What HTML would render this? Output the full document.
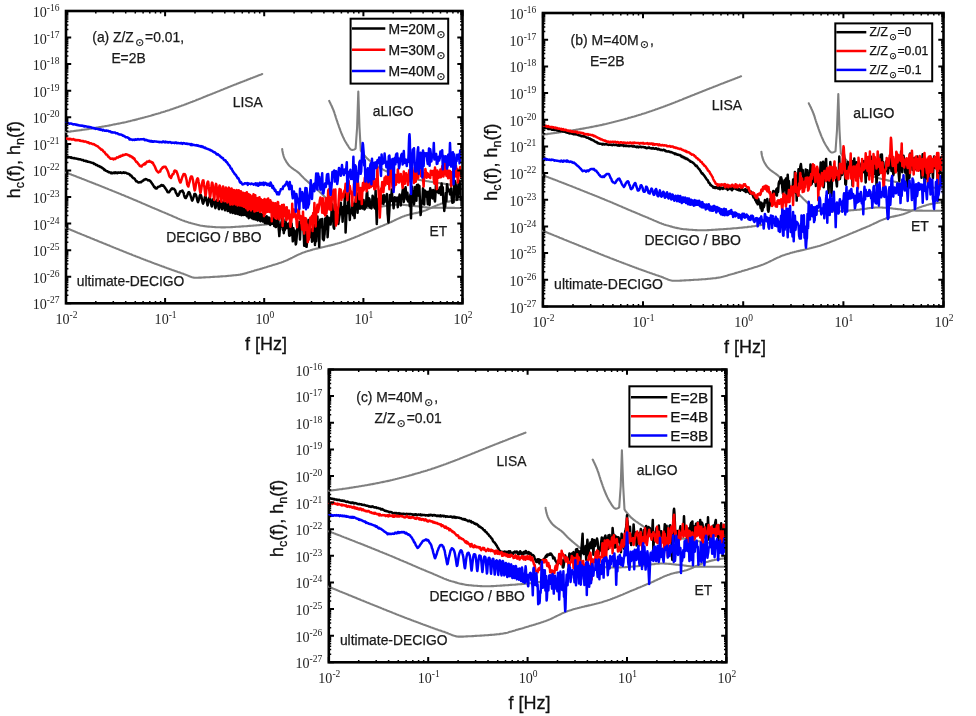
<!DOCTYPE html>
<html lang="en"><head><meta charset="utf-8"><title>Gravitational wave strain spectra</title><style>
html,body{margin:0;padding:0;background:#fff}
svg{display:block;filter:blur(0.35px)}
text{font-family:"Liberation Sans",Arial,sans-serif;fill:#1a1a1a;stroke:#1a1a1a;stroke-width:.25px}
.tk{font-family:"Liberation Serif","Times New Roman",serif;font-size:14.1px;fill:#222;stroke:none}
.sup{font-size:9.5px}
.ax{font-size:18px;fill:#111;stroke:#111;stroke-width:.3px}
.sub{font-size:12.5px}
.lb{font-size:13.85px}
.lbb{font-size:14px}
.lg{font-size:13.9px;fill:#111;stroke:#111}
.lg2{font-size:12.2px;fill:#111;stroke:#111}
.lg3{font-size:15.3px;fill:#111;stroke:#111}
.sun{font-family:"DejaVu Sans",sans-serif;font-size:10.6px}
.sun2{font-family:"DejaVu Sans",sans-serif;font-size:9.2px}
</style></head><body>
<svg width="976" height="716" viewBox="0 0 976 716"><rect width="976" height="716" fill="#fff"/>
<g id="panel-a"><clipPath id="cpa"><rect x="64.6" y="12.4" width="396.5" height="289.5"/></clipPath><rect x="66" y="11" width="396.5" height="292.3" fill="none" stroke="#000" stroke-width="2.6"/><g clip-path="url(#cpa)"><g fill="none" stroke="#808080" stroke-width="2.1" stroke-linejoin="round" stroke-linecap="round"><polyline points="66,132 67,131.9 68,131.8 69,131.7 70,131.6 71,131.4 72,131.3 73,131.2 74,131 75,130.9 75.9,130.8 76.9,130.6 77.9,130.5 78.9,130.4 79.9,130.2 80.9,130.1 81.9,129.9 82.9,129.8 83.9,129.7 84.9,129.5 85.9,129.4 86.9,129.2 87.9,129.1 88.8,128.9 89.8,128.8 90.8,128.6 91.8,128.4 92.8,128.3 93.8,128.1 94.8,128 95.8,127.8 96.8,127.6 97.8,127.5 98.7,127.3 99.7,127.1 100.7,127 101.7,126.8 102.7,126.6 103.7,126.5 104.7,126.3 105.7,126.1 106.6,125.9 107.6,125.7 108.6,125.6 109.6,125.4 110.6,125.2 111.6,125 112.6,124.8 113.5,124.6 114.5,124.4 115.5,124.2 116.5,124 117.5,123.8 118.5,123.6 119.4,123.4 120.4,123.2 121.4,123 122.4,122.8 123.4,122.6 124.3,122.4 125.3,122.2 126.3,122 127.3,121.7 128.2,121.5 129.2,121.3 130.2,121.1 131.2,120.8 132.1,120.6 133.1,120.3 134.1,120.1 135.1,119.9 136,119.6 137,119.4 138,119.1 138.9,118.8 139.9,118.6 140.9,118.3 141.9,118.1 142.8,117.8 143.8,117.6 144.8,117.3 145.7,117 146.7,116.8 147.7,116.5 148.6,116.2 149.6,116 150.6,115.7 151.5,115.4 152.5,115.1 153.5,114.9 154.4,114.6 155.4,114.3 156.3,114 157.3,113.7 158.3,113.5 159.2,113.2 160.2,112.9 161.1,112.6 162.1,112.3 163.1,112 164,111.7 165,111.4 165.9,111.1 166.9,110.8 167.8,110.5 168.8,110.2 169.7,109.9 170.7,109.5 171.6,109.2 172.6,108.9 173.5,108.6 174.5,108.2 175.4,107.9 176.4,107.6 177.3,107.2 178.3,106.9 179.2,106.6 180.1,106.2 181.1,105.9 182,105.5 183,105.2 183.9,104.9 184.9,104.5 185.8,104.2 186.7,103.8 187.7,103.5 188.6,103.1 189.6,102.8 190.5,102.4 191.4,102 192.4,101.7 193.3,101.3 194.2,101 195.2,100.6 196.1,100.2 197,99.8 198,99.5 198.9,99.1 199.8,98.7 200.7,98.4 201.7,98 202.6,97.6 203.5,97.2 204.5,96.8 205.4,96.5 206.3,96.1 207.2,95.7 208.2,95.3 209.1,95 210,94.6 211,94.2 211.9,93.9 212.8,93.5 213.8,93.1 214.7,92.7 215.6,92.4 216.5,92 217.5,91.6 218.4,91.2 219.3,90.9 220.3,90.5 221.2,90.1 222.1,89.7 223.1,89.4 224,89 224.9,88.6 225.8,88.2 226.8,87.9 227.7,87.5 228.6,87.1 229.6,86.8 230.5,86.4 231.4,86 232.4,85.6 233.3,85.3 234.2,84.9 235.2,84.5 236.1,84.2 237,83.8 238,83.4 238.9,83.1 239.8,82.7 240.8,82.3 241.7,82 242.6,81.6 243.6,81.2 244.5,80.9 245.4,80.5 246.4,80.2 247.3,79.8 248.2,79.4 249.2,79.1 250.1,78.7 251,78.3 252,78 252.9,77.6 253.8,77.2 254.8,76.9 255.7,76.5 256.6,76.2 257.6,75.8 258.5,75.4 259.4,75.1 260.4,74.7 261.3,74.4 262.2,74"/><polyline points="66,172.6 66.9,172.9 67.9,173.3 68.8,173.6 69.7,174 70.7,174.3 71.6,174.7 72.6,175.1 73.5,175.4 74.4,175.8 75.4,176.1 76.3,176.5 77.2,176.9 78.2,177.2 79.1,177.6 80,177.9 81,178.3 81.9,178.7 82.8,179 83.8,179.4 84.7,179.8 85.6,180.1 86.6,180.5 87.5,180.9 88.4,181.2 89.4,181.6 90.3,182 91.2,182.3 92.2,182.7 93.1,183.1 94,183.4 95,183.8 95.9,184.2 96.8,184.5 97.8,184.9 98.7,185.3 99.6,185.6 100.6,186 101.5,186.4 102.4,186.8 103.3,187.1 104.3,187.5 105.2,187.9 106.1,188.3 107.1,188.6 108,189 108.9,189.4 109.9,189.8 110.8,190.1 111.7,190.5 112.6,190.9 113.6,191.3 114.5,191.6 115.4,192 116.4,192.4 117.3,192.8 118.2,193.1 119.1,193.5 120.1,193.9 121,194.3 121.9,194.7 122.9,195 123.8,195.4 124.7,195.8 125.6,196.2 126.6,196.6 127.5,196.9 128.4,197.3 129.3,197.7 130.3,198.1 131.2,198.5 132.1,198.9 133,199.3 134,199.7 134.9,200.1 135.8,200.4 136.7,200.8 137.6,201.2 138.6,201.6 139.5,202 140.4,202.4 141.3,202.8 142.2,203.2 143.2,203.6 144.1,204 145,204.4 145.9,204.8 146.9,205.2 147.8,205.6 148.7,206 149.6,206.4 150.5,206.8 151.5,207.2 152.4,207.6 153.3,208 154.2,208.3 155.1,208.7 156.1,209.1 157,209.5 157.9,209.9 158.8,210.3 159.8,210.7 160.7,211.1 161.6,211.5 162.5,211.9 163.5,212.3 164.4,212.6 165.3,213 166.2,213.4 167.2,213.8 168.1,214.2 169,214.6 169.9,215 170.9,215.4 171.8,215.8 172.7,216.2 173.6,216.6 174.5,217 175.5,217.4 176.4,217.8 177.3,218.2 178.2,218.6 179.2,219 180.1,219.4 181,219.7 181.9,220.1 182.9,220.5 183.8,220.8 184.8,221.2 185.7,221.5 186.6,221.8 187.6,222.1 188.5,222.4 189.5,222.7 190.5,222.9 191.4,223.2 192.4,223.5 193.4,223.8 194.3,224 195.3,224.3 196.3,224.5 197.3,224.8 198.2,225 199.2,225.2 200.2,225.5 201.2,225.7 202.2,225.8 203.2,226 204.2,226.1 205.1,226.3 206.1,226.4 207.1,226.5 208.1,226.6 209.1,226.6 210.1,226.7 211.1,226.8 212.1,226.9 213.1,227 214.1,227 215.1,227.1 216.1,227.2 217.1,227.2 218.1,227.3 219.1,227.3 220.1,227.3 221.1,227.4 222.2,227.4 223.2,227.4 224.2,227.4 225.2,227.4 226.2,227.3 227.2,227.3 228.2,227.3 229.2,227.2 230.2,227.2 231.2,227.1 232.2,227.1 233.2,227 234.2,227 235.2,226.9 236.2,226.8 237.2,226.8 238.2,226.7 239.2,226.6 240.2,226.6 241.2,226.5 242.2,226.4 243.2,226.4 244.2,226.3 245.2,226.2 246.2,226.2 247.2,226.1 248.2,226 249.2,225.9 250.2,225.9 251.2,225.8 252.2,225.7 253.2,225.6 254.2,225.5 255.2,225.5 256.2,225.4 257.2,225.3 258.2,225.2 259.2,225.1 260.2,225 261.2,224.9 262.2,224.8 263.2,224.7 264.2,224.6 265.2,224.5 266.2,224.4 267.2,224.3 268.1,224.2 269.1,224.1 270.1,224 271.1,223.8 272.1,223.7 273.1,223.6 274.1,223.4 275.1,223.3 276.1,223.1 277.1,223 278.1,222.8 279.1,222.6 280,222.5 281,222.3 282,222.1 283,221.9 284,221.8 285,221.6 285.1,221.6"/><polyline points="66,227.9 66.9,228.3 67.9,228.6 68.8,229 69.7,229.4 70.6,229.8 71.6,230.2 72.5,230.6 73.4,230.9 74.3,231.3 75.3,231.7 76.2,232.1 77.1,232.5 78,232.9 79,233.2 79.9,233.6 80.8,234 81.7,234.4 82.7,234.8 83.6,235.1 84.5,235.5 85.5,235.9 86.4,236.3 87.3,236.7 88.2,237 89.2,237.4 90.1,237.8 91,238.2 92,238.6 92.9,238.9 93.8,239.3 94.7,239.7 95.7,240.1 96.6,240.4 97.5,240.8 98.4,241.2 99.4,241.6 100.3,242 101.2,242.3 102.2,242.7 103.1,243.1 104,243.5 104.9,243.8 105.9,244.2 106.8,244.6 107.7,245 108.7,245.3 109.6,245.7 110.5,246.1 111.5,246.5 112.4,246.9 113.3,247.2 114.2,247.6 115.2,248 116.1,248.4 117,248.7 118,249.1 118.9,249.5 119.8,249.9 120.7,250.2 121.7,250.6 122.6,251 123.5,251.4 124.5,251.7 125.4,252.1 126.3,252.5 127.2,252.9 128.2,253.2 129.1,253.6 130,254 131,254.3 131.9,254.7 132.8,255.1 133.8,255.5 134.7,255.8 135.6,256.2 136.6,256.6 137.5,256.9 138.4,257.3 139.4,257.6 140.3,258 141.2,258.4 142.2,258.7 143.1,259.1 144,259.5 145,259.8 145.9,260.2 146.8,260.5 147.8,260.9 148.7,261.2 149.7,261.6 150.6,261.9 151.5,262.3 152.5,262.7 153.4,263 154.3,263.4 155.3,263.7 156.2,264.1 157.2,264.4 158.1,264.8 159,265.1 160,265.5 160.9,265.8 161.9,266.2 162.8,266.5 163.7,266.8 164.7,267.2 165.6,267.5 166.6,267.9 167.5,268.2 168.5,268.6 169.4,268.9 170.3,269.2 171.3,269.6 172.2,269.9 173.2,270.2 174.1,270.6 175.1,270.9 176,271.2 177,271.6 177.9,271.9 178.9,272.2 179.8,272.5 180.8,272.9 181.7,273.2 182.7,273.5 183.6,273.9 184.5,274.2 185.5,274.6 186.4,275 187.4,275.4 188.3,275.8 189.3,276.2 190.2,276.6 191.2,276.9 192.2,277.2 193.1,277.4 194.1,277.6 195.1,277.7 196,277.7 197,277.7 198,277.7 199,277.6 200,277.6 201,277.6 202,277.5 203,277.5 204,277.4 205,277.4 206,277.3 207,277.3 208,277.2 209.1,277.2 210.1,277.1 211.1,277 212.1,277 213.1,276.9 214.1,276.9 215.1,276.8 216.1,276.8 217.1,276.7 218.1,276.6 219.1,276.6 220.1,276.5 221.1,276.4 222.1,276.4 223.1,276.3 224.1,276.2 225.1,276.2 226.1,276.1 227.1,276 228.1,275.9 229.1,275.8 230.1,275.7 231.1,275.6 232.1,275.5 233.1,275.4 234.1,275.3 235.1,275.2 236.1,275.1 237.1,275 238,274.9 239,274.7 240,274.6 241,274.4 242,274.2 242.9,273.9 243.9,273.7 244.9,273.4 245.9,273.2 246.8,272.9 247.8,272.6 248.8,272.3 249.7,272 250.7,271.7 251.6,271.4 252.6,271.2 253.6,270.9 254.5,270.6 255.5,270.3 256.5,270.1 257.4,269.8 258.4,269.5 259.4,269.2 260.3,268.9 261.3,268.7 262.2,268.4 263.2,268.1 264.2,267.8 265.1,267.5 266.1,267.2 267,266.9 268,266.6 269,266.3 269.9,266 270.9,265.7 271.8,265.4 272.8,265.1 273.7,264.8 274.7,264.6 275.7,264.3 276.6,264 277.6,263.7 278.5,263.3 279.5,263 280.4,262.7 281.4,262.4 282.3,262.1 283.3,261.7 284.2,261.3 285.1,261 286,260.6 287,260.2 287.9,259.8 288.8,259.3 289.7,258.9 290.6,258.5 291.5,258 292.4,257.6 293.3,257.1 294.2,256.7 295.1,256.2 296,255.8 296.9,255.3 297.8,254.9 298.7,254.5 299.6,254.1 300.6,253.7 301.5,253.3 302.4,252.9 303.3,252.5 304.3,252.2 305.2,251.9 306.1,251.6 307.1,251.3 308,251 309,250.7 310,250.4 310.9,250.1 311.9,249.9 312.8,249.6 313.8,249.3 314.8,249.1 315.8,248.8 316.7,248.6 317.7,248.4 318.7,248.1 319.7,247.9 320.6,247.7 321.6,247.4 322.6,247.2 323.6,247 324.6,246.7 325.6,246.5 326.5,246.3 327.5,246.1 328.5,245.8 329.5,245.6 330.5,245.4 331.4,245.1 332.4,244.9 333.4,244.6 334.3,244.4 335.3,244.1 336.3,243.8 337.2,243.6 338.2,243.3 339.2,243 340.1,242.7 341.1,242.4 342,242.1 343,241.8 343.9,241.5 344.9,241.2 345.8,240.8 346.7,240.5 347.7,240.1 348.6,239.8 349.6,239.4 350.5,239.1 351.4,238.7 352.4,238.3 353.3,238 354.2,237.6 355.1,237.2 356.1,236.8 357,236.5 357.9,236.1 358.9,235.7 359.8,235.3 360.7,234.9 361.6,234.5 362.6,234.1 363.5,233.7 364.4,233.3 365.3,232.9 366.3,232.6 367.2,232.2 368.1,231.8 369,231.4 370,231 370.9,230.6 371.8,230.2 372.7,229.8 373.7,229.4 374.6,229.1 375.5,228.7 376.4,228.3 377.4,227.9 378.3,227.5 379.2,227.1 380.1,226.7 381.1,226.3 382,226 382.9,225.6 383.8,225.2 384.7,224.8 385.7,224.4 386.6,224 387.5,223.6 388.4,223.2 389.3,222.8 390.3,222.4 391.2,222 392.1,221.5 393,221.1 393.9,220.7 394.8,220.2 395.7,219.8 396.6,219.4 397.5,218.9 398.5,218.5 399.4,218.1 400.3,217.7 401.2,217.3 402.1,216.9 403,216.5 404,216.2 404.9,215.8 405.9,215.5 406.8,215.2 407.8,214.9 408.7,214.7 409.7,214.4 410.7,214.2 411.6,214 412.6,213.7 413.6,213.5 414.6,213.3 415.6,213.1 416.6,212.9 417.6,212.7 418.5,212.4 419.5,212.2 420.5,212 421.4,211.7 422.4,211.4 423.4,211.1 424.3,210.8 425.2,210.5 426.2,210.1 427.1,209.7 428,209.3 428.9,208.9 429.8,208.5 430.7,208.1 431.7,207.6 432.6,207.2 433.5,206.8 434.4,206.4 435.3,206 436.2,205.6 437.2,205.2 438.1,204.8 439.1,204.5 440,204.2 440.9,203.8 441.9,203.5 442.9,203.2 443.8,202.9 444.8,202.6 445.7,202.3 446.7,202 447.7,201.8 448.6,201.6 449.6,201.4 450.6,201.1 451.6,201 452.5,200.8 453.5,200.6 454.5,200.4 455.5,200.2 456.5,200.1 457.5,199.9 458.5,199.8 459.5,199.7 460.5,199.6 461.5,199.5 462.5,199.4 462.5,199.4"/><polyline points="282.2,149.1 282.3,150.2 282.5,151.2 282.7,152.2 282.9,153.2 283.1,154.1 283.4,155.1 283.6,156 283.9,156.9 284.3,157.9 284.7,158.8 285.2,159.7 285.7,160.6 286.2,161.5 286.7,162.4 287.3,163.2 287.9,164 288.5,164.8 289.1,165.5 289.8,166.2 290.5,166.8 291.3,167.5 292.1,168.1 292.9,168.7 293.8,169.3 294.6,169.8 295.4,170.4 296.3,171 297.1,171.6 297.9,172.2 298.7,172.9 299.4,173.5 300.1,174.2 300.8,175 301.5,175.7 302.2,176.4 302.9,177.1 303.6,177.9 304.3,178.6 305,179.3 305.8,179.9 306.5,180.6 307.3,181.3 308,181.9 308.8,182.6 309.5,183.2 310.3,183.9 311.1,184.5 311.8,185.2 312.6,185.8 313.4,186.5 314.1,187.1 314.9,187.7 315.7,188.4 316.4,189 317.2,189.7 318,190.4 318.7,191 319.5,191.7 320.2,192.4 320.9,193.1 321.6,193.8 322.3,194.5 323,195.2 323.8,195.9 324.5,196.6 325.2,197.3 325.9,198 326.6,198.8 327.3,199.5 328,200.1 328.7,200.8 329.5,201.5 330.2,202.1 331,202.8 331.8,203.6 332.5,204.3 333.3,205.1 334.1,205.8 334.9,206.5 335.7,207.1 336.6,207.6 337.4,207.9 338.3,208.1 339.2,208.2 340.1,208.2 341.1,208.3 342.1,208.4 343.1,208.4 344.1,208.5 345.1,208.5 346.1,208.6 347.2,208.6 348.2,208.6 349.3,208.6 350.3,208.7 351.3,208.7 352.3,208.7 353.3,208.7 354.3,208.6 355.3,208.6 356.3,208.6 357.3,208.6 358.3,208.5 359.3,208.5 360.3,208.4 361.3,208.3 362.3,208.3 363.3,208.2 364.3,208.1 365.3,208 366.3,207.9 367.3,207.9 368.3,207.8 369.3,207.7 370.3,207.6 371.3,207.5 372.3,207.4 373.3,207.3 374.3,207.2 375.3,207.1 376.3,207.1 377.3,207 378.3,206.9 379.3,206.8 380.3,206.6 381.3,206.5 382.3,206.4 383.3,206.2 384.3,206.1 385.3,205.9 386.3,205.8 387.3,205.6 388.3,205.5 389.3,205.4 390.3,205.2 391.3,205.1 392.3,205 393.3,204.9 394.3,204.8 395.3,204.8 396.3,204.7 397.2,204.7 398.2,204.7 399.2,204.7 400.2,204.7 401.2,204.7 402.2,204.8 403.2,204.9 404.2,204.9 405.2,205 406.2,205.1 407.2,205.2 408.2,205.3 409.2,205.4 410.2,205.5 411.2,205.6 412.2,205.7 413.2,205.9 414.2,206 415.2,206.1 416.2,206.2 417.2,206.3 418.2,206.4 419.2,206.5 420.2,206.6 421.2,206.8 422.2,206.9 423.2,207 424.2,207.2 425.2,207.3 426.2,207.4 427.2,207.5 428.2,207.6 429.2,207.6 430.2,207.7 431.2,207.7 432.2,207.7 433.2,207.7 434.2,207.7 435.2,207.8 436.2,207.8 437.2,207.8 438.2,207.8 439.2,207.8 440.2,207.8 441.2,207.8 442.2,207.8 443.2,207.9 444.2,207.9 445.2,207.9 446.2,207.9 447.2,207.9 448.2,207.9 449.2,207.9 450.2,207.9 451.2,207.9 452.2,207.9 453.2,207.9 454.2,207.9 455.2,208 456.2,208 457.2,208 458.2,208 459.2,208 460.3,208 461.3,208 462.3,208 462.5,208"/><polyline points="329.2,100.9 329.6,101.8 330.1,102.7 330.5,103.6 330.9,104.5 331.4,105.4 331.8,106.3 332.2,107.3 332.6,108.2 333,109.1 333.4,110 333.7,111 334.1,111.9 334.4,112.8 334.7,113.8 335,114.7 335.3,115.7 335.6,116.6 335.9,117.6 336.2,118.5 336.5,119.5 336.8,120.5 337.2,121.4 337.5,122.4 337.8,123.3 338.1,124.2 338.5,125.2 338.8,126.1 339.1,127.1 339.5,128 339.8,129 340.2,129.9 340.5,130.8 340.9,131.8 341.2,132.7 341.6,133.6 342,134.5 342.4,135.5 342.8,136.4 343.2,137.3 343.7,138.2 344.1,139.1 344.5,140 345,140.9 345.5,141.8 346,142.6 346.5,143.5 347.1,144.4 347.7,145.3 348.3,146.3 348.9,147.3 349.6,148.2 350.3,149 351,149.6 351.7,149.9 352.5,149.9 353.4,149.7 354.4,149.4 355.4,148.8 355.6,148.6 357.1,127.6 358.3,91.6 359.5,127.6 360.8,150.6 361.4,151.5 362,152.3 362.6,153.2 363.2,154 363.8,154.7 364.5,155.5 365.1,156.3 365.8,157 366.5,157.7 367.2,158.4 367.9,159.1 368.6,159.8 369.4,160.4 370.2,161 371,161.6 371.8,162.2 372.6,162.8 373.4,163.4 374.3,163.9 375.1,164.5 376,165.1 376.8,165.6 377.6,166.2 378.5,166.8 379.3,167.3 380.1,167.9 381,168.4 381.9,168.9 382.7,169.4 383.6,169.9 384.5,170.4 385.4,170.8 386.3,171.2 387.2,171.6 388.1,172 389,172.4 390,172.7 390.9,173.1 391.9,173.4 392.8,173.8 393.8,174.1 394.7,174.4 395.7,174.7 396.6,175 397.6,175.3 398.6,175.6 399.5,175.8 400.5,176.1 401.5,176.3 402.4,176.6 403.4,176.8 404.4,177 405.4,177.3 406.3,177.5 407.3,177.7 408.3,177.9 409.3,178.1 410.3,178.3 411.3,178.4 412.2,178.6 413.2,178.8 414.2,179 415.2,179.2 416.2,179.3 417.2,179.5 418.2,179.7 419.2,179.9 420.2,180 421.2,180.2 422.1,180.4 423.1,180.5 424.1,180.7 425.1,180.8 426.1,181 427.1,181.2 428.1,181.3 429.1,181.5 430,181.7 431,181.8 432,182 433,182.1 434,182.3 435,182.4 436,182.6 437,182.7 438,182.9 439,183 440,183.2 440.9,183.3 441.9,183.5 442.9,183.6 443.9,183.8 444.9,183.9 445.9,184 446.9,184.2 447.9,184.3 448.9,184.4 449.9,184.6 450.9,184.7 451.9,184.8 452.9,185 453.9,185.1 454.9,185.2 455.9,185.3 456.9,185.4 457.9,185.5 458.8,185.7 459.8,185.8 460.8,185.9 461.8,186 462.5,186.1"/></g><g fill="none" stroke-width="2.5" stroke-linejoin="round" stroke-linecap="butt"><polyline stroke="#000" points="66,156.6 66.3,156.9 66.6,157.1 66.9,157.2 67.2,157.2 67.5,157 67.8,156.8 68.1,157 68.4,157.2 68.7,157.1 69,157.1 69.3,157.2 69.6,157.3 69.9,157.2 70.2,157.2 70.5,157.5 70.8,157.7 71.1,157.6 71.4,157.4 71.7,157.7 72,158 72.3,158 72.6,158.1 72.9,158.1 73.2,158 73.5,158.2 73.8,158.3 74.1,158.2 74.4,158 74.7,158.2 75,158.4 75.3,158.4 75.6,158.5 75.9,158.5 76.2,158.6 76.5,158.6 76.8,158.7 77.1,158.8 77.4,159 77.7,159 78,159 78.3,159 78.6,158.9 78.9,159.2 79.2,159.4 79.5,159.3 79.8,159.3 80.1,159.3 80.4,159.4 80.7,159.5 81,159.6 81.3,159.7 81.6,159.9 81.9,159.9 82.2,160 82.5,159.9 82.8,159.9 83.1,160.1 83.4,160.3 83.7,160.6 84,160.9 84.3,160.8 84.6,160.8 84.9,160.8 85.2,160.7 85.5,161 85.8,161.2 86.1,161.1 86.4,161.1 86.7,161.1 87,161.2 87.3,161.5 87.6,161.8 87.9,161.7 88.2,161.7 88.5,161.8 88.8,161.9 89.1,161.9 89.4,161.9 89.7,162 90,162.1 90.3,162.3 90.6,162.4 90.9,162.5 91.2,162.6 91.5,162.6 91.8,162.7 92.1,162.9 92.4,163 92.7,163 93,162.9 93.3,163 93.6,163.1 93.9,163.5 94.2,164 94.5,164 94.8,164 95.1,164.1 95.4,164.2 95.7,164.6 96,165 96.3,165.1 96.6,165.1 96.9,165.1 97.2,165.1 97.5,165.4 97.8,165.8 98.1,166 98.4,166.1 98.7,166 99,165.9 99.3,166.2 99.6,166.5 99.9,166.8 100.2,167 100.5,166.9 100.8,166.8 101.1,167.1 101.4,167.4 101.7,167.6 102,167.7 102.3,168 102.6,168.3 102.9,168.4 103.2,168.5 103.5,168.8 103.8,169 104.1,169.6 104.4,170.1 104.7,170 105,169.8 105.3,170.2 105.6,170.6 105.9,170.8 106.2,170.9 106.5,171 106.8,171 107.1,171.2 107.4,171.3 107.7,171.6 108,171.8 108.3,172 108.6,172.2 108.9,172.1 109.2,172.1 109.5,172.2 109.8,172.4 110.1,172.5 110.4,172.7 110.7,172.9 111,173.1 111.3,172.8 111.6,172.6 111.9,173 112.2,173.3 112.5,173.2 112.8,173.1 113.1,172.9 113.4,172.7 113.7,172.6 114,172.5 114.3,172.8 114.6,173.1 114.9,172.7 115.2,172.3 115.5,172.6 115.8,172.8 116.1,173 116.4,173.1 116.7,172.8 117,172.5 117.3,173 117.6,173.2 117.9,172.9 118.2,172.4 118.5,172.5 118.8,172.6 119.1,172.7 119.4,172.8 119.7,172.7 120,172.6 120.3,172.4 120.6,172.2 120.9,172.6 121.2,172.9 121.5,172.9 121.8,172.9 122.1,172.9 122.4,172.7 122.7,172.7 123,172.7 123.3,172.5 123.6,172.3 123.9,172.6 124.2,172.9 124.5,172.7 124.8,172.5 125.1,172.6 125.4,172.8 125.7,172.8 126,172.8 126.3,173 126.6,173.2 126.9,173.4 127.2,173.5 127.5,173.6 127.8,173.6 128.1,173.7 128.4,173.8 128.7,173.9 129,174.1 129.3,174.2 129.6,174.3 129.9,174.8 130.2,175.4 130.5,175.4 130.8,175.5 131.1,175.5 131.4,175.6 131.7,176.3 132,177 132.3,177.2 132.6,177.4 132.9,177.7 133.2,178 133.5,178.1 133.8,178.3 134.1,178.4 134.4,178.6 134.7,179 135,179.3 135.3,179.8 135.6,180.3 135.9,180.8 136.2,181.3 136.5,181.3 136.8,181.2 137.1,181.5 137.4,181.8 137.7,182 138,182.2 138.3,182.4 138.6,182.6 138.9,182.5 139.2,182.3 139.5,182.3 139.8,182.3 140.1,182.2 140.4,182 140.7,182.1 141,182.2 141.3,181.8 141.6,181.4 141.9,181.4 142.2,181.3 142.5,181 142.8,180.7 143.1,180.6 143.4,180.6 143.7,180.1 144,179.7 144.3,179.6 144.6,179.6 144.9,179.6 145.2,179.6 145.5,179.3 145.8,179 146.1,179.2 146.4,179.3 146.7,179.4 147,179.4 147.3,179.7 147.6,180 147.9,180.2 148.2,180.4 148.5,180.3 148.8,180.2 149.1,180.2 149.4,180.2 149.7,180.6 150,181 150.3,181.1 150.6,181.3 150.9,181.8 151.2,182.4 151.5,182.7 151.8,183.1 152.1,183.6 152.4,184.1 152.7,184.5 153,184.8 153.3,185.4 153.6,185.9 153.9,186.5 154.2,187 154.5,186.9 154.8,187 155.1,187.6 155.4,188.3 155.7,188.4 156,188.4 156.3,188.5 156.6,188.6 156.9,188.3 157.2,187.9 157.5,187.5 157.8,187 158.1,186.9 158.4,186.7 158.7,186.7 159,186.6 159.3,186.5 159.6,186.4 159.9,186.3 160.2,186.2 160.5,186 160.8,185.7 161.1,185.3 161.4,184.9 161.7,185 162,185.2 162.3,185.5 162.6,185.8 162.9,185.6 163.2,185.4 163.5,185.7 163.8,186.1 164.1,186.4 164.4,186.8 164.7,187.4 165,188 165.3,188.2 165.6,188.5 165.9,189.1 166.2,189.6 166.5,190 166.8,190.3 167.1,191.1 167.4,191.9 167.7,192.1 168,192.2 168.3,192.3 168.6,192.3 168.9,192.3 169.2,192.2 169.5,191.7 169.8,191.2 170.1,190.7 170.4,190.3 170.7,189.9 171,189.4 171.3,189.1 171.6,188.8 171.9,188.5 172.2,188.3 172.5,188.6 172.8,189 173.1,189 173.4,188.9 173.7,188.8 174,188.8 174.3,189.2 174.6,189.6 174.9,189.9 175.2,190.3 175.5,191.4 175.8,192.6 176.1,193 176.4,193.4 176.7,194 177,194.5 177.3,195.3 177.6,195.8 177.9,195.8 178.2,195.4 178.5,195.1 178.8,194.7 179.1,194 179.4,193.2 179.7,192.4 180,191.7 180.3,191.4 180.6,191.2 180.9,191.2 181.2,191.2 181.5,191.1 181.8,191 182.1,190.7 182.4,190.5 182.7,191.3 183,192.2 183.3,192.4 183.6,192.7 183.9,194.3 184.2,195.7 184.5,196.6 184.8,197.3 185.1,197.7 185.4,197.9 185.7,198.1 186,197.9 186.3,197.3 186.6,196.5 186.9,196 187.2,195.5 187.5,194.7 187.8,194.1 188.1,193.2 188.4,192.5 188.7,192.2 189,192.1 189.3,192.4 189.6,193 189.9,193.7 190.2,194.6 190.5,195.5 190.8,196.5 191.1,197.4 191.4,198.2 191.7,199.5 192,200.5 192.3,200.6 192.6,199.9 192.9,199.2 193.2,198.2 193.5,197.3 193.8,196.4 194.1,195.2 194.4,194.1 194.7,193.9 195,193.9 195.3,194 195.6,194.4 195.9,195 196.2,195.8 196.5,196.8 196.8,198 197.1,199.3 197.4,200.5 197.7,201.6 198,202.1 198.3,201.5 198.6,200.4 198.9,199.5 199.2,198.6 199.5,196.8 199.8,195.6 200.1,195 200.4,195.1 200.7,195 201,195.3 201.3,196.3 201.6,197.6 201.9,199 202.2,200.4 202.5,201.9 202.8,203.1 203.1,203.6 203.4,202.9 203.7,201.9 204,200.8 204.3,199.5 204.6,198.4 204.9,197.1 205.2,196.4 205.5,196.6 205.8,197.2 206.1,198.3 206.4,199.9 206.7,201.1 207,202.4 207.3,204.3 207.6,205.4 207.9,204.4 208.2,202.7 208.5,201.1 208.8,199.5 209.1,198.3 209.4,197.6 209.7,197.6 210,198.2 210.3,199.2 210.6,200.7 210.9,202.3 211.2,204 211.5,205.9 211.8,206.4 212.1,204.9 212.4,202.9 212.7,201.1 213,199.7 213.3,199 213.6,199 213.9,199.7 214.2,201.1 214.5,203.1 214.8,205.2 215.1,207.2 215.4,208.1 215.7,207.3 216,205.6 216.3,203.5 216.6,201.6 216.9,200.2 217.2,199.7 217.5,200.2 217.8,201.7 218.1,203.9 218.4,206.4 218.7,208.7 219,209.2 219.3,206.9 219.6,204.3 219.9,202.3 220.2,201 220.5,201 220.8,202 221.1,203.8 221.4,206.1 221.7,208.1 222,209.3 222.3,208.4 222.6,206.1 222.9,204.1 223.2,202.7 223.5,201.6 223.8,201.8 224.1,203.7 224.4,206.4 224.7,208.8 225,210.3 225.3,208.8 225.6,206.1 225.9,204.2 226.2,203.2 226.5,202.6 226.8,203.4 227.1,205.4 227.4,208.1 227.7,211.1 228,211.1 228.3,208.2 228.6,205.3 228.9,203 229.2,202.3 229.5,203.8 229.8,206.7 230.1,210.2 230.4,212.6 230.7,210.6 231,207.3 231.3,205 231.6,204.1 231.9,204.7 232.2,207 232.5,210.3 232.8,213 233.1,211.7 233.4,208.4 233.7,205.9 234,204.9 234.3,205.4 234.6,207.8 234.9,211.3 235.2,213.7 235.5,211.3 235.8,207.8 236.1,205.2 236.4,204.8 236.7,206.7 237,210.3 237.3,213.9 237.6,213.4 237.9,209.8 238.2,206.7 238.5,205.7 238.8,207.1 239.1,210.8 239.4,214.7 239.7,213.7 240,209.8 240.3,206.7 240.6,206 240.9,208.3 241.2,212.4 241.5,215.3 241.8,212.6 242.1,208.3 242.4,206 242.7,207.2 243,211.3 243.3,215 243.6,214.2 243.9,210.1 244.2,207.1 244.5,207.4 244.8,210.7 245.1,214.9 245.4,214.9 245.7,211.2 246,208.7 246.3,208.3 246.6,211.3 246.9,216.3 247.2,216 247.5,212.1 247.8,209.8 248.1,211 248.4,215.2 248.7,218.2 249,214 249.3,210.2 249.6,209.5 249.9,212.6 250.2,217.3 250.5,216.2 250.8,211.1 251.1,208.7 251.4,210.5 251.7,216.2 252,218.3 252.3,213.2 252.6,209.9 252.9,212.4 253.2,218.1 253.5,219 253.8,213.5 254.1,210.5 254.4,212.2 254.7,218 255,219.1 255.3,213.6 255.6,211.2 255.9,214.4 256.2,219.6 256.5,217.4 256.8,213.1 257.1,212.7 257.4,216.9 257.7,220.5 258,216.2 258.3,212.5 258.6,214.4 258.9,219.4 259.2,216.3 259.5,212.7 259.8,214.5 260.1,220.7 260.4,221.3 260.7,216.2 261,215.6 261.3,218.6 261.6,219.2 261.9,214.1 262.2,214.1 262.5,219.2 262.8,221.6 263.1,216.1 263.4,215 263.7,219.7 264,221 264.3,216.8 264.6,217.7 264.9,223.1 265.2,222.7 265.5,216.9 265.8,217.3 266.1,223.3 266.4,220.1 266.7,216.3 267,219.5 267.3,223.2 267.6,217.9 267.9,217.6 268.2,223.4 268.5,221.7 268.8,217.5 269.1,220.5 269.4,223.8 269.7,219 270,219.8 270.3,225 270.6,221 270.9,218.4 271.2,223.3 271.5,223.1 271.8,218.7 272.1,221.6 272.4,223.8 272.7,218.3 273,219.7 273.3,223.5 273.6,217.7 273.9,219.8 274.2,226 274.5,220.2 274.8,220 275.1,226.4 275.4,222.7 275.7,222.8 276,227.1 276.3,221.1 276.6,221.3 276.9,225.7 277.2,221.2 277.5,220.6 277.8,219.7 278.1,217.6 278.4,223.6 278.7,228.8 279,231.8 279.3,236.1 279.6,232.1 279.9,228.7 280.2,229.5 280.5,224.6 280.8,227.2 281.1,226.5 281.4,223 281.7,224.5 282,217.3 282.3,222.1 282.6,227.2 282.9,225.1 283.2,230.5 283.5,229.3 283.8,233.2 284.1,230.4 284.4,224.1 284.7,230.3 285,228.6 285.3,226 285.6,219.2 285.9,222.5 286.2,228.1 286.5,225 286.8,228.2 287.1,224.5 287.4,227.2 287.7,225.5 288,227.1 288.3,225.5 288.6,223.5 288.9,231.2 289.2,235.6 289.5,235.8 289.8,230.7 290.1,235.3 290.4,234 290.7,232.4 291,225.1 291.3,226.8 291.6,223.6 291.9,227.9 292.2,227.7 292.5,236.6 292.8,241.3 293.1,237 293.4,228.3 293.7,234.5 294,236.4 294.3,233.9 294.6,230.4 294.9,235.9 295.2,238.5 295.5,241.8 295.8,244.5 296.1,243.5 296.4,240.3 296.7,236.7 297,233.4 297.3,228.7 297.6,227.5 297.9,225.1 298.2,225.8 298.5,226.4 298.8,228.4 299.1,225.9 299.4,221.8 299.7,232.1 300,239.5 300.3,232 300.6,224 300.9,224.2 301.2,226.6 301.5,223.6 301.8,222.2 302.1,224.8 302.4,225.7 302.7,226.9 303,227 303.3,228.3 303.6,231.3 303.9,238.3 304.2,245.7 304.5,236.9 304.8,226.1 305.1,227.1 305.4,229.2 305.7,234.3 306,239.7 306.3,246.7 306.6,246.8 306.9,243.4 307.2,230.3 307.5,229.6 307.8,227.8 308.1,223.6 308.4,220.1 308.7,223.6 309,227.2 309.3,229.3 309.6,231.6 309.9,234.1 310.2,236.9 310.5,234.8 310.8,232.8 311.1,231.3 311.4,229.6 311.7,235.5 312,241.8 312.3,235.8 312.6,229.1 312.9,234.6 313.2,240.5 313.5,238.3 313.8,235.9 314.1,230.5 314.4,225.2 314.7,234.9 315,244.9 315.3,235.1 315.6,225.1 315.9,233.2 316.2,241.2 316.5,233.7 316.8,226.3 317.1,221.3 317.4,216.5 317.7,225.2 318,233.8 318.3,229.5 318.6,225 318.9,236.9 319.2,246.7 319.5,236.2 319.8,223.7 320.1,221.5 320.4,219.4 320.7,223.3 321,227.2 321.3,227.1 321.6,227 321.9,223 322.2,218.9 322.5,230.1 322.8,239 323.1,239 323.4,239.6 323.7,240.3 324,238.5 324.3,235.7 324.6,234.3 324.9,227.5 325.2,218.5 325.5,223 325.8,229.1 326.1,224.7 326.4,220 326.7,218 327,215.9 327.3,226.5 327.6,237.2 327.9,232.5 328.2,227.9 328.5,223.2 328.8,217.8 329.1,219.8 329.4,222.1 329.7,220.5 330,219.2 330.3,222.3 330.6,224.5 330.9,221.6 331.2,219.2 331.5,212.2 331.8,204.2 332.1,207.7 332.4,212 332.7,212.9 333,212.4 333.3,219.2 333.6,227 333.9,228.1 334.2,228.6 334.5,218.2 334.8,207.5 335.1,205.2 335.4,204.3 335.7,208.7 336,212.7 336.3,213.8 336.6,213.2 336.9,213.9 337.2,214.8 337.5,215.6 337.8,218 338.1,220.1 338.4,224 338.7,221 339,219.1 339.3,216.9 339.6,215.2 339.9,211.1 340.2,207.5 340.5,204.7 340.8,202.8 341.1,207.6 341.4,214.1 341.7,210.9 342,209.4 342.3,215.3 342.6,221.7 342.9,215 343.2,206.9 343.5,208.2 343.8,208.7 344.1,206.4 344.4,205.5 344.7,199.3 345,192.9 345.3,212.7 345.6,232.4 345.9,225.5 346.2,219.3 346.5,213 346.8,206.2 347.1,209.4 347.4,213.1 347.7,209.5 348,206 348.3,199.5 348.6,192.6 348.9,201.1 349.2,209.9 349.5,214.9 349.8,220 350.1,215.2 350.4,210.3 350.7,210.5 351,210.6 351.3,211.6 351.6,212.6 351.9,207.2 352.2,201.8 352.5,208 352.8,214.2 353.1,214.8 353.4,215.5 353.7,209.9 354,204.1 354.3,211.1 354.6,218.1 354.9,211.9 355.2,205.8 355.5,202.3 355.8,199 356.1,198.9 356.4,198.3 356.7,195.6 357,193.5 357.3,203.7 357.6,212.7 357.9,203.5 358.2,195.3 358.5,201.3 358.8,206.8 359.1,201.7 359.4,195.6 359.7,201.4 360,208.6 360.3,201 360.6,194.9 360.9,200.4 361.2,206.4 361.5,206.9 361.8,207.2 362.1,207.9 362.4,208.5 362.7,207.7 363,207.7 363.3,203 363.6,200 363.9,203.9 364.2,208.3 364.5,209.4 364.8,208.9 365.1,207.4 365.4,206.8 365.7,207.2 366,207 366.3,200.6 366.6,194.7 366.9,193.4 367.2,191.4 367.5,197.2 367.8,203.1 368.1,204.5 368.4,206 368.7,202.1 369,198.2 369.3,198.9 369.6,199.5 369.9,203.6 370.2,207.7 370.5,205.4 370.8,203.1 371.1,205.7 371.4,208.4 371.7,206.2 372,204.3 372.3,200.3 372.6,195.7 372.9,196.9 373.2,198.9 373.5,200.8 373.8,201.6 374.1,204.4 374.4,207.7 374.7,207.3 375,208.4 375.3,199.5 375.6,190.5 375.9,199.5 376.2,207.4 376.5,216.2 376.8,223.9 377.1,213.7 377.4,203.6 377.7,200.8 378,199.5 378.3,198.9 378.6,198.4 378.9,203.6 379.2,208.4 379.5,205.3 379.8,202.6 380.1,202.5 380.4,202.5 380.7,200 381,197 381.3,200.2 381.6,203.5 381.9,199.6 382.2,195.8 382.5,196.4 382.8,197.1 383.1,200.8 383.4,204.1 383.7,199.6 384,195.3 384.3,198.4 384.6,202 384.9,199.9 385.2,197.7 385.5,198.2 385.8,198 386.1,198 386.4,199.3 386.7,194.6 387,194 387.3,204.3 387.6,213.5 387.9,216.1 388.2,220.5 388.5,222.5 388.8,219.2 389.1,214.7 389.4,209.7 389.7,202 390,194.9 390.3,196.4 390.6,198.1 390.9,199.5 391.2,200.9 391.5,195.2 391.8,189.4 392.1,194.9 392.4,200.2 392.7,200.6 393,201.2 393.3,204.6 393.6,208.3 393.9,205.4 394.2,202.8 394.5,200.6 394.8,197.2 395.1,198.1 395.4,199.6 395.7,199.7 396,201 396.3,199.6 396.6,198.6 396.9,198.9 397.2,197.6 397.5,202.1 397.8,207.2 398.1,202.6 398.4,197.4 398.7,198.1 399,198.9 399.3,196.7 399.6,194.6 399.9,195.6 400.2,196.8 400.5,201.3 400.8,205.5 401.1,200.7 401.4,196.1 401.7,197.1 402,197.2 402.3,193.5 402.6,191 402.9,189 403.2,188.8 403.5,194.9 403.8,201.9 404.1,198.4 404.4,193.5 404.7,191.7 405,190.4 405.3,189 405.6,187.3 405.9,191 406.2,194.6 406.5,197.1 406.8,199.4 407.1,196 407.4,192.8 407.7,197.2 408,201.5 408.3,198.8 408.6,197.5 408.9,196.7 409.2,196.8 409.5,200.7 409.8,206.1 410.1,200.1 410.4,194.6 410.7,206.5 411,218.3 411.3,205.9 411.6,193.3 411.9,189.9 412.2,186.7 412.5,189.4 412.8,191.5 413.1,192.1 413.4,193.3 413.7,199.7 414,204.4 414.3,201.8 414.6,197.7 414.9,193.2 415.2,186.9 415.5,193.2 415.8,200 416.1,200.5 416.4,200.6 416.7,192.7 417,185 417.3,190.2 417.6,195.6 417.9,190.4 418.2,184.7 418.5,190 418.8,195.7 419.1,188.8 419.4,186 419.7,195.4 420,203.9 420.3,208.9 420.6,215.1 420.9,212.2 421.2,203.1 421.5,201 421.8,204 422.1,200.7 422.4,201 422.7,194.3 423,188.3 423.3,193.3 423.6,196.9 423.9,201.1 424.2,204.6 424.5,197.2 424.8,190.6 425.1,193.7 425.4,196.5 425.7,195.6 426,194.5 426.3,192.9 426.6,191.8 426.9,194.4 427.2,195.2 427.5,200.5 427.8,204.2 428.1,198.3 428.4,191.8 428.7,193.5 429,195.5 429.3,200.2 429.6,205 429.9,196.6 430.2,188.2 430.5,192.4 430.8,197.7 431.1,194.2 431.4,191.1 431.7,190.5 432,191 432.3,194.9 432.6,198.5 432.9,194.4 433.2,190.1 433.5,190.8 433.8,192.3 434.1,196 434.4,198.5 434.7,200.2 435,201.5 435.3,196.5 435.6,191.9 435.9,185.9 436.2,180 436.5,184.5 436.8,189.4 437.1,190 437.4,191.9 437.7,190.2 438,189.8 438.3,191.4 438.6,193.1 438.9,192.8 439.2,192.8 439.5,190.6 439.8,187.4 440.1,188.7 440.4,191 440.7,192.9 441,194.7 441.3,189.1 441.6,183.4 441.9,188.1 442.2,192.8 442.5,190.1 442.8,187.2 443.1,195.5 443.4,203.3 443.7,203.7 444,206.1 444.3,211 444.6,206 444.9,204.6 445.2,206.7 445.5,201.2 445.8,193 446.1,196.9 446.4,201 446.7,192.7 447,184.2 447.3,185.6 447.6,187.5 447.9,189.9 448.2,191.3 448.5,190.7 448.8,190.7 449.1,190.4 449.4,189.7 449.7,191.6 450,194.4 450.3,191.3 450.6,189.8 450.9,189.4 451.2,188.4 451.5,193.7 451.8,198.6 452.1,199.9 452.4,202.8 452.7,199.4 453,196.6 453.3,199.5 453.6,202.3 453.9,192.2 454.2,182.6 454.5,181.1 454.8,180.9 455.1,182 455.4,182.6 455.7,185.2 456,187.4 456.3,194.2 456.6,199.6 456.9,199.7 457.2,199.6 457.5,198 457.8,196.2 458.1,191.5 458.4,185.8 458.7,184.6 459,182.9 459.3,182.1 459.6,180.8 459.9,185.4 460.2,190.6 460.5,195.3 460.8,199.4 461.1,195.6 461.4,191.2 461.7,192.3 462,194 462.3,191.9"/><polyline stroke="#f00" points="66,138.6 66.3,138.6 66.6,138.6 66.9,138.6 67.2,138.7 67.5,138.8 67.8,138.9 68.1,138.8 68.4,138.8 68.7,139.2 69,139.2 69.3,139.2 69.6,138.8 69.9,138.8 70.2,138.9 70.5,138.9 70.8,139 71.1,139.3 71.4,139.6 71.7,139.5 72,139.5 72.3,139.4 72.6,139.4 72.9,139.2 73.2,139 73.5,139.3 73.8,139.6 74.1,139.6 74.4,139.5 74.7,139.9 75,140.2 75.3,140.1 75.6,139.8 75.9,140.1 76.2,140.3 76.5,140.2 76.8,140 77.1,140.1 77.4,140.1 77.7,140.2 78,140.3 78.3,140.2 78.6,140.1 78.9,140.2 79.2,140.3 79.5,140.5 79.8,140.7 80.1,140.6 80.4,140.5 80.7,140.7 81,140.9 81.3,140.9 81.6,141 81.9,140.9 82.2,140.9 82.5,141.1 82.8,141.3 83.1,141.2 83.4,141 83.7,141.4 84,141.7 84.3,141.5 84.6,141.4 84.9,141.4 85.2,141.4 85.5,141.5 85.8,141.6 86.1,141.8 86.4,141.9 86.7,142.1 87,142.3 87.3,142.4 87.6,142.6 87.9,142.4 88.2,142.3 88.5,142.4 88.8,142.6 89.1,143.1 89.4,143.4 89.7,143.4 90,143.3 90.3,143.3 90.6,143.2 90.9,143.3 91.2,143.5 91.5,143.6 91.8,143.8 92.1,143.9 92.4,144 92.7,144.1 93,144.2 93.3,144.1 93.6,144.1 93.9,144.2 94.2,144.3 94.5,144.6 94.8,144.9 95.1,145 95.4,145.2 95.7,145.3 96,145.5 96.3,145.7 96.6,145.9 96.9,146 97.2,146.1 97.5,146.3 97.8,146.4 98.1,146.6 98.4,146.9 98.7,147.3 99,147.6 99.3,147.8 99.6,148 99.9,148.3 100.2,148.6 100.5,148.9 100.8,149.1 101.1,149.5 101.4,149.8 101.7,149.7 102,149.6 102.3,149.9 102.6,150.2 102.9,150.7 103.2,151.3 103.5,151.5 103.8,151.7 104.1,151.7 104.4,151.9 104.7,152.3 105,153 105.3,153.3 105.6,153.7 105.9,154.1 106.2,154.6 106.5,154.5 106.8,154.5 107.1,154.9 107.4,155.2 107.7,155.8 108,156.5 108.3,156.6 108.6,156.7 108.9,157 109.2,157.3 109.5,157.7 109.8,158.1 110.1,158.4 110.4,158.7 110.7,158.6 111,158.5 111.3,158.6 111.6,158.8 111.9,158.8 112.2,158.8 112.5,158.6 112.8,158.5 113.1,158.9 113.4,159.4 113.7,159.1 114,158.8 114.3,158.7 114.6,158.6 114.9,158.7 115.2,158.9 115.5,158.5 115.8,158.2 116.1,158.3 116.4,158.3 116.7,157.7 117,157.2 117.3,157.4 117.6,157.6 117.9,157.5 118.2,157.5 118.5,157.2 118.8,156.9 119.1,156.6 119.4,156.4 119.7,156.6 120,156.8 120.3,156.2 120.6,155.7 120.9,155.9 121.2,156.1 121.5,155.8 121.8,155.6 122.1,155.7 122.4,155.8 122.7,155.2 123,154.7 123.3,155 123.6,155.3 123.9,155.1 124.2,154.9 124.5,154.8 124.8,154.8 125.1,154.7 125.4,154.6 125.7,154.3 126,154.2 126.3,154.2 126.6,154.4 126.9,154.5 127.2,154.6 127.5,154.8 127.8,155.1 128.1,155 128.4,154.9 128.7,155.2 129,155.5 129.3,155.5 129.6,155.5 129.9,156.3 130.2,156.5 130.5,156.6 130.8,156.1 131.1,156.2 131.4,156.2 131.7,156.6 132,156.9 132.3,157.4 132.6,158 132.9,157.8 133.2,157.6 133.5,158.2 133.8,158.8 134.1,158.7 134.4,158.6 134.7,159.3 135,160.2 135.3,160.5 135.6,160.7 135.9,161.3 136.2,161.9 136.5,161.9 136.8,161.8 137.1,162.2 137.4,162.6 137.7,163.1 138,163.6 138.3,164 138.6,164.3 138.9,164.5 139.2,164.7 139.5,165.5 139.8,165.9 140.1,166.2 140.4,166.2 140.7,166.2 141,166.1 141.3,166.4 141.6,166.5 141.9,166.1 142.2,165.6 142.5,165.2 142.8,164.9 143.1,164.8 143.4,164.6 143.7,164.4 144,164.2 144.3,163.9 144.6,163.5 144.9,164.4 145.2,164.1 145.5,163.9 145.8,162.6 146.1,162.5 146.4,162.3 146.7,161.9 147,161.5 147.3,161.7 147.6,162 147.9,161.9 148.2,161.7 148.5,161.4 148.8,161.2 149.1,161 149.4,160.8 149.7,161.3 150,161.7 150.3,161.7 150.6,161.7 150.9,161.7 151.2,161.7 151.5,162.1 151.8,162.6 152.1,162.3 152.4,162.3 152.7,162.6 153,163 153.3,163.8 153.6,164.7 153.9,165 154.2,165.3 154.5,165.9 154.8,166.4 155.1,167.3 155.4,168.1 155.7,168.8 156,169.5 156.3,170 156.6,170.5 156.9,170.9 157.2,171.3 157.5,171.6 157.8,171.9 158.1,172.3 158.4,172.5 158.7,172.2 159,171.8 159.3,171.6 159.6,171.3 159.9,171.4 160.2,171.5 160.5,170.6 160.8,169.6 161.1,169.3 161.4,169 161.7,168.7 162,168.4 162.3,167.8 162.6,167.3 162.9,167.3 163.2,167.4 163.5,167 163.8,166.7 164.1,166.7 164.4,166.8 164.7,166.9 165,167 165.3,166.9 165.6,166.8 165.9,167.3 166.2,168 166.5,168.6 166.8,169.2 167.1,169.7 167.4,170.3 167.7,171 168,171.7 168.3,172.7 168.6,173.7 168.9,174.7 169.2,175.8 169.5,176.4 169.8,177 170.1,177 170.4,176.9 170.7,177.7 171,178 171.3,177.3 171.6,176.4 171.9,175.7 172.2,175.1 172.5,174.5 172.8,174 173.1,174.2 173.4,174.1 173.7,173.1 174,171.9 174.3,171.1 174.6,170.6 174.9,170.5 175.2,170.8 175.5,171.1 175.8,171.5 176.1,171.3 176.4,171.1 176.7,171.9 177,172.8 177.3,173.5 177.6,174.4 177.9,175.4 178.2,176.4 178.5,177.5 178.8,178.6 179.1,179.6 179.4,180.5 179.7,181.4 180,182 180.3,182.5 180.6,182.5 180.9,181.7 181.2,180.7 181.5,179.7 181.8,178.6 182.1,177.7 182.4,176.8 182.7,176.1 183,175.6 183.3,174.8 183.6,174.1 183.9,174.3 184.2,174.7 184.5,174.3 184.8,174.1 185.1,174.6 185.4,175.3 185.7,176.4 186,177.7 186.3,178.8 186.6,180 186.9,182.1 187.2,184.2 187.5,184.9 187.8,185.3 188.1,186.3 188.4,186.5 188.7,185.2 189,183.6 189.3,182.8 189.6,181.9 189.9,180.3 190.2,178.9 190.5,177.8 190.8,176.9 191.1,176.5 191.4,176.4 191.7,176.4 192,176.7 192.3,177.5 192.6,178.7 192.9,180.1 193.2,181.7 193.5,183.7 193.8,185.7 194.1,187.6 194.4,189.3 194.7,190.4 195,190.1 195.3,188.5 195.6,186.5 195.9,184.6 196.2,182.7 196.5,181.2 196.8,180 197.1,179.1 197.4,178.6 197.7,178.4 198,178.7 198.3,180.1 198.6,181.9 198.9,183.3 199.2,185 199.5,187.4 199.8,189.9 200.1,191.7 200.4,192.9 200.7,192.3 201,190.5 201.3,188.7 201.6,186.6 201.9,184.7 202.2,183 202.5,181.5 202.8,180.7 203.1,180.2 203.4,180.4 203.7,182.3 204,184.7 204.3,186.5 204.6,188.4 204.9,191.3 205.2,193.9 205.5,195.6 205.8,194.9 206.1,192.5 206.4,189.6 206.7,187.1 207,184.9 207.3,183.1 207.6,182.1 207.9,181.6 208.2,181.8 208.5,184 208.8,186.9 209.1,189.1 209.4,191.6 209.7,194.9 210,197.3 210.3,196.6 210.6,194.2 210.9,191.7 211.2,188.9 211.5,185.8 211.8,183.3 212.1,182.6 212.4,182.9 212.7,184.8 213,187.7 213.3,191 213.6,194.6 213.9,198.1 214.2,199.9 214.5,197.4 214.8,193.5 215.1,190 215.4,186.9 215.7,184.8 216,183.9 216.3,184.4 216.6,186.4 216.9,189.6 217.2,193.6 217.5,197.7 217.8,200.8 218.1,200.1 218.4,196.5 218.7,192.7 219,189.2 219.3,186.6 219.6,185.4 219.9,186.1 220.2,188.4 220.5,191.6 220.8,195.5 221.1,199.7 221.4,201.8 221.7,198.7 222,194.3 222.3,190.9 222.6,188.5 222.9,186.6 223.2,186.6 223.5,189.3 223.8,193.5 224.1,197.7 224.4,201.3 224.7,201.3 225,197.4 225.3,193 225.6,189.4 225.9,187.6 226.2,188 226.5,190.3 226.8,194.6 227.1,199 227.4,202.6 227.7,201.8 228,197.3 228.3,192.5 228.6,188.8 228.9,187.6 229.2,188.9 229.5,192.5 229.8,197.5 230.1,203.4 230.4,204.6 230.7,200.3 231,195.1 231.3,191 231.6,188.4 231.9,189.8 232.2,193.9 232.5,199.6 232.8,204.5 233.1,203.5 233.4,198.2 233.7,193.1 234,190.1 234.3,190.2 234.6,193.6 234.9,198.7 235.2,203.9 235.5,204.4 235.8,199.1 236.1,193.6 236.4,190.3 236.7,190.1 237,193.4 237.3,199.7 237.6,205.4 237.9,204.4 238.2,198.9 238.5,193.1 238.8,190.3 239.1,192.5 239.4,198.2 239.7,204.2 240,205.6 240.3,200.3 240.6,194.8 240.9,191.3 241.2,192.1 241.5,197.2 241.8,203.8 242.1,205.9 242.4,200.2 242.7,194.6 243,192.7 243.3,194.4 243.6,200.2 243.9,206.7 244.2,204.9 244.5,198.3 244.8,193.5 245.1,193.1 245.4,197.8 245.7,205.3 246,208.2 246.3,200.6 246.6,193.5 246.9,192.2 247.2,196.6 247.5,205.2 247.8,210.2 248.1,202.7 248.4,195 248.7,194.2 249,199.4 249.3,206.8 249.6,208.9 249.9,201.3 250.2,195 250.5,196.2 250.8,202.8 251.1,210.5 251.4,207.3 251.7,199.7 252,196.4 252.3,198.6 252.6,205.6 252.9,208.7 253.2,200.6 253.5,194.2 253.8,195.2 254.1,203.7 254.4,211.4 254.7,203.2 255,195.2 255.3,195.2 255.6,202.4 255.9,210.9 256.2,206.3 256.5,198.6 256.8,198.2 257.1,205.6 257.4,210.6 257.7,203.2 258,198 258.3,200.5 258.6,209.1 258.9,209.8 259.2,200.7 259.5,197.3 259.8,202.8 260.1,211.9 260.4,206.6 260.7,198.9 261,200 261.3,208.2 261.6,208.1 261.9,200.7 262.2,200.4 262.5,207.6 262.8,212.7 263.1,204 263.4,199.9 263.7,207.2 264,216.1 264.3,206.2 264.6,199.1 264.9,205 265.2,213.8 265.5,206.8 265.8,202.4 266.1,206.2 266.4,211.9 266.7,203.6 267,199.6 267.3,206.6 267.6,211.7 267.9,201.5 268.2,198.6 268.5,208.2 268.8,209.5 269.1,201.7 269.4,204.4 269.7,212 270,204 270.3,200.2 270.6,208.1 270.9,211 271.2,201.8 271.5,207.6 271.8,221.3 272.1,212 272.4,205 272.7,210.2 273,208 273.3,202.9 273.6,209.7 273.9,215.4 274.2,206.8 274.5,208.4 274.8,217.4 275.1,207.2 275.4,203.2 275.7,210.8 276,204 276.3,205.6 276.6,218.8 276.9,215.8 277.2,213.3 277.5,213.7 277.8,202 278.1,202.1 278.4,214.1 278.7,209.2 279,206 279.3,219.4 279.6,218.5 279.9,210.7 280.2,211.7 280.5,206.5 280.8,210.7 281.1,217 281.4,211 281.7,210.4 282,205.1 282.3,209.4 282.6,226 282.9,216.2 283.2,211.4 283.5,214.4 283.8,204.7 284.1,209.5 284.4,207.7 284.7,207.2 285,216.3 285.3,207.9 285.6,210.8 285.9,216.3 286.2,220.2 286.5,220.2 286.8,207.2 287.1,215.7 287.4,215.9 287.7,215.6 288,218.4 288.3,211.7 288.6,216.1 288.9,210.6 289.2,215.8 289.5,215.3 289.8,218.5 290.1,224.6 290.4,226.8 290.7,225.2 291,214.5 291.3,221.8 291.6,218.1 291.9,215.6 292.2,203.7 292.5,212.8 292.8,215.4 293.1,217.2 293.4,214.9 293.7,213.3 294,209.5 294.3,210.3 294.6,210 294.9,213.4 295.2,216.2 295.5,217.2 295.8,217.4 296.1,219 296.4,218.9 296.7,224.6 297,227.2 297.3,223 297.6,214 297.9,215.1 298.2,210 298.5,212.5 298.8,208.6 299.1,214.1 299.4,215.2 299.7,217.5 300,219.1 300.3,215.9 300.6,215.9 300.9,217.3 301.2,223.8 301.5,223.7 301.8,226.4 302.1,229 302.4,229.6 302.7,223 303,211.7 303.3,219.8 303.6,227.3 303.9,228.7 304.2,233.6 304.5,225 304.8,218.1 305.1,225.7 305.4,229.8 305.7,224.4 306,218.6 306.3,223 306.6,230.3 306.9,228.1 307.2,224.6 307.5,236.2 307.8,242.1 308.1,238.4 308.4,237.8 308.7,239.9 309,238.1 309.3,233.9 309.6,230.5 309.9,224.3 310.2,218 310.5,217.6 310.8,218.7 311.1,219 311.4,220.9 311.7,219.5 312,215.7 312.3,222.6 312.6,230.9 312.9,223 313.2,213.1 313.5,216.7 313.8,221.5 314.1,212.8 314.4,203 314.7,209.8 315,217.4 315.3,221.8 315.6,226.4 315.9,220.3 316.2,213.8 316.5,212.4 316.8,211.6 317.1,208.2 317.4,204.8 317.7,208.5 318,212 318.3,210.4 318.6,209.1 318.9,207.1 319.2,205.4 319.5,203 319.8,200.4 320.1,199 320.4,197.5 320.7,199.9 321,202.3 321.3,202.1 321.6,202 321.9,207.3 322.2,212.7 322.5,205.4 322.8,198.2 323.1,204.4 323.4,210.6 323.7,212.1 324,213.6 324.3,208.4 324.6,203.2 324.9,209.3 325.2,215.4 325.5,206.8 325.8,198.2 326.1,205.9 326.4,213.5 326.7,210.8 327,208.2 327.3,206.4 327.6,204.6 327.9,197.5 328.2,190.5 328.5,189.8 328.8,189.3 329.1,199.4 329.4,209.4 329.7,204.7 330,199.6 330.3,198.6 330.6,197.7 330.9,203.7 331.2,209.9 331.5,204.6 331.8,198.8 332.1,195 332.4,191.4 332.7,191.5 333,191.9 333.3,191.1 333.6,189.7 333.9,193.4 334.2,197.9 334.5,204.3 334.8,209.7 335.1,199.1 335.4,189.4 335.7,209.1 336,225.5 336.3,217.5 336.6,216.3 336.9,223.2 337.2,222.2 337.5,216.9 337.8,209.5 338.1,207.2 338.4,206.9 338.7,200.7 339,196.1 339.3,192.3 339.6,188.9 339.9,189.9 340.2,189.5 340.5,190.5 340.8,189.7 341.1,195.6 341.4,200.1 341.7,197.4 342,193.9 342.3,194.5 342.6,194.4 342.9,196.3 343.2,197.2 343.5,195.5 343.8,192.2 344.1,192.2 344.4,190.4 344.7,191.5 345,191.9 345.3,187.2 345.6,183.8 345.9,186.3 346.2,189.9 346.5,192.1 346.8,192.9 347.1,196.4 347.4,200.2 347.7,193.9 348,188.3 348.3,185.2 348.6,181 348.9,185.6 349.2,190.9 349.5,188.8 349.8,185.9 350.1,188 350.4,190.3 350.7,191.6 351,193 351.3,194.2 351.6,194.8 351.9,200.2 352.2,205.7 352.5,198.8 352.8,192.2 353.1,192.5 353.4,193 353.7,188.4 354,183.9 354.3,183.9 354.6,183.8 354.9,184.9 355.2,185.9 355.5,193.9 355.8,201.8 356.1,192.7 356.4,183.6 356.7,184.9 357,186.3 357.3,182.9 357.6,179.6 357.9,182.1 358.2,184.1 358.5,188 358.8,192.3 359.1,195.9 359.4,199.3 359.7,196.6 360,194.4 360.3,191.5 360.6,188.1 360.9,189.6 361.2,192.3 361.5,198.8 361.8,204.1 362.1,197.5 362.4,190 362.7,185.9 363,183 363.3,185.7 363.6,190.4 363.9,188.7 364.2,188.8 364.5,182.4 364.8,177.8 365.1,180.9 365.4,185.9 365.7,182.2 366,179.5 366.3,186 366.6,191.3 366.9,188.6 367.2,185.2 367.5,183.6 367.8,183.1 368.1,182.8 368.4,181.3 368.7,184.4 369,188.1 369.3,185.3 369.6,181.9 369.9,181.8 370.2,181.9 370.5,184.5 370.8,187.2 371.1,183.5 371.4,179.8 371.7,182.9 372,185.9 372.3,182 372.6,178 372.9,177.3 373.2,176.6 373.5,180.8 373.8,185.1 374.1,187.1 374.4,189.2 374.7,187.5 375,185.1 375.3,186.4 375.6,188.4 375.9,184.4 376.2,179.1 376.5,182 376.8,185.9 377.1,176.3 377.4,167.7 377.7,177 378,185.2 378.3,186.5 378.6,192.2 378.9,198.6 379.2,204.1 379.5,211.6 379.8,217.6 380.1,212 380.4,206.3 380.7,198.6 381,190.4 381.3,188.2 381.6,191.4 381.9,186.3 382.2,182 382.5,182.9 382.8,183.2 383.1,187.7 383.4,192.2 383.7,188.9 384,185.6 384.3,181.7 384.6,177.8 384.9,181.5 385.2,185.3 385.5,180.8 385.8,176.5 386.1,178.1 386.4,179.1 386.7,179.9 387,181.1 387.3,182.6 387.6,183.7 387.9,178.2 388.2,173.9 388.5,172.9 388.8,171.3 389.1,181.2 389.4,189.2 389.7,180.6 390,170 390.3,174.6 390.6,178 390.9,171.6 391.2,166.2 391.5,171.1 391.8,176.4 392.1,181.4 392.4,186.4 392.7,187.5 393,188.4 393.3,189 393.6,189.7 393.9,188 394.2,186.4 394.5,181.8 394.8,177.2 395.1,176 395.4,175 395.7,180.2 396,184.7 396.3,180.6 396.6,177.3 396.9,179.8 397.2,181.7 397.5,176.4 397.8,169.4 398.1,172.5 398.4,174.4 398.7,179.3 399,182.6 399.3,181 399.6,178.7 399.9,179.2 400.2,180.6 400.5,177.6 400.8,173.9 401.1,177.7 401.4,181.5 401.7,182 402,182.6 402.3,185.2 402.6,187.9 402.9,185.3 403.2,182.3 403.5,176.7 403.8,171.4 404.1,173.8 404.4,175.5 404.7,178.8 405,183.7 405.3,181.1 405.6,180.5 405.9,176 406.2,173.2 406.5,176 406.8,178.2 407.1,176.6 407.4,175.2 407.7,180.2 408,184.9 408.3,182.9 408.6,181 408.9,175.5 409.2,170.2 409.5,175.9 409.8,181 410.1,175.4 410.4,170.8 410.7,174.9 411,177.6 411.3,178 411.6,176.7 411.9,173.1 412.2,167.7 412.5,169.8 412.8,171.8 413.1,171.6 413.4,171.8 413.7,177.4 414,183 414.3,177.9 414.6,172.7 414.9,171.5 415.2,170.4 415.5,176.1 415.8,181.8 416.1,175.6 416.4,170.3 416.7,172.9 417,174.7 417.3,172.4 417.6,170.2 417.9,173.7 418.2,178.4 418.5,171.8 418.8,164.6 419.1,165.3 419.4,166.1 419.7,168.9 420,171.8 420.3,171.6 420.6,171.2 420.9,173.6 421.2,176.3 421.5,172.2 421.8,170.1 422.1,170 422.4,171.4 422.7,175.5 423,178.6 423.3,182.4 423.6,186.6 423.9,180.9 424.2,175.1 424.5,173.6 424.8,172.5 425.1,171.5 425.4,169.1 425.7,171 426,173 426.3,175.5 426.6,177.8 426.9,175.9 427.2,173 427.5,173.2 427.8,173.7 428.1,174.9 428.4,176.2 428.7,176.7 429,177 429.3,175.6 429.6,175.2 429.9,176.7 430.2,178.1 430.5,173.8 430.8,170.7 431.1,172.1 431.4,173.2 431.7,173.9 432,174.8 432.3,173.9 432.6,172.7 432.9,171.1 433.2,170.7 433.5,175.2 433.8,179.8 434.1,181.2 434.4,183.7 434.7,175.9 435,167.6 435.3,170 435.6,172.5 435.9,174.9 436.2,176.9 436.5,183.4 436.8,189.1 437.1,180.2 437.4,170.5 437.7,174.1 438,177.5 438.3,177.6 438.6,177.7 438.9,175 439.2,172.1 439.5,174.6 439.8,177.3 440.1,173.2 440.4,169.5 440.7,173.8 441,177.2 441.3,176.7 441.6,176.5 441.9,171.8 442.2,166.2 442.5,169 442.8,172.3 443.1,174.3 443.4,176.4 443.7,174.9 444,173.3 444.3,170 444.6,166.4 444.9,162.6 445.2,159.9 445.5,164.5 445.8,170.5 446.1,173 446.4,176 446.7,172.8 447,169.5 447.3,172.5 447.6,176 447.9,176.3 448.2,178.2 448.5,174 448.8,170.7 449.1,174.4 449.4,177.8 449.7,174 450,170.9 450.3,172.4 450.6,173.6 450.9,179.5 451.2,186.1 451.5,184 451.8,181.4 452.1,176.2 452.4,171.9 452.7,175.2 453,178.8 453.3,172.8 453.6,167.3 453.9,172 454.2,176.9 454.5,176.2 454.8,173.8 455.1,172 455.4,168.6 455.7,167 456,165.7 456.3,171.4 456.6,176.6 456.9,172.3 457.2,168.8 457.5,176 457.8,182.6 458.1,179.8 458.4,176.4 458.7,173.2 459,170.8 459.3,173.4 459.6,175.3 459.9,171 460.2,167 460.5,168.3 460.8,170.5 461.1,173.8 461.4,178 461.7,177.9 462,177.6 462.3,175.7"/><polyline stroke="#00f" points="66,123.1 66.3,122.8 66.6,122.6 66.9,122.8 67.2,123.2 67.5,123.2 67.8,123.2 68.1,123.2 68.4,123.3 68.7,123.4 69,123.5 69.3,123.6 69.6,123.7 69.9,123.6 70.2,123.5 70.5,123.5 70.8,123.4 71.1,123.6 71.4,123.8 71.7,123.8 72,123.8 72.3,124 72.6,124.2 72.9,124.2 73.2,124.2 73.5,124.3 73.8,124.5 74.1,124.3 74.4,124.2 74.7,124.2 75,124.2 75.3,124.4 75.6,124.7 75.9,124.6 76.2,124.5 76.5,124.7 76.8,124.9 77.1,124.9 77.4,124.8 77.7,125.1 78,125.3 78.3,125.2 78.6,125.1 78.9,125.3 79.2,125.5 79.5,125.5 79.8,125.5 80.1,125.5 80.4,125.6 80.7,125.6 81,125.7 81.3,125.6 81.6,125.6 81.9,125.7 82.2,125.7 82.5,125.7 82.8,125.6 83.1,125.9 83.4,126.2 83.7,126.3 84,126.4 84.3,126.2 84.6,126 84.9,126.2 85.2,126.4 85.5,126.3 85.8,126.2 86.1,126.4 86.4,126.5 86.7,126.6 87,126.6 87.3,126.8 87.6,127 87.9,126.9 88.2,126.9 88.5,126.7 88.8,126.7 89.1,126.9 89.4,127.2 89.7,127.1 90,127 90.3,127.2 90.6,127.3 90.9,127.3 91.2,127.3 91.5,127.6 91.8,127.9 92.1,127.9 92.4,128 92.7,127.9 93,127.8 93.3,128.1 93.6,128.3 93.9,128.2 94.2,128 94.5,128.2 94.8,128.5 95.1,128.7 95.4,128.9 95.7,128.8 96,128.6 96.3,128.7 96.6,128.8 96.9,128.8 97.2,128.9 97.5,129 97.8,129 98.1,129 98.4,129 98.7,129.2 99,129.4 99.3,129.4 99.6,129.3 99.9,129.6 100.2,129.9 100.5,129.6 100.8,129.3 101.1,129.5 101.4,129.7 101.7,129.7 102,129.7 102.3,130 102.6,130.4 102.9,130.2 103.2,129.9 103.5,130.1 103.8,130.2 104.1,130.4 104.4,130.7 104.7,130.7 105,130.7 105.3,130.8 105.6,130.8 105.9,130.6 106.2,130.4 106.5,130.6 106.8,130.9 107.1,130.8 107.4,130.8 107.7,130.7 108,130.7 108.3,131 108.6,131.2 108.9,131.4 109.2,131.5 109.5,131.4 109.8,131.3 110.1,131.4 110.4,131.5 110.7,131.8 111,132 111.3,132.3 111.6,132.4 111.9,132.4 112.2,132.2 112.5,132.2 112.8,132.2 113.1,132.4 113.4,132.6 113.7,132.6 114,132.6 114.3,132.6 114.6,132.6 114.9,132.6 115.2,132.5 115.5,132.9 115.8,133.3 116.1,133.3 116.4,133.3 116.7,133.3 117,133.3 117.3,133.3 117.6,133.3 117.9,133.6 118.2,134 118.5,134 118.8,134 119.1,134.2 119.4,134.5 119.7,134.5 120,134.5 120.3,134.4 120.6,134.4 120.9,134.6 121.2,134.8 121.5,134.9 121.8,134.9 122.1,135.1 122.4,135.3 122.7,135.5 123,135.8 123.3,135.7 123.6,135.6 123.9,135.9 124.2,136.2 124.5,136.3 124.8,136.3 125.1,136.7 125.4,137.1 125.7,137.2 126,137.3 126.3,137.3 126.6,137.3 126.9,137.3 127.2,137.3 127.5,137.5 127.8,137.7 128.1,137.8 128.4,137.9 128.7,138.2 129,138.5 129.3,139 129.6,139.5 129.9,139.3 130.2,139 130.5,139.3 130.8,139.6 131.1,139.5 131.4,139.4 131.7,139.6 132,139.8 132.3,139.9 132.6,139.9 132.9,139.9 133.2,139.8 133.5,139.7 133.8,139.6 134.1,139.8 134.4,140 134.7,139.8 135,139.6 135.3,139.4 135.6,139.2 135.9,139.5 136.2,139.8 136.5,139.6 136.8,139.5 137.1,139.5 137.4,139.5 137.7,139.3 138,139.1 138.3,139.3 138.6,139.4 138.9,139.5 139.2,139.6 139.5,139.5 139.8,139.3 140.1,139.3 140.4,139.2 140.7,139.3 141,139.4 141.3,139.3 141.6,139.3 141.9,139.3 142.2,139.3 142.5,139.3 142.8,139.3 143.1,139.3 143.4,139.3 143.7,139.1 144,139.1 144.3,139.6 144.6,140.1 144.9,140.2 145.2,140 145.5,139.9 145.8,139.8 146.1,140 146.4,140.2 146.7,140.1 147,140.1 147.3,140.4 147.6,140.7 147.9,140.6 148.2,140.5 148.5,140.7 148.8,141 149.1,140.8 149.4,140.7 149.7,141 150,141.2 150.3,141.5 150.6,141.6 150.9,141.3 151.2,140.9 151.5,141.2 151.8,141.5 152.1,141.7 152.4,141.8 152.7,141.7 153,141.3 153.3,141.5 153.6,141.7 153.9,141.5 154.2,141.3 154.5,141.4 154.8,141.4 155.1,141.4 155.4,141.4 155.7,141.5 156,141.6 156.3,141.6 156.6,141.6 156.9,141.7 157.2,141.8 157.5,141.8 157.8,141.8 158.1,141.9 158.4,142 158.7,141.9 159,141.7 159.3,141.9 159.6,142.2 159.9,142 160.2,141.9 160.5,141.9 160.8,142 161.1,142.1 161.4,142.2 161.7,142.3 162,142.3 162.3,142 162.6,141.6 162.9,141.5 163.2,141.5 163.5,141.5 163.8,141.5 164.1,141.9 164.4,142.3 164.7,142.3 165,142.4 165.3,141.9 165.6,141.6 165.9,141.9 166.2,142.3 166.5,142.1 166.8,142 167.1,142 167.4,142 167.7,142.2 168,142.5 168.3,142.5 168.6,142.5 168.9,142.3 169.2,142 169.5,142.2 169.8,142.3 170.1,142.2 170.4,142.1 170.7,142.4 171,142.6 171.3,142.7 171.6,142.9 171.9,142.7 172.2,142.6 172.5,142.7 172.8,142.8 173.1,142.8 173.4,142.8 173.7,142.7 174,142.6 174.3,142.9 174.6,143.2 174.9,142.9 175.2,142.7 175.5,142.5 175.8,142.4 176.1,142.4 176.4,142.4 176.7,142.8 177,143.2 177.3,143 177.6,142.9 177.9,142.9 178.2,143 178.5,143 178.8,143.1 179.1,143.2 179.4,143.2 179.7,143.3 180,143.3 180.3,143.3 180.6,143.4 180.9,143.1 181.2,142.9 181.5,143.1 181.8,143.4 182.1,143.6 182.4,143.9 182.7,143.5 183,143.2 183.3,143.1 183.6,143.1 183.9,143.2 184.2,143.2 184.5,143.3 184.8,143.4 185.1,143.6 185.4,143.8 185.7,143.8 186,143.8 186.3,143.6 186.6,143.5 186.9,143.7 187.2,143.9 187.5,143.9 187.8,143.8 188.1,143.9 188.4,144 188.7,144 189,143.9 189.3,144.1 189.6,144.3 189.9,144.2 190.2,144.1 190.5,144.5 190.8,144.9 191.1,144.5 191.4,144.1 191.7,144.6 192,145.1 192.3,144.8 192.6,144.6 192.9,144.7 193.2,144.8 193.5,144.9 193.8,145 194.1,145.1 194.4,145.1 194.7,145.1 195,145.2 195.3,145.2 195.6,145.2 195.9,145.4 196.2,145.5 196.5,145.3 196.8,145.1 197.1,145.4 197.4,145.7 197.7,145.6 198,145.4 198.3,145.7 198.6,146 198.9,146 199.2,146.1 199.5,146.1 199.8,146.1 200.1,146.4 200.4,146.7 200.7,146.3 201,146 201.3,146.2 201.6,146.3 201.9,146.7 202.2,147.1 202.5,146.8 202.8,146.6 203.1,146.8 203.4,146.9 203.7,147.3 204,147.6 204.3,147.8 204.6,148 204.9,147.7 205.2,147.5 205.5,147.9 205.8,148.3 206.1,148.4 206.4,148.6 206.7,148.6 207,148.7 207.3,148.8 207.6,148.8 207.9,149 208.2,149.2 208.5,149.3 208.8,149.4 209.1,149.5 209.4,149.7 209.7,149.7 210,149.7 210.3,150 210.6,150.4 210.9,150.5 211.2,150.5 211.5,150.5 211.8,150.6 212.1,150.9 212.4,151.2 212.7,151.4 213,151.7 213.3,151.8 213.6,151.9 213.9,152.1 214.2,152.4 214.5,152.3 214.8,152.3 215.1,152.5 215.4,152.7 215.7,153.1 216,153.4 216.3,154 216.6,154.3 216.9,154.5 217.2,154.5 217.5,154.3 217.8,154.1 218.1,154.5 218.4,154.9 218.7,155.1 219,155.2 219.3,155.4 219.6,155.6 219.9,156 220.2,156.4 220.5,156.6 220.8,156.7 221.1,157.2 221.4,157.6 221.7,157.7 222,157.9 222.3,157.8 222.6,157.8 222.9,158.1 223.2,158.5 223.5,159.2 223.8,159.8 224.1,160 224.4,160.2 224.7,160.2 225,160.2 225.3,160.3 225.6,160.5 225.9,161.4 226.2,162.1 226.5,162.1 226.8,162 227.1,162.5 227.4,163.1 227.7,163.5 228,163.9 228.3,164.3 228.6,164.8 228.9,165.1 229.2,165.3 229.5,165.7 229.8,166.1 230.1,166.8 230.4,167.6 230.7,168.1 231,168.6 231.3,168.6 231.6,168.6 231.9,169.3 232.2,170 232.5,170.6 232.8,171.2 233.1,171.7 233.4,172.1 233.7,172.3 234,172.5 234.3,173.3 234.6,174 234.9,174.2 235.2,174.4 235.5,174.7 235.8,175 236.1,175.5 236.4,176 236.7,176.4 237,176.8 237.3,177.5 237.6,178.2 237.9,178.1 238.2,178.1 238.5,178.5 238.8,179.1 239.1,179.7 239.4,180.4 239.7,181.7 240,182.3 240.3,182.6 240.6,181.9 240.9,182.2 241.2,182.5 241.5,183 241.8,183.4 242.1,183.9 242.4,184.4 242.7,184.4 243,184.3 243.3,184.2 243.6,184.2 243.9,184 244.2,183.8 244.5,183.5 244.8,183.2 245.1,183.2 245.4,183.2 245.7,183.4 246,183.5 246.3,183.5 246.6,183.6 246.9,183.3 247.2,183.1 247.5,184 247.8,184.9 248.1,184.1 248.4,183.3 248.7,183.5 249,183.8 249.3,183.7 249.6,183.7 249.9,183.8 250.2,183.8 250.5,184 250.8,184.2 251.1,183.9 251.4,183.5 251.7,183.6 252,183.7 252.3,183.9 252.6,184 252.9,184.1 253.2,184.1 253.5,184.4 253.8,184.6 254.1,184.3 254.4,184 254.7,183.9 255,183.7 255.3,183.5 255.6,183.3 255.9,184.2 256.2,185.1 256.5,184.3 256.8,183.4 257.1,183.4 257.4,183.5 257.7,184.8 258,185.7 258.3,185.7 258.6,185.5 258.9,184.9 259.2,184.2 259.5,183.6 259.8,182.8 260.1,183.7 260.4,184.6 260.7,183.8 261,183 261.3,183.7 261.6,184.4 261.9,184 262.2,183.7 262.5,184 262.8,184.4 263.1,183.4 263.4,182.6 263.7,183.8 264,185.1 264.3,184.7 264.6,184.2 264.9,183.5 265.2,182.8 265.5,183 265.8,183.3 266.1,183.4 266.4,183.5 266.7,184.2 267,184.9 267.3,184.9 267.6,184.9 267.9,184.4 268.2,183.8 268.5,184.5 268.8,185.2 269.1,184.5 269.4,183.7 269.7,185 270,185.8 270.3,184.4 270.6,182.6 270.9,183.3 271.2,184.1 271.5,184.9 271.8,185.7 272.1,186.8 272.4,187.8 272.7,187 273,186 273.3,187.4 273.6,188.8 273.9,188.6 274.2,188.4 274.5,189.5 274.8,190.7 275.1,190.3 275.4,189.9 275.7,190.9 276,191.8 276.3,192.2 276.6,192.6 276.9,193.5 277.2,194.3 277.5,193.3 277.8,192.2 278.1,192.6 278.4,192.9 278.7,194.2 279,194.4 279.3,193.8 279.6,192.1 279.9,191.6 280.2,191 280.5,190.2 280.8,189.3 281.1,189.2 281.4,189 281.7,189.1 282,189.1 282.3,189.1 282.6,189.1 282.9,187.9 283.2,186.6 283.5,186.4 283.8,186.2 284.1,186.1 284.4,186 284.7,185.5 285,185.1 285.3,184.7 285.6,184.3 285.9,184 286.2,183.9 286.5,182.7 286.8,181.7 287.1,182.2 287.4,183.2 287.7,184.4 288,185.8 288.3,185.6 288.6,185.4 288.9,187.2 289.2,189.3 289.5,185.8 289.8,182 290.1,185.2 290.4,188.7 290.7,188.1 291,187.3 291.3,186.6 291.6,185.7 291.9,189.6 292.2,193.9 292.5,196 292.8,198.3 293.1,197.1 293.4,195.9 293.7,193.8 294,191.6 294.3,192.8 294.6,194 294.9,194.8 295.2,195.5 295.5,203.4 295.8,211.7 296.1,203 296.4,194 296.7,195.9 297,197.8 297.3,198.4 297.6,199 297.9,199.4 298.2,199.8 298.5,202 298.8,204.2 299.1,206.5 299.4,208.9 299.7,199 300,188.8 300.3,195.1 300.6,201.3 300.9,198.6 301.2,195.8 301.5,195.3 301.8,194.9 302.1,193.5 302.4,192.1 302.7,194 303,196 303.3,201.9 303.6,207.8 303.9,206.3 304.2,204.9 304.5,201.9 304.8,198.8 305.1,193.5 305.4,188.1 305.7,198.7 306,209.2 306.3,198.8 306.6,188.3 306.9,193.1 307.2,197.9 307.5,202.8 307.8,207.6 308.1,206.5 308.4,205.4 308.7,204.5 309,203.6 309.3,199.2 309.6,194.5 309.9,192.5 310.2,190.3 310.5,185.2 310.8,180.2 311.1,187.2 311.4,194.2 311.7,196.6 312,199 312.3,193.1 312.6,187.2 312.9,187.1 313.2,187 313.5,185.5 313.8,184.1 314.1,187.7 314.4,191.2 314.7,187.2 315,183.1 315.3,183 315.6,182.9 315.9,178.1 316.2,173.4 316.5,180.2 316.8,187.1 317.1,188.3 317.4,189.5 317.7,181.4 318,173.4 318.3,175.3 318.6,177.1 318.9,176.9 319.2,176.7 319.5,179.5 319.8,182.4 320.1,186.1 320.4,189.7 320.7,184.5 321,179.3 321.3,180.9 321.6,182.5 321.9,177.9 322.2,173.3 322.5,183.2 322.8,193.1 323.1,193.3 323.4,193.5 323.7,191.2 324,189 324.3,186.9 324.6,184.8 324.9,184.1 325.2,183.4 325.5,185.2 325.8,186.9 326.1,184.1 326.4,181.4 326.7,177.9 327,174.5 327.3,179 327.6,183.6 327.9,178.8 328.2,174 328.5,177.8 328.8,181.6 329.1,182.1 329.4,182.6 329.7,185.6 330,188.6 330.3,191.8 330.6,194.9 330.9,192.2 331.2,189.5 331.5,186.2 331.8,182.9 332.1,177.4 332.4,172 332.7,172.1 333,172.3 333.3,172.2 333.6,172.2 333.9,171.3 334.2,170.5 334.5,176.1 334.8,181.6 335.1,176.7 335.4,171.7 335.7,171.4 336,171.1 336.3,174.6 336.6,178.1 336.9,181.1 337.2,184.1 337.5,182.1 337.8,180.2 338.1,176.5 338.4,172.9 338.7,170.5 339,168 339.3,170.2 339.6,172.4 339.9,171.1 340.2,169.8 340.5,172.8 340.8,175.8 341.1,172.9 341.4,170 341.7,167.6 342,165.1 342.3,168.5 342.6,171.9 342.9,172.4 343.2,173 343.5,174 343.8,175 344.1,172.3 344.4,169.6 344.7,170.5 345,171.4 345.3,172.1 345.6,172.9 345.9,171 346.2,169.2 346.5,165.7 346.8,162.2 347.1,176.7 347.4,191.3 347.7,186.7 348,182.1 348.3,177 348.6,171.9 348.9,174.1 349.2,176.3 349.5,174.2 349.8,172.2 350.1,171 350.4,169.8 350.7,174.4 351,179 351.3,178.8 351.6,178.5 351.9,176.5 352.2,174.6 352.5,176.8 352.8,179.1 353.1,167.9 353.4,156.8 353.7,168.3 354,179.8 354.3,187.3 354.6,194.9 354.9,180 355.2,165.2 355.5,165.9 355.8,166.6 356.1,172.9 356.4,179.2 356.7,176.7 357,174.1 357.3,178 357.6,181.8 357.9,179 358.2,176.2 358.5,173.3 358.8,170.5 359.1,166.4 359.4,162.3 359.7,161.6 360,160.9 360.3,167.3 360.6,173.8 360.9,172.7 361.2,171.5 361.5,164.2 361.8,157.7 362.1,151.7 362.4,146.7 362.7,142.9 363,144.4 363.3,148.4 363.6,151.8 363.9,157.9 364.2,165.4 364.5,164.5 364.8,160.2 365.1,170.9 365.4,181.5 365.7,179.5 366,177.4 366.3,175.7 366.6,174.1 366.9,172.3 367.2,170.6 367.5,169.4 367.8,168.3 368.1,175.3 368.4,182.2 368.7,181.7 369,181.1 369.3,176.7 369.6,172.2 369.9,168.9 370.2,165.5 370.5,164.4 370.8,163.2 371.1,173.7 371.4,184.2 371.7,171.5 372,158.7 372.3,168.1 372.6,177.4 372.9,175.5 373.2,173.6 373.5,176.4 373.8,179.2 374.1,171 374.4,162.7 374.7,162.7 375,162.7 375.3,162.5 375.6,162.4 375.9,165.2 376.2,168 376.5,167.1 376.8,166.3 377.1,163.2 377.4,160.2 377.7,160.1 378,160 378.3,161.5 378.6,162.9 378.9,160.3 379.2,157.6 379.5,160.1 379.8,162.5 380.1,165.5 380.4,168.4 380.7,172.2 381,176 381.3,165.3 381.6,154.6 381.9,159.3 382.2,164 382.5,163.8 382.8,163.6 383.1,163 383.4,162.3 383.7,162.4 384,162.6 384.3,158 384.6,153.5 384.9,157.1 385.2,160.6 385.5,161.4 385.8,162.2 386.1,164.8 386.4,167.3 386.7,165.7 387,164.1 387.3,162.8 387.6,161.5 387.9,168.1 388.2,174.7 388.5,165.6 388.8,156.5 389.1,156 389.4,155.6 389.7,159.1 390,162.6 390.3,165.6 390.6,168.5 390.9,168.2 391.2,167.9 391.5,164.6 391.8,161.4 392.1,160.2 392.4,159 392.7,160.1 393,161.2 393.3,176.6 393.6,192 393.9,176.3 394.2,160.6 394.5,159.2 394.8,157.8 395.1,161.1 395.4,164.3 395.7,159.6 396,154.8 396.3,154.2 396.6,153.7 396.9,153.6 397.2,153.5 397.5,157.8 397.8,162.2 398.1,160.2 398.4,158.3 398.7,163.2 399,168.2 399.3,166.8 399.6,165.4 399.9,162.1 400.2,158.9 400.5,158.6 400.8,158.3 401.1,156.4 401.4,154.6 401.7,154.2 402,153.7 402.3,159.1 402.6,164.5 402.9,163.3 403.2,162.1 403.5,156.5 403.8,151 404.1,157 404.4,162.9 404.7,161.1 405,159.2 405.3,159.4 405.6,159.6 405.9,160.8 406.2,161.9 406.5,164 406.8,166.1 407.1,162.9 407.4,159.7 407.7,160.9 408,162 408.3,159.8 408.6,154 408.9,144 409.2,136.4 409.5,134.3 409.8,138.8 410.1,154.8 410.4,168.5 410.7,182.8 411,194 411.3,185.3 411.6,179.8 411.9,169.9 412.2,158.1 412.5,153.8 412.8,149.5 413.1,152.7 413.4,155.9 413.7,152.1 414,148.3 414.3,155.6 414.6,162.9 414.9,167.2 415.2,171.5 415.5,171.6 415.8,171.6 416.1,171 416.4,170.5 416.7,167.7 417,164.9 417.3,158.2 417.6,151.4 417.9,149.3 418.2,147.2 418.5,160.4 418.8,173.7 419.1,164.1 419.4,154.6 419.7,161.5 420,168.3 420.3,160.5 420.6,152.8 420.9,156.2 421.2,159.6 421.5,156.7 421.8,153.9 422.1,165.6 422.4,177.4 422.7,163.9 423,150.5 423.3,158.3 423.6,166.1 423.9,160.1 424.2,154.1 424.5,153.6 424.8,153 425.1,154.5 425.4,156 425.7,155.2 426,154.5 426.3,153.8 426.6,153.2 426.9,156.7 427.2,160.2 427.5,162.2 427.8,164.1 428.1,161.3 428.4,158.5 428.7,153.5 429,148.5 429.3,157.1 429.6,165.7 429.9,157.5 430.2,149.2 430.5,151.3 430.8,153.4 431.1,157.4 431.4,161.4 431.7,158.2 432,155.1 432.3,155.4 432.6,155.7 432.9,156.5 433.2,157.3 433.5,150.2 433.8,143.1 434.1,151.3 434.4,159.5 434.7,157.8 435,156.1 435.3,155.4 435.6,154.7 435.9,154.3 436.2,153.9 436.5,158.9 436.8,163.9 437.1,163.8 437.4,163.8 437.7,161.5 438,159.2 438.3,158 438.6,156.9 438.9,158.7 439.2,160.5 439.5,159.3 439.8,158.1 440.1,154.8 440.4,151.6 440.7,151.6 441,151.7 441.3,152 441.6,152.2 441.9,151.3 442.2,150.3 442.5,159.8 442.8,169.3 443.1,162.5 443.4,155.7 443.7,157.9 444,160.1 444.3,160.2 444.6,160.3 444.9,161 445.2,161.7 445.5,159 445.8,156.2 446.1,156.6 446.4,156.9 446.7,162.7 447,168.6 447.3,167.3 447.6,166 447.9,160.4 448.2,154.7 448.5,159.8 448.8,164.9 449.1,163.3 449.4,161.6 449.7,152.4 450,143.1 450.3,150.3 450.6,157.4 450.9,162 451.2,166.6 451.5,163.9 451.8,161.2 452.1,156.8 452.4,152.5 452.7,152.4 453,152.3 453.3,168.3 453.6,184.2 453.9,169.2 454.2,154.2 454.5,159.3 454.8,164.4 455.1,166.5 455.4,168.7 455.7,164 456,159.3 456.3,160.2 456.6,161.1 456.9,157.9 457.2,154.7 457.5,154.9 457.8,155.1 458.1,156.9 458.4,158.8 458.7,156.5 459,154.3 459.3,158.8 459.6,163.3 459.9,156.9 460.2,150.4 460.5,152.5 460.8,154.5 461.1,157.8 461.4,161.1 461.7,157 462,153 462.3,154.5"/></g></g><text x="232.8" y="107.2" class="lb">LISA</text><text x="372.8" y="115.8" class="lb">aLIGO</text><text x="166.2" y="242.2" class="lb">DECIGO / BBO</text><text x="429.6" y="236.4" class="lb">ET</text><text x="76.7" y="286.1" class="lb">ultimate-DECIGO</text><text x="92.3" y="42" class="lb">(a) Z/Z<tspan class="sun" dx="1.3" dy="3.8">⊙</tspan><tspan dx="1.1" dy="-3.8">=0.01,</tspan></text><text x="111.4" y="62.9" class="lb">E=2B</text><path d="M95.8 303.3v-2.4M95.8 11v2.4M113.3 303.3v-2.4M113.3 11v2.4M125.7 303.3v-2.4M125.7 11v2.4M135.3 303.3v-2.4M135.3 11v2.4M143.1 303.3v-2.4M143.1 11v2.4M149.8 303.3v-2.4M149.8 11v2.4M155.5 303.3v-2.4M155.5 11v2.4M160.6 303.3v-2.4M160.6 11v2.4M195 303.3v-2.4M195 11v2.4M212.4 303.3v-2.4M212.4 11v2.4M224.8 303.3v-2.4M224.8 11v2.4M234.4 303.3v-2.4M234.4 11v2.4M242.3 303.3v-2.4M242.3 11v2.4M248.9 303.3v-2.4M248.9 11v2.4M254.6 303.3v-2.4M254.6 11v2.4M259.7 303.3v-2.4M259.7 11v2.4M294.1 303.3v-2.4M294.1 11v2.4M311.5 303.3v-2.4M311.5 11v2.4M323.9 303.3v-2.4M323.9 11v2.4M333.5 303.3v-2.4M333.5 11v2.4M341.4 303.3v-2.4M341.4 11v2.4M348 303.3v-2.4M348 11v2.4M353.8 303.3v-2.4M353.8 11v2.4M358.8 303.3v-2.4M358.8 11v2.4M393.2 303.3v-2.4M393.2 11v2.4M410.7 303.3v-2.4M410.7 11v2.4M423.1 303.3v-2.4M423.1 11v2.4M432.7 303.3v-2.4M432.7 11v2.4M440.5 303.3v-2.4M440.5 11v2.4M447.1 303.3v-2.4M447.1 11v2.4M452.9 303.3v-2.4M452.9 11v2.4M458 303.3v-2.4M458 11v2.4M66 29.6h2.4M462.5 29.6h-2.4M66 24.9h2.4M462.5 24.9h-2.4M66 21.6h2.4M462.5 21.6h-2.4M66 19h2.4M462.5 19h-2.4M66 16.9h2.4M462.5 16.9h-2.4M66 15.1h2.4M462.5 15.1h-2.4M66 13.6h2.4M462.5 13.6h-2.4M66 12.2h2.4M462.5 12.2h-2.4M66 56.1h2.4M462.5 56.1h-2.4M66 51.5h2.4M462.5 51.5h-2.4M66 48.1h2.4M462.5 48.1h-2.4M66 45.6h2.4M462.5 45.6h-2.4M66 43.5h2.4M462.5 43.5h-2.4M66 41.7h2.4M462.5 41.7h-2.4M66 40.1h2.4M462.5 40.1h-2.4M66 38.8h2.4M462.5 38.8h-2.4M66 82.7h2.4M462.5 82.7h-2.4M66 78h2.4M462.5 78h-2.4M66 74.7h2.4M462.5 74.7h-2.4M66 72.1h2.4M462.5 72.1h-2.4M66 70h2.4M462.5 70h-2.4M66 68.3h2.4M462.5 68.3h-2.4M66 66.7h2.4M462.5 66.7h-2.4M66 65.4h2.4M462.5 65.4h-2.4M66 109.3h2.4M462.5 109.3h-2.4M66 104.6h2.4M462.5 104.6h-2.4M66 101.3h2.4M462.5 101.3h-2.4M66 98.7h2.4M462.5 98.7h-2.4M66 96.6h2.4M462.5 96.6h-2.4M66 94.8h2.4M462.5 94.8h-2.4M66 93.3h2.4M462.5 93.3h-2.4M66 91.9h2.4M462.5 91.9h-2.4M66 135.9h2.4M462.5 135.9h-2.4M66 131.2h2.4M462.5 131.2h-2.4M66 127.9h2.4M462.5 127.9h-2.4M66 125.3h2.4M462.5 125.3h-2.4M66 123.2h2.4M462.5 123.2h-2.4M66 121.4h2.4M462.5 121.4h-2.4M66 119.9h2.4M462.5 119.9h-2.4M66 118.5h2.4M462.5 118.5h-2.4M66 162.4h2.4M462.5 162.4h-2.4M66 157.8h2.4M462.5 157.8h-2.4M66 154.4h2.4M462.5 154.4h-2.4M66 151.9h2.4M462.5 151.9h-2.4M66 149.8h2.4M462.5 149.8h-2.4M66 148h2.4M462.5 148h-2.4M66 146.4h2.4M462.5 146.4h-2.4M66 145.1h2.4M462.5 145.1h-2.4M66 189h2.4M462.5 189h-2.4M66 184.3h2.4M462.5 184.3h-2.4M66 181h2.4M462.5 181h-2.4M66 178.4h2.4M462.5 178.4h-2.4M66 176.3h2.4M462.5 176.3h-2.4M66 174.6h2.4M462.5 174.6h-2.4M66 173h2.4M462.5 173h-2.4M66 171.7h2.4M462.5 171.7h-2.4M66 215.6h2.4M462.5 215.6h-2.4M66 210.9h2.4M462.5 210.9h-2.4M66 207.6h2.4M462.5 207.6h-2.4M66 205h2.4M462.5 205h-2.4M66 202.9h2.4M462.5 202.9h-2.4M66 201.1h2.4M462.5 201.1h-2.4M66 199.6h2.4M462.5 199.6h-2.4M66 198.2h2.4M462.5 198.2h-2.4M66 242.2h2.4M462.5 242.2h-2.4M66 237.5h2.4M462.5 237.5h-2.4M66 234.2h2.4M462.5 234.2h-2.4M66 231.6h2.4M462.5 231.6h-2.4M66 229.5h2.4M462.5 229.5h-2.4M66 227.7h2.4M462.5 227.7h-2.4M66 226.2h2.4M462.5 226.2h-2.4M66 224.8h2.4M462.5 224.8h-2.4M66 268.7h2.4M462.5 268.7h-2.4M66 264h2.4M462.5 264h-2.4M66 260.7h2.4M462.5 260.7h-2.4M66 258.2h2.4M462.5 258.2h-2.4M66 256h2.4M462.5 256h-2.4M66 254.3h2.4M462.5 254.3h-2.4M66 252.7h2.4M462.5 252.7h-2.4M66 251.4h2.4M462.5 251.4h-2.4M66 295.3h2.4M462.5 295.3h-2.4M66 290.6h2.4M462.5 290.6h-2.4M66 287.3h2.4M462.5 287.3h-2.4M66 284.7h2.4M462.5 284.7h-2.4M66 282.6h2.4M462.5 282.6h-2.4M66 280.8h2.4M462.5 280.8h-2.4M66 279.3h2.4M462.5 279.3h-2.4M66 277.9h2.4M462.5 277.9h-2.4" stroke="#000" stroke-width="1.5" fill="none"/><path d="M66 303.3v-5.2M66 11v5.2M165.1 303.3v-5.2M165.1 11v5.2M264.2 303.3v-5.2M264.2 11v5.2M363.4 303.3v-5.2M363.4 11v5.2M462.5 303.3v-5.2M462.5 11v5.2M66 11h5.2M462.5 11h-5.2M66 37.6h5.2M462.5 37.6h-5.2M66 64.1h5.2M462.5 64.1h-5.2M66 90.7h5.2M462.5 90.7h-5.2M66 117.3h5.2M462.5 117.3h-5.2M66 143.9h5.2M462.5 143.9h-5.2M66 170.4h5.2M462.5 170.4h-5.2M66 197h5.2M462.5 197h-5.2M66 223.6h5.2M462.5 223.6h-5.2M66 250.2h5.2M462.5 250.2h-5.2M66 276.7h5.2M462.5 276.7h-5.2M66 303.3h5.2M462.5 303.3h-5.2" stroke="#000" stroke-width="2" fill="none"/><text x="59.4" y="17" text-anchor="end" class="tk">10<tspan class="sup" dy="-6">-16</tspan></text><text x="59.4" y="43.6" text-anchor="end" class="tk">10<tspan class="sup" dy="-6">-17</tspan></text><text x="59.4" y="70.1" text-anchor="end" class="tk">10<tspan class="sup" dy="-6">-18</tspan></text><text x="59.4" y="96.7" text-anchor="end" class="tk">10<tspan class="sup" dy="-6">-19</tspan></text><text x="59.4" y="123.3" text-anchor="end" class="tk">10<tspan class="sup" dy="-6">-20</tspan></text><text x="59.4" y="149.9" text-anchor="end" class="tk">10<tspan class="sup" dy="-6">-21</tspan></text><text x="59.4" y="176.4" text-anchor="end" class="tk">10<tspan class="sup" dy="-6">-22</tspan></text><text x="59.4" y="203" text-anchor="end" class="tk">10<tspan class="sup" dy="-6">-23</tspan></text><text x="59.4" y="229.6" text-anchor="end" class="tk">10<tspan class="sup" dy="-6">-24</tspan></text><text x="59.4" y="256.2" text-anchor="end" class="tk">10<tspan class="sup" dy="-6">-25</tspan></text><text x="59.4" y="282.7" text-anchor="end" class="tk">10<tspan class="sup" dy="-6">-26</tspan></text><text x="59.4" y="309.3" text-anchor="end" class="tk">10<tspan class="sup" dy="-6">-27</tspan></text><text x="66.5" y="323.7" text-anchor="middle" class="tk">10<tspan class="sup" dy="-5.8">-2</tspan></text><text x="165.6" y="323.7" text-anchor="middle" class="tk">10<tspan class="sup" dy="-5.8">-1</tspan></text><text x="264.8" y="323.7" text-anchor="middle" class="tk">10<tspan class="sup" dy="-5.8">0</tspan></text><text x="363.9" y="323.7" text-anchor="middle" class="tk">10<tspan class="sup" dy="-5.8">1</tspan></text><text x="463" y="323.7" text-anchor="middle" class="tk">10<tspan class="sup" dy="-5.8">2</tspan></text><text x="266.1" y="349.6" text-anchor="middle" class="ax">f [Hz]</text><text transform="translate(20.2 159.7) rotate(-90)" text-anchor="middle" class="ax">h<tspan class="sub" dy="3.5">c</tspan><tspan dy="-3.5">(f), h</tspan><tspan class="sub" dy="3.5">n</tspan><tspan dy="-3.5">(f)</tspan></text><rect x="350.6" y="18.7" width="97.6" height="64.9" fill="#fff" stroke="#000" stroke-width="2"/><path d="M352 28.6H385.3" stroke="#000" stroke-width="2.5" fill="none"/><text x="388.6" y="33.7" class="lg">M=20M<tspan class="sun" dx="1.3" dy="3.8">⊙</tspan></text><path d="M352 49.7H385.3" stroke="#f00" stroke-width="2.5" fill="none"/><text x="388.6" y="54.7" class="lg">M=30M<tspan class="sun" dx="1.3" dy="3.8">⊙</tspan></text><path d="M352 70.9H385.3" stroke="#00f" stroke-width="2.5" fill="none"/><text x="388.6" y="75.9" class="lg">M=40M<tspan class="sun" dx="1.3" dy="3.8">⊙</tspan></text></g>
<g id="panel-b"><clipPath id="cpb"><rect x="541.5" y="14.4" width="400.6" height="290.7"/></clipPath><rect x="542.9" y="13" width="400.6" height="293.5" fill="none" stroke="#000" stroke-width="2.6"/><g clip-path="url(#cpb)"><g fill="none" stroke="#808080" stroke-width="2.1" stroke-linejoin="round" stroke-linecap="round"><polyline points="542.9,134.5 543.9,134.4 544.9,134.3 545.9,134.2 546.9,134.1 547.9,133.9 548.9,133.8 549.9,133.7 550.9,133.5 551.9,133.4 553,133.3 554,133.1 555,133 556,132.9 557,132.7 558,132.6 559,132.4 560,132.3 561,132.1 562,132 563,131.9 564,131.7 565,131.5 566,131.4 567,131.2 568,131.1 569,130.9 570,130.8 571,130.6 572,130.5 573,130.3 574,130.1 575,130 576,129.8 577,129.6 578,129.5 579,129.3 580,129.1 581,128.9 582,128.8 583,128.6 584,128.4 585,128.2 586,128 587,127.8 587.9,127.7 588.9,127.5 589.9,127.3 590.9,127.1 591.9,126.9 592.9,126.7 593.9,126.5 594.9,126.3 595.9,126.1 596.9,125.9 597.9,125.7 598.9,125.5 599.9,125.3 600.9,125.1 601.8,124.9 602.8,124.6 603.8,124.4 604.8,124.2 605.8,124 606.8,123.7 607.8,123.5 608.7,123.3 609.7,123 610.7,122.8 611.7,122.5 612.7,122.3 613.7,122 614.6,121.8 615.6,121.5 616.6,121.3 617.6,121 618.6,120.8 619.5,120.5 620.5,120.3 621.5,120 622.5,119.7 623.5,119.5 624.4,119.2 625.4,118.9 626.4,118.7 627.4,118.4 628.3,118.1 629.3,117.8 630.3,117.6 631.3,117.3 632.2,117 633.2,116.7 634.2,116.5 635.1,116.2 636.1,115.9 637.1,115.6 638.1,115.3 639,115 640,114.7 641,114.4 641.9,114.1 642.9,113.8 643.9,113.5 644.8,113.2 645.8,112.9 646.7,112.6 647.7,112.3 648.7,111.9 649.6,111.6 650.6,111.3 651.5,111 652.5,110.6 653.5,110.3 654.4,110 655.4,109.6 656.3,109.3 657.3,109 658.2,108.6 659.2,108.3 660.1,107.9 661.1,107.6 662,107.2 663,106.9 663.9,106.5 664.9,106.2 665.8,105.8 666.8,105.5 667.7,105.1 668.7,104.8 669.6,104.4 670.6,104.1 671.5,103.7 672.5,103.3 673.4,103 674.3,102.6 675.3,102.2 676.2,101.8 677.2,101.5 678.1,101.1 679,100.7 680,100.3 680.9,100 681.9,99.6 682.8,99.2 683.7,98.8 684.7,98.4 685.6,98.1 686.5,97.7 687.5,97.3 688.4,96.9 689.4,96.6 690.3,96.2 691.2,95.8 692.2,95.4 693.1,95.1 694.1,94.7 695,94.3 695.9,93.9 696.9,93.6 697.8,93.2 698.8,92.8 699.7,92.4 700.6,92.1 701.6,91.7 702.5,91.3 703.5,90.9 704.4,90.6 705.3,90.2 706.3,89.8 707.2,89.4 708.2,89.1 709.1,88.7 710,88.3 711,88 711.9,87.6 712.9,87.2 713.8,86.8 714.8,86.5 715.7,86.1 716.6,85.7 717.6,85.4 718.5,85 719.5,84.6 720.4,84.3 721.3,83.9 722.3,83.5 723.2,83.2 724.2,82.8 725.1,82.4 726.1,82.1 727,81.7 728,81.3 728.9,81 729.8,80.6 730.8,80.2 731.7,79.9 732.7,79.5 733.6,79.2 734.6,78.8 735.5,78.4 736.4,78.1 737.4,77.7 738.3,77.3 739.3,77 740.2,76.6 741.1,76.3"/><polyline points="542.9,175.2 543.8,175.6 544.8,175.9 545.7,176.3 546.7,176.7 547.6,177 548.6,177.4 549.5,177.7 550.5,178.1 551.4,178.5 552.4,178.8 553.3,179.2 554.2,179.5 555.2,179.9 556.1,180.3 557.1,180.6 558,181 559,181.4 559.9,181.7 560.9,182.1 561.8,182.5 562.7,182.8 563.7,183.2 564.6,183.6 565.6,183.9 566.5,184.3 567.5,184.7 568.4,185 569.3,185.4 570.3,185.8 571.2,186.1 572.2,186.5 573.1,186.9 574.1,187.3 575,187.6 575.9,188 576.9,188.4 577.8,188.7 578.8,189.1 579.7,189.5 580.6,189.9 581.6,190.2 582.5,190.6 583.5,191 584.4,191.4 585.3,191.7 586.3,192.1 587.2,192.5 588.1,192.9 589.1,193.2 590,193.6 591,194 591.9,194.4 592.8,194.8 593.8,195.1 594.7,195.5 595.7,195.9 596.6,196.3 597.5,196.6 598.5,197 599.4,197.4 600.3,197.8 601.3,198.2 602.2,198.6 603.2,198.9 604.1,199.3 605,199.7 606,200.1 606.9,200.5 607.8,200.9 608.8,201.3 609.7,201.6 610.6,202 611.6,202.4 612.5,202.8 613.4,203.2 614.4,203.6 615.3,204 616.2,204.4 617.1,204.8 618.1,205.2 619,205.6 619.9,206 620.9,206.4 621.8,206.8 622.7,207.2 623.7,207.6 624.6,208 625.5,208.4 626.4,208.8 627.4,209.2 628.3,209.6 629.2,210 630.2,210.4 631.1,210.8 632,211.2 633,211.6 633.9,211.9 634.8,212.3 635.8,212.7 636.7,213.1 637.6,213.5 638.6,213.9 639.5,214.3 640.4,214.7 641.4,215.1 642.3,215.5 643.2,215.9 644.2,216.2 645.1,216.6 646,217 647,217.4 647.9,217.8 648.8,218.2 649.8,218.6 650.7,219 651.6,219.4 652.6,219.8 653.5,220.2 654.4,220.6 655.4,221 656.3,221.4 657.2,221.8 658.2,222.2 659.1,222.6 660,223 661,223.3 661.9,223.7 662.9,224 663.8,224.4 664.8,224.7 665.7,225 666.7,225.3 667.7,225.5 668.6,225.8 669.6,226.1 670.6,226.4 671.6,226.6 672.6,226.9 673.5,227.2 674.5,227.4 675.5,227.7 676.5,227.9 677.5,228.1 678.5,228.3 679.5,228.5 680.5,228.7 681.5,228.9 682.5,229 683.5,229.2 684.5,229.3 685.5,229.3 686.5,229.4 687.5,229.5 688.5,229.6 689.5,229.7 690.5,229.8 691.5,229.8 692.5,229.9 693.6,230 694.6,230 695.6,230.1 696.6,230.1 697.6,230.2 698.6,230.2 699.7,230.2 700.7,230.3 701.7,230.3 702.7,230.3 703.7,230.2 704.7,230.2 705.7,230.2 706.7,230.2 707.7,230.1 708.8,230.1 709.8,230 710.8,230 711.8,229.9 712.8,229.9 713.8,229.8 714.8,229.7 715.8,229.6 716.9,229.6 717.9,229.5 718.9,229.4 719.9,229.4 720.9,229.3 721.9,229.2 722.9,229.2 723.9,229.1 724.9,229 726,229 727,228.9 728,228.8 729,228.7 730,228.7 731,228.6 732,228.5 733,228.4 734,228.3 735,228.3 736.1,228.2 737.1,228.1 738.1,228 739.1,227.9 740.1,227.8 741.1,227.7 742.1,227.6 743.1,227.5 744.1,227.4 745.1,227.3 746.1,227.2 747.1,227.1 748.1,226.9 749.1,226.8 750.2,226.7 751.2,226.6 752.2,226.4 753.2,226.3 754.2,226.2 755.2,226 756.2,225.8 757.2,225.7 758.2,225.5 759.2,225.3 760.2,225.2 761.2,225 762.2,224.8 763.2,224.6 764.2,224.4 764.2,224.4"/><polyline points="542.9,230.8 543.8,231.2 544.8,231.5 545.7,231.9 546.6,232.3 547.6,232.7 548.5,233.1 549.4,233.5 550.4,233.8 551.3,234.2 552.3,234.6 553.2,235 554.1,235.4 555.1,235.8 556,236.1 556.9,236.5 557.9,236.9 558.8,237.3 559.7,237.7 560.7,238.1 561.6,238.4 562.6,238.8 563.5,239.2 564.4,239.6 565.4,240 566.3,240.3 567.2,240.7 568.2,241.1 569.1,241.5 570.1,241.9 571,242.2 571.9,242.6 572.9,243 573.8,243.4 574.7,243.8 575.7,244.1 576.6,244.5 577.6,244.9 578.5,245.3 579.4,245.7 580.4,246 581.3,246.4 582.3,246.8 583.2,247.2 584.1,247.5 585.1,247.9 586,248.3 586.9,248.7 587.9,249.1 588.8,249.4 589.8,249.8 590.7,250.2 591.6,250.6 592.6,251 593.5,251.3 594.5,251.7 595.4,252.1 596.3,252.5 597.3,252.8 598.2,253.2 599.1,253.6 600.1,254 601,254.4 602,254.7 602.9,255.1 603.8,255.5 604.8,255.9 605.7,256.2 606.7,256.6 607.6,257 608.5,257.3 609.5,257.7 610.4,258.1 611.4,258.5 612.3,258.8 613.3,259.2 614.2,259.6 615.1,259.9 616.1,260.3 617,260.7 618,261 618.9,261.4 619.9,261.8 620.8,262.1 621.7,262.5 622.7,262.8 623.6,263.2 624.6,263.5 625.5,263.9 626.5,264.3 627.4,264.6 628.4,265 629.3,265.3 630.3,265.7 631.2,266 632.2,266.4 633.1,266.7 634.1,267.1 635,267.5 636,267.8 636.9,268.2 637.9,268.5 638.8,268.9 639.8,269.2 640.7,269.6 641.7,269.9 642.6,270.2 643.6,270.6 644.5,270.9 645.5,271.3 646.4,271.6 647.4,272 648.3,272.3 649.3,272.6 650.2,273 651.2,273.3 652.1,273.6 653.1,274 654.1,274.3 655,274.6 656,275 656.9,275.3 657.9,275.6 658.8,275.9 659.8,276.3 660.8,276.6 661.7,276.9 662.7,277.3 663.6,277.7 664.6,278.1 665.5,278.5 666.5,278.9 667.5,279.3 668.4,279.7 669.4,280 670.4,280.3 671.3,280.5 672.3,280.7 673.3,280.8 674.3,280.8 675.3,280.8 676.3,280.8 677.3,280.7 678.3,280.7 679.3,280.7 680.3,280.6 681.3,280.6 682.3,280.5 683.4,280.5 684.4,280.4 685.4,280.4 686.4,280.3 687.4,280.2 688.4,280.2 689.5,280.1 690.5,280.1 691.5,280 692.5,280 693.5,279.9 694.5,279.8 695.5,279.8 696.6,279.7 697.6,279.7 698.6,279.6 699.6,279.5 700.6,279.5 701.6,279.4 702.6,279.3 703.7,279.2 704.7,279.2 705.7,279.1 706.7,279 707.7,278.9 708.7,278.8 709.7,278.7 710.7,278.6 711.7,278.5 712.7,278.4 713.7,278.3 714.7,278.2 715.7,278.1 716.7,277.9 717.7,277.8 718.7,277.6 719.7,277.5 720.7,277.3 721.7,277 722.7,276.8 723.6,276.5 724.6,276.3 725.6,276 726.6,275.7 727.5,275.4 728.5,275.1 729.5,274.8 730.5,274.5 731.4,274.2 732.4,274 733.4,273.7 734.4,273.4 735.3,273.1 736.3,272.9 737.3,272.6 738.3,272.3 739.2,272 740.2,271.7 741.2,271.4 742.1,271.1 743.1,270.8 744.1,270.6 745,270.3 746,270 747,269.7 747.9,269.4 748.9,269.1 749.9,268.8 750.9,268.5 751.8,268.2 752.8,267.9 753.8,267.6 754.7,267.3 755.7,267 756.7,266.7 757.6,266.4 758.6,266.1 759.6,265.7 760.5,265.4 761.5,265.1 762.4,264.7 763.3,264.4 764.3,264 765.2,263.6 766.1,263.2 767.1,262.8 768,262.4 768.9,261.9 769.8,261.5 770.7,261 771.6,260.6 772.6,260.1 773.5,259.7 774.4,259.2 775.3,258.8 776.2,258.3 777.1,257.9 778,257.5 779,257.1 779.9,256.7 780.8,256.3 781.7,255.9 782.7,255.5 783.6,255.2 784.6,254.9 785.5,254.6 786.5,254.3 787.4,254 788.4,253.7 789.4,253.4 790.3,253.1 791.3,252.8 792.3,252.6 793.3,252.3 794.3,252.1 795.2,251.8 796.2,251.6 797.2,251.3 798.2,251.1 799.2,250.9 800.2,250.6 801.2,250.4 802.2,250.2 803.2,249.9 804.1,249.7 805.1,249.5 806.1,249.3 807.1,249 808.1,248.8 809.1,248.6 810.1,248.3 811.1,248.1 812.1,247.8 813,247.6 814,247.3 815,247.1 816,246.8 817,246.5 817.9,246.2 818.9,246 819.9,245.7 820.8,245.4 821.8,245.1 822.7,244.7 823.7,244.4 824.6,244.1 825.6,243.8 826.5,243.4 827.5,243.1 828.4,242.7 829.4,242.4 830.3,242 831.3,241.6 832.2,241.3 833.2,240.9 834.1,240.5 835,240.2 836,239.8 836.9,239.4 837.9,239 838.8,238.6 839.7,238.2 840.7,237.8 841.6,237.4 842.5,237 843.5,236.6 844.4,236.3 845.3,235.9 846.3,235.5 847.2,235.1 848.1,234.7 849.1,234.3 850,233.9 850.9,233.5 851.9,233.1 852.8,232.7 853.7,232.3 854.7,232 855.6,231.6 856.5,231.2 857.5,230.8 858.4,230.4 859.4,230 860.3,229.6 861.2,229.2 862.1,228.8 863.1,228.4 864,228.1 864.9,227.7 865.9,227.3 866.8,226.9 867.7,226.5 868.7,226.1 869.6,225.7 870.5,225.3 871.4,224.8 872.4,224.4 873.3,224 874.2,223.5 875.1,223.1 876,222.7 877,222.2 877.9,221.8 878.8,221.3 879.7,220.9 880.6,220.5 881.6,220.1 882.5,219.7 883.4,219.4 884.4,219 885.3,218.7 886.3,218.3 887.2,218 888.2,217.8 889.2,217.5 890.1,217.3 891.1,217 892.1,216.8 893.1,216.6 894.1,216.4 895.1,216.1 896.1,215.9 897.1,215.7 898.1,215.5 899.1,215.3 900.1,215 901,214.8 902,214.5 903,214.2 903.9,213.9 904.9,213.6 905.8,213.3 906.8,212.9 907.7,212.5 908.6,212.1 909.6,211.7 910.5,211.3 911.4,210.9 912.3,210.4 913.3,210 914.2,209.6 915.1,209.2 916,208.8 917,208.4 917.9,208 918.9,207.6 919.8,207.3 920.8,207 921.7,206.6 922.7,206.3 923.6,206 924.6,205.7 925.6,205.4 926.6,205.1 927.5,204.8 928.5,204.6 929.5,204.3 930.5,204.1 931.5,203.9 932.5,203.7 933.4,203.5 934.4,203.4 935.4,203.2 936.4,203 937.4,202.9 938.4,202.7 939.4,202.6 940.5,202.4 941.5,202.3 942.5,202.2 943.5,202.1 943.5,202.1"/><polyline points="761.4,151.7 761.5,152.7 761.6,153.8 761.8,154.8 762,155.7 762.3,156.7 762.5,157.7 762.8,158.6 763.1,159.5 763.5,160.5 763.9,161.4 764.3,162.3 764.8,163.2 765.4,164.1 765.9,165 766.5,165.8 767.1,166.6 767.7,167.4 768.4,168.1 769,168.8 769.8,169.5 770.5,170.1 771.3,170.7 772.2,171.3 773,171.9 773.9,172.5 774.7,173.1 775.6,173.7 776.4,174.3 777.2,174.9 778,175.5 778.7,176.2 779.5,176.9 780.2,177.6 780.9,178.4 781.6,179.1 782.3,179.8 783,180.6 783.7,181.3 784.4,182 785.1,182.6 785.9,183.3 786.7,184 787.4,184.6 788.2,185.3 789,185.9 789.7,186.6 790.5,187.2 791.3,187.9 792.1,188.5 792.8,189.2 793.6,189.8 794.4,190.5 795.2,191.1 795.9,191.8 796.7,192.4 797.5,193.1 798.2,193.8 799,194.4 799.7,195.1 800.4,195.8 801.2,196.5 801.9,197.2 802.6,197.9 803.3,198.7 804,199.4 804.7,200.1 805.5,200.8 806.2,201.5 806.9,202.2 807.6,202.9 808.4,203.6 809.1,204.3 809.9,204.9 810.6,205.6 811.4,206.4 812.2,207.1 813,207.9 813.8,208.6 814.6,209.3 815.4,209.9 816.2,210.4 817.1,210.7 818,210.9 818.9,211 819.9,211 820.8,211.1 821.8,211.2 822.8,211.2 823.9,211.3 824.9,211.3 825.9,211.4 827,211.4 828,211.4 829.1,211.5 830.1,211.5 831.2,211.5 832.2,211.5 833.2,211.5 834.2,211.5 835.2,211.4 836.2,211.4 837.2,211.4 838.2,211.3 839.3,211.3 840.3,211.2 841.3,211.1 842.3,211.1 843.3,211 844.3,210.9 845.3,210.8 846.3,210.8 847.3,210.7 848.4,210.6 849.4,210.5 850.4,210.4 851.4,210.3 852.4,210.2 853.4,210.1 854.4,210 855.4,210 856.4,209.9 857.4,209.8 858.4,209.7 859.5,209.6 860.5,209.4 861.5,209.3 862.5,209.2 863.5,209 864.5,208.9 865.5,208.7 866.5,208.6 867.5,208.4 868.5,208.3 869.5,208.1 870.5,208 871.5,207.9 872.5,207.8 873.5,207.7 874.6,207.6 875.6,207.5 876.6,207.5 877.6,207.5 878.6,207.5 879.6,207.5 880.6,207.5 881.6,207.5 882.6,207.6 883.6,207.7 884.6,207.7 885.6,207.8 886.7,207.9 887.7,208 888.7,208.1 889.7,208.2 890.7,208.3 891.7,208.4 892.7,208.5 893.7,208.7 894.7,208.8 895.7,208.9 896.8,209 897.8,209.1 898.8,209.2 899.8,209.3 900.8,209.4 901.8,209.6 902.8,209.7 903.8,209.9 904.8,210 905.8,210.1 906.8,210.2 907.8,210.3 908.8,210.4 909.8,210.4 910.9,210.5 911.9,210.5 912.9,210.5 913.9,210.5 914.9,210.5 915.9,210.6 916.9,210.6 917.9,210.6 918.9,210.6 919.9,210.6 921,210.6 922,210.6 923,210.7 924,210.7 925,210.7 926,210.7 927,210.7 928,210.7 929.1,210.7 930.1,210.7 931.1,210.7 932.1,210.7 933.1,210.7 934.1,210.8 935.1,210.8 936.2,210.8 937.2,210.8 938.2,210.8 939.2,210.8 940.2,210.8 941.2,210.8 942.2,210.8 943.3,210.8 943.5,210.8"/><polyline points="808.8,103.3 809.2,104.2 809.7,105.1 810.1,106 810.6,106.9 811,107.8 811.4,108.7 811.9,109.7 812.3,110.6 812.6,111.5 813,112.4 813.4,113.4 813.7,114.3 814.1,115.2 814.4,116.2 814.7,117.1 815,118.1 815.3,119.1 815.6,120 815.9,121 816.2,121.9 816.5,122.9 816.9,123.9 817.2,124.8 817.5,125.8 817.9,126.7 818.2,127.7 818.5,128.6 818.9,129.6 819.2,130.5 819.5,131.5 819.9,132.4 820.3,133.3 820.6,134.3 821,135.2 821.4,136.1 821.8,137.1 822.2,138 822.6,138.9 823,139.8 823.4,140.7 823.9,141.7 824.3,142.6 824.8,143.5 825.3,144.3 825.8,145.2 826.3,146 826.9,146.9 827.5,147.9 828.1,148.9 828.7,149.9 829.4,150.8 830.1,151.5 830.8,152.1 831.6,152.5 832.4,152.5 833.3,152.3 834.3,151.9 835.3,151.4 835.5,151.2 837,130.1 838.3,94 839.5,130.1 840.8,153.2 841.4,154.1 842,154.9 842.6,155.7 843.2,156.5 843.8,157.3 844.5,158.1 845.1,158.9 845.8,159.6 846.5,160.3 847.2,161 847.9,161.7 848.7,162.4 849.4,163 850.2,163.6 851,164.3 851.8,164.9 852.7,165.4 853.5,166 854.4,166.6 855.2,167.1 856.1,167.7 856.9,168.3 857.7,168.8 858.6,169.4 859.4,170 860.3,170.5 861.2,171 862,171.6 862.9,172.1 863.8,172.6 864.7,173 865.6,173.4 866.5,173.8 867.4,174.2 868.3,174.6 869.3,175 870.2,175.4 871.2,175.7 872.1,176.1 873.1,176.4 874,176.8 875,177.1 876,177.4 877,177.7 877.9,178 878.9,178.3 879.9,178.5 880.9,178.8 881.8,179 882.8,179.3 883.8,179.5 884.8,179.7 885.8,179.9 886.8,180.1 887.7,180.4 888.7,180.6 889.7,180.8 890.7,180.9 891.7,181.1 892.7,181.3 893.7,181.5 894.7,181.7 895.7,181.9 896.7,182 897.7,182.2 898.7,182.4 899.7,182.5 900.7,182.7 901.7,182.9 902.7,183 903.7,183.2 904.7,183.4 905.7,183.5 906.7,183.7 907.7,183.9 908.7,184 909.7,184.2 910.7,184.4 911.7,184.5 912.7,184.7 913.7,184.8 914.7,185 915.7,185.1 916.7,185.3 917.7,185.4 918.7,185.6 919.7,185.7 920.7,185.9 921.7,186 922.7,186.2 923.7,186.3 924.7,186.5 925.7,186.6 926.7,186.7 927.7,186.9 928.7,187 929.7,187.1 930.8,187.3 931.8,187.4 932.8,187.5 933.8,187.7 934.8,187.8 935.8,187.9 936.8,188 937.8,188.1 938.8,188.3 939.8,188.4 940.8,188.5 941.8,188.6 942.8,188.7 943.5,188.8"/></g><g fill="none" stroke-width="2.5" stroke-linejoin="round" stroke-linecap="butt"><polyline stroke="#000" points="542.9,127.9 543.2,128.1 543.5,128.3 543.8,127.8 544.1,127.4 544.4,127.7 544.7,128.1 545,128.1 545.3,128.1 545.6,128.1 545.9,128 546.2,128 546.5,127.9 546.8,128 547.1,128 547.4,128.1 547.7,128.1 548,128.5 548.3,129 548.6,128.7 548.9,128.5 549.2,128.8 549.5,129 549.8,128.7 550.1,128.5 550.4,128.6 550.7,128.7 551,128.9 551.3,129.1 551.6,129.5 551.9,129.7 552.2,129.7 552.5,129.7 552.8,129.7 553.1,129.8 553.4,129.4 553.7,129.1 554,129.6 554.3,130.1 554.6,130.1 554.9,130.1 555.2,129.9 555.5,129.7 555.8,129.6 556.1,129.6 556.4,129.8 556.7,130.1 557,130.4 557.3,130.6 557.6,130.6 557.9,130.6 558.2,130.7 558.5,130.8 558.8,130.9 559.1,131 559.4,130.8 559.7,130.6 560,130.9 560.3,131.2 560.6,131.1 560.9,131.1 561.2,131 561.5,130.8 561.8,130.8 562.1,130.8 562.4,131.1 562.7,131.4 563,131.5 563.3,131.6 563.6,131.5 563.9,131.4 564.2,131.5 564.5,131.7 564.8,131.7 565.1,131.8 565.4,132 565.7,132.2 566,132.1 566.3,131.9 566.6,132.2 566.9,132.6 567.2,132.7 567.5,132.8 567.8,132.6 568.1,132.4 568.4,132.6 568.7,132.8 569,133.3 569.3,133.4 569.6,133.4 569.9,133.1 570.2,133 570.5,133 570.8,133.2 571.1,133.4 571.4,133.3 571.7,133.2 572,133.5 572.3,133.7 572.6,133.6 572.9,133.5 573.2,133.8 573.5,134.2 573.8,134.2 574.1,134.1 574.4,133.9 574.7,133.8 575,134.1 575.3,134.4 575.6,134.1 575.9,133.9 576.2,134.1 576.5,134.4 576.8,134.5 577.1,134.6 577.4,134.8 577.7,134.9 578,134.8 578.3,134.7 578.6,135 578.9,135.3 579.2,135.4 579.5,135.4 579.8,135.4 580.1,135.4 580.4,135.4 580.7,135.4 581,135.8 581.3,136.2 581.6,136.3 581.9,136.3 582.2,136.3 582.5,136.2 582.8,136.2 583.1,136.1 583.4,136.3 583.7,136.5 584,136.4 584.3,136.3 584.6,136.4 584.9,136.6 585.2,136.7 585.5,136.9 585.8,137.1 586.1,137.3 586.4,137.5 586.7,137.6 587,137.7 587.3,137.8 587.6,137.7 587.9,137.6 588.2,137.8 588.5,138 588.8,138.4 589.1,138.7 589.4,138.5 589.7,138.4 590,138.6 590.3,138.9 590.6,139.3 590.9,139.6 591.2,139.6 591.5,139.3 591.8,139.7 592.1,140.1 592.4,140.1 592.7,140.1 593,140.3 593.3,140.5 593.6,140.5 593.9,140.5 594.2,140.9 594.5,141.4 594.8,141.5 595.1,141.5 595.4,141.7 595.7,141.9 596,141.9 596.3,141.9 596.6,142 596.9,142.1 597.2,142.6 597.5,143.3 597.8,143.1 598.1,143 598.4,143.1 598.7,143.3 599,143.5 599.3,143.7 599.6,143.8 599.9,143.8 600.2,143.8 600.5,143.8 600.8,143.8 601.1,143.8 601.4,143.9 601.7,143.9 602,144.2 602.3,144.6 602.6,144.1 602.9,143.7 603.2,144 603.5,144.3 603.8,144.4 604.1,144.4 604.4,144.5 604.7,144.5 605,144.3 605.3,144 605.6,144 605.9,144 606.2,144.2 606.5,144.3 606.8,144.4 607.1,144.5 607.4,144.6 607.7,144.6 608,144.7 608.3,144.8 608.6,144.9 608.9,144.9 609.2,144.8 609.5,144.6 609.8,144.7 610.1,144.8 610.4,144.7 610.7,144.6 611,144.7 611.3,144.9 611.6,144.9 611.9,144.8 612.2,145 612.5,145.2 612.8,144.9 613.1,144.6 613.4,144.6 613.7,144.6 614,144.7 614.3,144.9 614.6,144.9 614.9,145 615.2,145 615.5,144.9 615.8,144.8 616.1,144.6 616.4,144.8 616.7,144.9 617,145.2 617.3,145.4 617.6,145.4 617.9,145.5 618.2,145.4 618.5,145.3 618.8,145.6 619.1,145.8 619.4,145.2 619.7,144.8 620,144.8 620.3,145 620.6,145.2 620.9,145.4 621.2,145.4 621.5,145.3 621.8,145.1 622.1,145 622.4,145.2 622.7,145.4 623,145.3 623.3,145.1 623.6,145.7 623.9,146.1 624.2,145.8 624.5,145.4 624.8,145.4 625.1,145.5 625.4,145.7 625.7,146 626,145.7 626.3,145.5 626.6,145.8 626.9,146.1 627.2,146 627.5,146 627.8,146 628.1,146 628.4,146.1 628.7,146.3 629,146.3 629.3,146.3 629.6,146.1 629.9,145.9 630.2,145.9 630.5,145.9 630.8,145.9 631.1,146 631.4,146 631.7,145.9 632,146.1 632.3,146.4 632.6,146.4 632.9,146.4 633.2,146.4 633.5,146.4 633.8,146.2 634.1,146 634.4,146.3 634.7,146.5 635,146.6 635.3,146.7 635.6,146.7 635.9,146.7 636.2,146.9 636.5,147.1 636.8,146.8 637.1,146.5 637.4,146.6 637.7,146.7 638,147 638.3,147.3 638.6,147 638.9,146.7 639.2,146.7 639.5,146.8 639.8,147 640.1,147.1 640.4,146.9 640.7,146.6 641,146.9 641.3,147.2 641.6,147.2 641.9,147.1 642.2,147.1 642.5,147.1 642.8,147.1 643.1,147.1 643.4,147.1 643.7,147.1 644,147.2 644.3,147.4 644.6,147.3 644.9,147.2 645.2,147.3 645.5,147.5 645.8,147.8 646.1,148.1 646.4,148.1 646.7,148.2 647,148 647.3,147.8 647.6,147.9 647.9,148 648.2,147.9 648.5,147.7 648.8,147.6 649.1,147.4 649.4,147.7 649.7,147.9 650,148.1 650.3,148.3 650.6,148.3 650.9,148.3 651.2,148.4 651.5,148.5 651.8,148.3 652.1,148.1 652.4,148.3 652.7,148.5 653,148.3 653.3,148.1 653.6,148.3 653.9,148.5 654.2,148.6 654.5,148.8 654.8,148.7 655.1,148.7 655.4,148.5 655.7,148.3 656,148.3 656.3,148.4 656.6,148.6 656.9,148.9 657.2,149.1 657.5,149.4 657.8,149.3 658.1,149.2 658.4,149.1 658.7,148.9 659,149.2 659.3,149.5 659.6,149.4 659.9,149.4 660.2,149.7 660.5,150 660.8,149.9 661.1,149.8 661.4,149.9 661.7,150 662,150.1 662.3,150.2 662.6,150.2 662.9,150.2 663.2,149.9 663.5,149.8 663.8,149.9 664.1,150.2 664.4,150.2 664.7,150.1 665,150.5 665.3,150.9 665.6,151.1 665.9,151.3 666.2,151.2 666.5,151 666.8,151.2 667.1,151.4 667.4,151.4 667.7,151.4 668,151.4 668.3,151.4 668.6,151.4 668.9,151.3 669.2,151.6 669.5,151.9 669.8,151.9 670.1,151.9 670.4,152 670.7,152.2 671,152.1 671.3,152.1 671.6,152.2 671.9,152.4 672.2,152.5 672.5,152.6 672.8,152.8 673.1,153 673.4,153.1 673.7,153.2 674,153.2 674.3,153.2 674.6,153.7 674.9,154.2 675.2,153.9 675.5,153.5 675.8,153.7 676.1,154 676.4,154.2 676.7,154.3 677,154.5 677.3,154.7 677.6,154.5 677.9,154.4 678.2,154.7 678.5,154.9 678.8,155 679.1,155.1 679.4,154.9 679.7,154.9 680,155.1 680.3,155.4 680.6,155.8 680.9,156.2 681.2,156 681.5,155.8 681.8,156.4 682.1,157 682.4,157.1 682.7,157.3 683,157.1 683.3,156.8 683.6,157 683.9,157.3 684.2,157.8 684.5,158.2 684.8,158 685.1,157.7 685.4,157.9 685.7,158.1 686,158.5 686.3,159 686.6,158.9 686.9,158.8 687.2,158.8 687.5,158.8 687.8,159.3 688.1,159.8 688.4,159.9 688.7,160.1 689,160.4 689.3,160.7 689.6,160.7 689.9,160.8 690.2,161.3 690.5,161.7 690.8,161.7 691.1,161.6 691.4,161.8 691.7,162 692,162.1 692.3,162.2 692.6,162.5 692.9,162.7 693.2,163 693.5,163.2 693.8,163.4 694.1,163.7 694.4,164.1 694.7,164.4 695,164.9 695.3,165.3 695.6,165.7 695.9,166 696.2,165.8 696.5,165.6 696.8,166 697.1,166.4 697.4,166.9 697.7,167.5 698,167.8 698.3,168.2 698.6,168.6 698.9,169 699.2,169.2 699.5,169.4 699.8,170 700.1,170.6 700.4,170.9 700.7,171.2 701,171.9 701.3,172.6 701.6,173 701.9,173.4 702.2,173.3 702.5,173.2 702.8,173.8 703.1,174.4 703.4,174.6 703.7,174.9 704,175.3 704.3,175.8 704.6,176.2 704.9,176.6 705.2,177.1 705.5,177.6 705.8,178 706.1,178.3 706.4,178.8 706.7,179.3 707,179.6 707.3,180 707.6,180.2 707.9,180.5 708.2,181.6 708.5,182.3 708.8,182.8 709.1,182.9 709.4,183 709.7,183.2 710,184 710.3,184.9 710.6,184.8 710.9,184.8 711.2,185.3 711.5,185.8 711.8,185.9 712.1,186 712.4,186.3 712.7,186.5 713,187.1 713.3,187.7 713.6,187.3 713.9,186.9 714.2,187.2 714.5,187.5 714.8,187.8 715.1,188.1 715.4,187.7 715.7,187.2 716,186.9 716.3,186.9 716.6,187.3 716.9,187.9 717.2,187.6 717.5,187.3 717.8,187.9 718.1,188.6 718.4,188.2 718.7,187.8 719,187.5 719.3,187.2 719.6,188.1 719.9,189.2 720.2,188.4 720.5,187.6 720.8,188 721.1,188.5 721.4,188.5 721.7,188.5 722,188.1 722.3,187.7 722.6,188.3 722.9,188.9 723.2,188.3 723.5,187.7 723.8,187.5 724.1,187.3 724.4,187.8 724.7,188.3 725,188.4 725.3,188.5 725.6,188.5 725.9,188.4 726.2,188.3 726.5,188.2 726.8,188.5 727.1,188.9 727.4,189.4 727.7,189.9 728,189.1 728.3,188.3 728.6,188.2 728.9,188.2 729.2,188.2 729.5,188.2 729.8,188.6 730.1,189 730.4,188.6 730.7,188.3 731,188.4 731.3,188.5 731.6,189.6 731.9,190.3 732.2,189.2 732.5,187.7 732.8,188.3 733.1,189 733.4,188.6 733.7,188.3 734,188.2 734.3,188.1 734.6,187.4 734.9,186.8 735.2,187.8 735.5,188.9 735.8,188.3 736.1,187.7 736.4,188.4 736.7,189.1 737,189.4 737.3,189.8 737.6,189.4 737.9,189.1 738.2,189.6 738.5,190.2 738.8,189.6 739.1,189 739.4,189.5 739.7,190.1 740,190.4 740.3,190.6 740.6,189.8 740.9,188.9 741.2,188.5 741.5,188.1 741.8,188.5 742.1,188.9 742.4,189.4 742.7,189.9 743,190 743.3,190 743.6,190.3 743.9,190.6 744.2,190.8 744.5,190.9 744.8,190 745.1,189.2 745.4,190.6 745.7,192.1 746,190.8 746.3,189.6 746.6,190.6 746.9,191.5 747.2,190.6 747.5,189.7 747.8,189.6 748.1,189.5 748.4,190.8 748.7,192.2 749,192.4 749.3,192.6 749.6,193.2 749.9,193.7 750.2,193.5 750.5,193.3 750.8,192.5 751.1,191.6 751.4,192.3 751.7,192.9 752,193.6 752.3,194.3 752.6,194.8 752.9,195.4 753.2,196.4 753.5,197.4 753.8,196 754.1,194.7 754.4,196.4 754.7,198.1 755,199.1 755.3,200.2 755.6,199.5 755.9,198.8 756.2,201.6 756.5,202.4 756.8,202.9 757.1,200.9 757.4,203.2 757.7,204.3 758,202.3 758.3,198.7 758.6,200.2 758.9,201.7 759.2,201.7 759.5,201.7 759.8,203.4 760.1,205.1 760.4,206.6 760.7,208.2 761,205.6 761.3,202.7 761.6,206.8 761.9,211 762.2,210.8 762.5,210.5 762.8,207.2 763.1,203.7 763.4,205.5 763.7,207.3 764,206.3 764.3,205.3 764.6,202.7 764.9,200.1 765.2,200.7 765.5,201.2 765.8,201.8 766.1,202.4 766.4,202.2 766.7,202 767,200.6 767.3,199 767.6,204.5 767.9,210.1 768.2,210.9 768.5,211.7 768.8,209.1 769.1,206.5 769.4,206 769.7,205.5 770,202.2 770.3,198.9 770.6,200.2 770.9,201.5 771.2,198.6 771.5,195.7 771.8,195.8 772.1,196 772.4,196.1 772.7,196.1 773,193.5 773.3,190.9 773.6,191.3 773.9,191.7 774.2,192.2 774.5,192.7 774.8,193.7 775.1,194.6 775.4,192.8 775.7,190.9 776,190.2 776.3,189.4 776.6,192.5 776.9,195.6 777.2,191.9 777.5,188.1 777.8,190 778.1,191.9 778.4,187.6 778.7,183.3 779,182.3 779.3,181.3 779.6,182.2 779.9,183.2 780.2,180.7 780.5,178.2 780.8,177.7 781.1,177.2 781.4,178.8 781.7,180.4 782,184.1 782.3,187.9 782.6,190.8 782.9,193.7 783.2,192.9 783.5,192.1 783.8,186.9 784.1,181.6 784.4,180.9 784.7,180.2 785,185.1 785.3,190.1 785.6,184.4 785.9,178.6 786.2,187.2 786.5,195.9 786.8,190.7 787.1,185.4 787.4,180.1 787.7,174.7 788,179.3 788.3,183.9 788.6,182.4 788.9,180.9 789.2,185.2 789.5,189.5 789.8,188.1 790.1,186.7 790.4,187.7 790.7,188.6 791,191.7 791.3,194.9 791.6,191 791.9,187.2 792.2,189.2 792.5,191.3 792.8,185.4 793.1,179.5 793.4,181 793.7,182.6 794,186.3 794.3,190 794.6,181 794.9,171.9 795.2,182.3 795.5,192.7 795.8,186 796.1,179.3 796.4,189.9 796.7,200.6 797,188.1 797.3,175.5 797.6,177.9 797.9,180.3 798.2,174.8 798.5,169.3 798.8,178.1 799.1,187.1 799.4,182.3 799.7,177.5 800,172 800.3,166.5 800.6,165.2 800.9,164 801.2,166.9 801.5,169.8 801.8,172.2 802.1,174.5 802.4,172.2 802.7,169.9 803,176.8 803.3,183.7 803.6,180 803.9,176.4 804.2,176.3 804.5,176.3 804.8,177.3 805.1,178.4 805.4,173.9 805.7,169.5 806,172.6 806.3,175.8 806.6,174 806.9,172.2 807.2,171.2 807.5,170.2 807.8,173.7 808.1,177.3 808.4,177 808.7,176.7 809,176.8 809.3,176.9 809.6,178.5 809.9,180.1 810.2,172.3 810.5,164.4 810.8,174.4 811.1,184.4 811.4,184.1 811.7,183.9 812,180.6 812.3,177.4 812.6,171.3 812.9,165.3 813.2,169.6 813.5,174 813.8,178 814.1,181.9 814.4,181.9 814.7,181.8 815,176.6 815.3,171.4 815.6,178.7 815.9,185.9 816.2,180 816.5,174 816.8,172.4 817.1,170.7 817.4,172 817.7,173.2 818,178.3 818.3,183.4 818.6,179.1 818.9,174.7 819.2,173.5 819.5,172.3 819.8,173.2 820.1,174.1 820.4,168.4 820.7,162.6 821,172.9 821.3,183.2 821.6,180.5 821.9,177.9 822.2,180.9 822.5,183.9 822.8,172.8 823.1,161.8 823.4,174.5 823.7,187.3 824,183.1 824.3,178.8 824.6,178.2 824.9,177.5 825.2,170.3 825.5,163.1 825.8,161 826.1,158.9 826.4,167.7 826.7,176.4 827,178.9 827.3,181.5 827.6,175.5 827.9,169.6 828.2,181.3 828.5,192.9 828.8,186.4 829.1,179.9 829.4,180.3 829.7,180.7 830,171.3 830.3,162 830.6,166.1 830.9,170.2 831.2,183.1 831.5,196.1 831.8,186.6 832.1,177 832.4,172.5 832.7,168 833,171.5 833.3,175 833.6,173.2 833.9,171.4 834.2,172.5 834.5,173.6 834.8,170.7 835.1,167.8 835.4,171.2 835.7,174.6 836,177.9 836.3,181.1 836.6,183.8 836.9,186.4 837.2,180.3 837.5,174.2 837.8,176.6 838.1,179 838.4,176.5 838.7,173.9 839,165.2 839.3,156.5 839.6,167.7 839.9,179 840.2,177.3 840.5,175.6 840.8,175.3 841.1,175.1 841.4,173.6 841.7,172.1 842,175.1 842.3,174.7 842.6,170.5 842.9,165.6 843.2,158 843.5,153.1 843.8,153.8 844.1,155.9 844.4,158.4 844.7,161 845,172.7 845.3,183.9 845.6,184.3 845.9,184.7 846.2,179.7 846.5,174.8 846.8,169.7 847.1,164.6 847.4,163.3 847.7,161.9 848,163 848.3,164.1 848.6,165.6 848.9,167 849.2,166.7 849.5,166.3 849.8,166.5 850.1,166.6 850.4,168.5 850.7,170.3 851,170.9 851.3,171.6 851.6,166.2 851.9,160.9 852.2,173.2 852.5,185.5 852.8,179.6 853.1,173.6 853.4,172.5 853.7,171.3 854,164.9 854.3,158.5 854.6,164.3 854.9,170.1 855.2,170 855.5,170 855.8,171.8 856.1,173.6 856.4,167.9 856.7,162.3 857,165.3 857.3,168.4 857.6,170.7 857.9,173.1 858.2,172.9 858.5,172.8 858.8,167.8 859.1,162.8 859.4,163.4 859.7,164 860,167.9 860.3,171.9 860.6,175.1 860.9,178.4 861.2,176.1 861.5,173.8 861.8,173.3 862.1,172.7 862.4,172.3 862.7,171.9 863,166.7 863.3,161.4 863.6,161.3 863.9,161.2 864.2,166.4 864.5,171.7 864.8,171.2 865.1,170.7 865.4,176.6 865.7,182.5 866,176.5 866.3,170.6 866.6,172.9 866.9,175.3 867.2,172.9 867.5,170.5 867.8,166.3 868.1,162.1 868.4,168.5 868.7,174.9 869,172.6 869.3,170.2 869.6,165.1 869.9,160.1 870.2,162.1 870.5,164 870.8,160.4 871.1,156.7 871.4,164.8 871.7,173 872,175.2 872.3,177.4 872.6,171.7 872.9,166 873.2,166.7 873.5,167.4 873.8,170.8 874.1,174.2 874.4,168 874.7,161.7 875,167 875.3,172.2 875.6,167.1 875.9,161.9 876.2,173.7 876.5,185.4 876.8,179.6 877.1,173.8 877.4,168.3 877.7,162.9 878,163.4 878.3,163.9 878.6,169.3 878.9,174.7 879.2,169.9 879.5,165.2 879.8,164.5 880.1,163.8 880.4,159.3 880.7,154.8 881,158 881.3,161.1 881.6,157.8 881.9,154.5 882.2,160.9 882.5,167.2 882.8,164.6 883.1,162.1 883.4,171.9 883.7,181.8 884,175 884.3,168.3 884.6,169.4 884.9,170.5 885.2,170.9 885.5,171.3 885.8,166.4 886.1,161.5 886.4,164.6 886.7,167.7 887,168.3 887.3,168.9 887.6,171.2 887.9,173.4 888.2,170.5 888.5,167.7 888.8,167.8 889.1,167.8 889.4,163 889.7,158.1 890,160.3 890.3,162.5 890.6,163.7 890.9,165 891.2,168.1 891.5,171.1 891.8,164.2 892.1,157.2 892.4,159.7 892.7,162.1 893,168.7 893.3,175.3 893.6,173.7 893.9,172.1 894.2,171.1 894.5,170.1 894.8,166.2 895.1,162.2 895.4,164.7 895.7,167.2 896,169 896.3,170.8 896.6,167 896.9,163.2 897.2,166.5 897.5,169.9 897.8,163.8 898.1,157.6 898.4,165.7 898.7,173.9 899,177.4 899.3,180.9 899.6,173.5 899.9,166.1 900.2,165 900.5,163.9 900.8,157.7 901.1,151.4 901.4,158.3 901.7,165.1 902,168.7 902.3,172.3 902.6,166 902.9,159.8 903.2,157.8 903.5,155.8 903.8,157.4 904.1,159.1 904.4,159.9 904.7,160.8 905,166.7 905.3,172.6 905.6,168.9 905.9,165.2 906.2,169.5 906.5,173.8 906.8,181 907.1,188.2 907.4,185.1 907.7,182 908,179.5 908.3,177.1 908.6,167.9 908.9,158.8 909.2,168.3 909.5,177.7 909.8,165.7 910.1,153.6 910.4,155.8 910.7,158.1 911,162.3 911.3,166.6 911.6,164.6 911.9,162.6 912.2,166.2 912.5,169.8 912.8,169.9 913.1,170 913.4,168.1 913.7,166.3 914,162.1 914.3,158 914.6,163.6 914.9,169.2 915.2,167.7 915.5,166.3 915.8,161.7 916.1,157.2 916.4,162.4 916.7,167.6 917,162 917.3,156.5 917.6,163.1 917.9,169.7 918.2,164.1 918.5,158.6 918.8,158.9 919.1,159.3 919.4,163 919.7,166.7 920,168.4 920.3,170.2 920.6,166.1 920.9,162 921.2,169.9 921.5,177.8 921.8,169.9 922.1,162.1 922.4,158.1 922.7,154.2 923,164.4 923.3,174.7 923.6,162 923.9,156.9 924.2,171.5 924.5,180.9 924.8,182.1 925.1,182.9 925.4,179.2 925.7,179.2 926,173.9 926.3,166.7 926.6,168.9 926.9,172.5 927.2,172.4 927.5,172.3 927.8,169.8 928.1,167.3 928.4,176.7 928.7,186 929,175.9 929.3,165.8 929.6,169.4 929.9,172.9 930.2,167.6 930.5,162.3 930.8,162.9 931.1,163.5 931.4,166.1 931.7,168.6 932,168.2 932.3,167.9 932.6,173 932.9,178.2 933.2,171.5 933.5,164.8 933.8,160.7 934.1,156.5 934.4,160.4 934.7,164.3 935,166.1 935.3,167.8 935.6,167.6 935.9,167.4 936.2,165.5 936.5,163.6 936.8,166.3 937.1,170.6 937.4,176.5 937.7,181 938,184 938.3,180 938.6,174.6 938.9,167.8 939.2,166.8 939.5,169.1 939.8,171.1 940.1,173.2 940.4,165.3 940.7,157.4 941,159.4 941.3,161.3 941.6,160.3 941.9,159.4 942.2,164.2 942.5,169 942.8,170.8 943.1,172.7 943.4,177"/><polyline stroke="#f00" points="542.9,125.2 543.2,125.3 543.5,125.5 543.8,125.5 544.1,125.6 544.4,126.2 544.7,126.3 545,126.4 545.3,126.3 545.6,126 545.9,125.7 546.2,125.9 546.5,126.1 546.8,126.4 547.1,126.8 547.4,126.6 547.7,126.5 548,126.3 548.3,126.1 548.6,126.4 548.9,126.7 549.2,126.9 549.5,127.1 549.8,127.1 550.1,127.1 550.4,127.1 550.7,127.1 551,127.3 551.3,127.4 551.6,127.2 551.9,126.9 552.2,127.2 552.5,127.4 552.8,127.4 553.1,127.3 553.4,127.3 553.7,127.4 554,127.5 554.3,127.6 554.6,127.8 554.9,128 555.2,127.7 555.5,127.5 555.8,127.9 556.1,128.3 556.4,128.2 556.7,128.1 557,128 557.3,128 557.6,128.2 557.9,128.4 558.2,128.6 558.5,128.8 558.8,128.7 559.1,128.7 559.4,128.6 559.7,128.6 560,128.7 560.3,128.7 560.6,129.1 560.9,129.4 561.2,129.1 561.5,128.9 561.8,129.3 562.1,129.7 562.4,129.6 562.7,129.4 563,129.2 563.3,129.1 563.6,129.5 563.9,130 564.2,130 564.5,130 564.8,129.9 565.1,129.9 565.4,129.8 565.7,129.8 566,129.9 566.3,130 566.6,130.3 566.9,130.6 567.2,130.6 567.5,130.7 567.8,130.6 568.1,130.5 568.4,130.8 568.7,131.1 569,131 569.3,130.8 569.6,131.1 569.9,131.3 570.2,131.1 570.5,130.9 570.8,131.4 571.1,131.7 571.4,131.7 571.7,131.8 572,131.6 572.3,131.2 572.6,131.6 572.9,131.9 573.2,131.7 573.5,131.6 573.8,131.8 574.1,131.9 574.4,131.9 574.7,132 575,131.7 575.3,131.5 575.6,131.8 575.9,132.1 576.2,132.1 576.5,132.2 576.8,132.1 577.1,131.9 577.4,132.5 577.7,132.9 578,132.9 578.3,132.8 578.6,132.6 578.9,132.4 579.2,132.4 579.5,132.4 579.8,132.6 580.1,132.7 580.4,132.7 580.7,132.7 581,132.7 581.3,132.7 581.6,133 581.9,133.2 582.2,133.1 582.5,133 582.8,133 583.1,133 583.4,133.5 583.7,133.9 584,134 584.3,134.1 584.6,134 584.9,133.8 585.2,134.1 585.5,134.3 585.8,134.2 586.1,134.1 586.4,134.3 586.7,134.4 587,134.4 587.3,134.5 587.6,134.2 587.9,134 588.2,134.4 588.5,134.8 588.8,134.8 589.1,134.8 589.4,134.7 589.7,134.6 590,134.7 590.3,134.8 590.6,134.9 590.9,135 591.2,135 591.5,135.1 591.8,135.2 592.1,135.2 592.4,135 592.7,135.1 593,135.3 593.3,135.8 593.6,136 593.9,136.2 594.2,136 594.5,135.8 594.8,136 595.1,136.3 595.4,136.4 595.7,136.4 596,136.7 596.3,137 596.6,137.1 596.9,137.3 597.2,137.5 597.5,137.6 597.8,137.7 598.1,137.9 598.4,138 598.7,138.2 599,138.3 599.3,138.4 599.6,138.7 599.9,138.9 600.2,138.8 600.5,138.7 600.8,139.1 601.1,139.6 601.4,139.6 601.7,139.5 602,139.6 602.3,139.6 602.6,139.9 602.9,140.2 603.2,140.2 603.5,140.3 603.8,140.3 604.1,140.3 604.4,140.6 604.7,140.9 605,140.8 605.3,140.6 605.6,140.9 605.9,141.1 606.2,141.2 606.5,141.3 606.8,141.6 607.1,141.8 607.4,141.7 607.7,141.6 608,141.5 608.3,141.4 608.6,141.8 608.9,142.2 609.2,142.3 609.5,142.4 609.8,142.1 610.1,141.7 610.4,141.8 610.7,142 611,142.1 611.3,142.1 611.6,142 611.9,141.9 612.2,141.8 612.5,141.7 612.8,141.7 613.1,141.8 613.4,141.9 613.7,142 614,142 614.3,142.1 614.6,141.9 614.9,141.8 615.2,141.8 615.5,141.8 615.8,142 616.1,142.2 616.4,142.4 616.7,142.5 617,142.4 617.3,142.2 617.6,142 617.9,141.9 618.2,142.3 618.5,142.7 618.8,142.8 619.1,142.8 619.4,142.9 619.7,142.9 620,142.6 620.3,142.4 620.6,142.3 620.9,142.3 621.2,142.3 621.5,142.4 621.8,142.5 622.1,142.6 622.4,142.8 622.7,143 623,142.7 623.3,142.5 623.6,142.5 623.9,142.5 624.2,142.6 624.5,142.7 624.8,142.8 625.1,142.8 625.4,142.8 625.7,142.8 626,143 626.3,143.2 626.6,142.9 626.9,142.7 627.2,142.7 627.5,142.6 627.8,142.9 628.1,143.2 628.4,143.2 628.7,143.2 629,143.1 629.3,142.9 629.6,142.8 629.9,142.6 630.2,142.5 630.5,142.5 630.8,142.8 631.1,143.1 631.4,143.3 631.7,143.4 632,143.2 632.3,143 632.6,142.8 632.9,142.7 633.2,143 633.5,143.3 633.8,142.9 634.1,142.5 634.4,142.6 634.7,142.7 635,142.8 635.3,142.9 635.6,142.9 635.9,142.9 636.2,143 636.5,143 636.8,143 637.1,143 637.4,143.1 637.7,143.1 638,143.1 638.3,143.1 638.6,143 638.9,143 639.2,143.3 639.5,143.7 639.8,143.5 640.1,143.4 640.4,143.2 640.7,143 641,143 641.3,143.1 641.6,143.2 641.9,143.3 642.2,143.4 642.5,143.4 642.8,143.1 643.1,142.9 643.4,143.2 643.7,143.5 644,143.7 644.3,143.8 644.6,143.6 644.9,143.4 645.2,143.4 645.5,143.5 645.8,143.4 646.1,143.4 646.4,143.5 646.7,143.5 647,143.3 647.3,143.1 647.6,143.4 647.9,143.7 648.2,143.9 648.5,144.1 648.8,143.8 649.1,143.5 649.4,143.4 649.7,143.4 650,143.7 650.3,144 650.6,143.8 650.9,143.6 651.2,143.6 651.5,143.5 651.8,143.5 652.1,143.5 652.4,144.2 652.7,144.6 653,144.4 653.3,143.7 653.6,143.8 653.9,143.9 654.2,144.3 654.5,144.7 654.8,144.5 655.1,144.2 655.4,144.3 655.7,144.5 656,144.4 656.3,144.4 656.6,144.3 656.9,144.2 657.2,144.3 657.5,144.4 657.8,144.6 658.1,144.8 658.4,145.2 658.7,145.3 659,145.2 659.3,144.4 659.6,144.7 659.9,145 660.2,145 660.5,145 660.8,145.2 661.1,145.4 661.4,145.2 661.7,145 662,145 662.3,144.9 662.6,145.1 662.9,145.2 663.2,145.4 663.5,145.6 663.8,145.5 664.1,145.4 664.4,145.3 664.7,145.3 665,145.5 665.3,145.6 665.6,145.6 665.9,145.6 666.2,145.6 666.5,145.5 666.8,145.8 667.1,146.2 667.4,146.2 667.7,146.3 668,146.3 668.3,146.3 668.6,146.3 668.9,146.2 669.2,146.1 669.5,146.1 669.8,146.1 670.1,146.1 670.4,146.4 670.7,146.8 671,146.7 671.3,146.6 671.6,146.5 671.9,146.5 672.2,146.4 672.5,146.4 672.8,146.6 673.1,146.7 673.4,147 673.7,147.4 674,147.5 674.3,147.6 674.6,147.5 674.9,147.3 675.2,147.5 675.5,147.8 675.8,147.9 676.1,148.1 676.4,147.9 676.7,147.8 677,147.9 677.3,147.9 677.6,148.3 677.9,148.6 678.2,148.6 678.5,148.5 678.8,148.6 679.1,148.7 679.4,148.9 679.7,149.1 680,148.9 680.3,148.8 680.6,148.8 680.9,148.9 681.2,149.1 681.5,149.4 681.8,149.6 682.1,149.7 682.4,149.9 682.7,150.1 683,150.1 683.3,150.1 683.6,150.3 683.9,150.6 684.2,150.6 684.5,150.7 684.8,150.9 685.1,151.1 685.4,150.9 685.7,150.8 686,151.3 686.3,151.9 686.6,151.7 686.9,151.5 687.2,151.7 687.5,152 687.8,152.2 688.1,152.3 688.4,152.3 688.7,152.2 689,152.4 689.3,152.7 689.6,152.9 689.9,153 690.2,153.4 690.5,153.8 690.8,153.8 691.1,153.8 691.4,154.2 691.7,154.7 692,154.6 692.3,154.5 692.6,154.6 692.9,154.6 693.2,154.8 693.5,155 693.8,155.2 694.1,155.3 694.4,155.8 694.7,156.3 695,156.3 695.3,156.2 695.6,156.7 695.9,157.2 696.2,157.6 696.5,158 696.8,158 697.1,158 697.4,158.3 697.7,158.5 698,159.1 698.3,159.6 698.6,159.6 698.9,159.6 699.2,159.8 699.5,160 699.8,160.4 700.1,160.9 700.4,161.3 700.7,161.8 701,161.9 701.3,161.9 701.6,162.1 701.9,162.2 702.2,162.9 702.5,163.6 702.8,163.9 703.1,164.2 703.4,164.3 703.7,164.5 704,165.1 704.3,165.8 704.6,165.7 704.9,165.7 705.2,166.1 705.5,166.4 705.8,166.8 706.1,167.3 706.4,167.8 706.7,168.4 707,168.7 707.3,169 707.6,169.7 707.9,170.5 708.2,170.6 708.5,170.8 708.8,171.1 709.1,171.3 709.4,171.8 709.7,172.2 710,173 710.3,173.8 710.6,174 710.9,174.2 711.2,174.8 711.5,175.4 711.8,175.9 712.1,176.4 712.4,176.8 712.7,177.3 713,178.3 713.3,179.2 713.6,179.8 713.9,180.4 714.2,180.8 714.5,181.3 714.8,181.8 715.1,182.2 715.4,183 715.7,183.8 716,183.8 716.3,183.9 716.6,183.9 716.9,183.9 717.2,184.8 717.5,185.4 717.8,185.1 718.1,184.4 718.4,184.9 718.7,185.5 719,185.1 719.3,184.7 719.6,184.6 719.9,184.5 720.2,184.8 720.5,185.1 720.8,185.4 721.1,185.6 721.4,185 721.7,184.4 722,184.6 722.3,184.8 722.6,184.7 722.9,184.6 723.2,184.9 723.5,185.3 723.8,184.9 724.1,184.6 724.4,184.2 724.7,184.1 725,186.5 725.3,187.3 725.6,187 725.9,184.8 726.2,185 726.5,185.2 726.8,185.4 727.1,185.7 727.4,185.2 727.7,184.8 728,186 728.3,187.3 728.6,186.4 728.9,185.5 729.2,185.6 729.5,185.6 729.8,185.7 730.1,185.8 730.4,186.2 730.7,186.5 731,186.5 731.3,186.4 731.6,185.7 731.9,184.9 732.2,184.8 732.5,184.7 732.8,185.4 733.1,186 733.4,186 733.7,186 734,186.6 734.3,187.3 734.6,187.3 734.9,187.4 735.2,185.8 735.5,184.3 735.8,184.8 736.1,185.4 736.4,185.1 736.7,184.9 737,186.2 737.3,187.5 737.6,187.3 737.9,187.1 738.2,186.6 738.5,186 738.8,185.8 739.1,185.6 739.4,185.2 739.7,184.8 740,185.3 740.3,185.8 740.6,186.7 740.9,187.7 741.2,186.6 741.5,185.6 741.8,186.2 742.1,186.9 742.4,187.1 742.7,187.4 743,186.6 743.3,185.8 743.6,185 743.9,184.2 744.2,184.7 744.5,185.1 744.8,184.7 745.1,184.3 745.4,185.2 745.7,186 746,186.2 746.3,186.5 746.6,186.7 746.9,187.1 747.2,187.1 747.5,187.2 747.8,187.7 748.1,188.2 748.4,187.8 748.7,187.4 749,189.1 749.3,190.8 749.6,190.7 749.9,190.7 750.2,192.1 750.5,192.6 750.8,193.1 751.1,192.5 751.4,192.8 751.7,193.2 752,193.5 752.3,193.8 752.6,193.2 752.9,192.5 753.2,193.2 753.5,193.8 753.8,193.2 754.1,193.3 754.4,194.3 754.7,195.9 755,196.2 755.3,196.4 755.6,197.1 755.9,197.7 756.2,196.6 756.5,195.5 756.8,196.9 757.1,198.3 757.4,196.3 757.7,194.3 758,194.5 758.3,194.6 758.6,194.2 758.9,193.7 759.2,193.6 759.5,193.6 759.8,194.3 760.1,194.9 760.4,194.5 760.7,194.1 761,192 761.3,189.8 761.6,189.5 761.9,189.3 762.2,190.1 762.5,191 762.8,188.9 763.1,186.9 763.4,188 763.7,189.2 764,187.8 764.3,186.4 764.6,187.3 764.9,188.2 765.2,186.9 765.5,185.7 765.8,187.5 766.1,189.5 766.4,187.8 766.7,185.9 767,188.5 767.3,191.5 767.6,190.5 767.9,189.2 768.2,188.2 768.5,186.9 768.8,189.3 769.1,192.1 769.4,192.7 769.7,193.4 770,192.8 770.3,192.1 770.6,196.5 770.9,201.2 771.2,198.1 771.5,194.6 771.8,200.1 772.1,205.9 772.4,205.5 772.7,205.2 773,204.7 773.3,204.2 773.6,199 773.9,193.7 774.2,198 774.5,202.3 774.8,202.5 775.1,202.7 775.4,204.6 775.7,206.4 776,206.1 776.3,205.6 776.6,206.2 776.9,206.8 777.2,203.8 777.5,200.9 777.8,200.6 778.1,200.2 778.4,201 778.7,201.7 779,202.7 779.3,203.7 779.6,201.9 779.9,200.2 780.2,200.8 780.5,201.4 780.8,200.4 781.1,199.3 781.4,202.2 781.7,205.1 782,207.8 782.3,210.5 782.6,206.7 782.9,202.9 783.2,198.3 783.5,193.7 783.8,198 784.1,202.2 784.4,200.5 784.7,198.8 785,196.8 785.3,194.9 785.6,200.7 785.9,206.4 786.2,203.7 786.5,201 786.8,198.7 787.1,196.4 787.4,199.3 787.7,202.1 788,200.9 788.3,199.6 788.6,194.9 788.9,190.1 789.2,196 789.5,202 789.8,196.6 790.1,191.3 790.4,193.4 790.7,195.5 791,191.1 791.3,186.6 791.6,187.5 791.9,188.4 792.2,189 792.5,189.7 792.8,197.3 793.1,205 793.4,195.8 793.7,186.4 794,187.2 794.3,188.1 794.6,189.2 794.9,190.4 795.2,181.7 795.5,173 795.8,182.5 796.1,192.3 796.4,189.9 796.7,187.6 797,187.7 797.3,187.8 797.6,191.5 797.9,195.3 798.2,195.5 798.5,195.7 798.8,189.6 799.1,183.5 799.4,186.5 799.7,189.5 800,181.3 800.3,173 800.6,176.5 800.9,180 801.2,184.1 801.5,188.1 801.8,183.3 802.1,178.6 802.4,185.3 802.7,192.1 803,187 803.3,181.8 803.6,186.7 803.9,191.5 804.2,189.6 804.5,187.7 804.8,187.5 805.1,187.3 805.4,182.6 805.7,177.9 806,179.2 806.3,180.5 806.6,179.2 806.9,177.8 807.2,177.7 807.5,177.6 807.8,184.1 808.1,190.6 808.4,189.8 808.7,188.9 809,186.5 809.3,184.1 809.6,180.6 809.9,177.2 810.2,181.2 810.5,185.2 810.8,179.6 811.1,174 811.4,176.6 811.7,179.2 812,176.6 812.3,174 812.6,169.2 812.9,164.3 813.2,169.5 813.5,174.8 813.8,170 814.1,165.3 814.4,169.9 814.7,174.5 815,178.4 815.3,182.3 815.6,175.4 815.9,168.5 816.2,170.9 816.5,173.3 816.8,170 817.1,166.7 817.4,167.9 817.7,169.2 818,184.7 818.3,200.3 818.6,187.3 818.9,174.2 819.2,181.8 819.5,189.4 819.8,186.2 820.1,183.1 820.4,180.4 820.7,177.6 821,177.4 821.3,177.1 821.6,175.1 821.9,173.1 822.2,179.6 822.5,186.2 822.8,184 823.1,181.7 823.4,178.8 823.7,175.9 824,173.5 824.3,171.1 824.6,174.3 824.9,177.5 825.2,175.2 825.5,173 825.8,176.9 826.1,180.8 826.4,175.3 826.7,169.8 827,168.9 827.3,168 827.6,173.7 827.9,179.4 828.2,176.7 828.5,174.1 828.8,177.3 829.1,180.6 829.4,173.6 829.7,166.5 830,172.4 830.3,178.3 830.6,174 830.9,169.8 831.2,168.4 831.5,166.9 831.8,171.5 832.1,176.1 832.4,173 832.7,170 833,175.3 833.3,180.6 833.6,173.9 833.9,167.2 834.2,164.4 834.5,161.6 834.8,169.8 835.1,177.9 835.4,172.8 835.7,167.6 836,169.4 836.3,171.2 836.6,172.3 836.9,173.3 837.2,174.2 837.5,175 837.8,173 838.1,170.9 838.4,175.3 838.7,179.6 839,177.8 839.3,176.1 839.6,169.9 839.9,163.7 840.2,163.9 840.5,164.1 840.8,168.2 841.1,172.3 841.4,170.4 841.7,168.4 842,173.2 842.3,171.7 842.6,163 842.9,155.8 843.2,151.2 843.5,146.2 843.8,148.1 844.1,153.9 844.4,160.1 844.7,166.5 845,171.6 845.3,174.5 845.6,176.3 845.9,178.1 846.2,178.3 846.5,178.6 846.8,174.8 847.1,170.9 847.4,174.1 847.7,177.3 848,177.9 848.3,178.5 848.6,173.3 848.9,168.1 849.2,167.2 849.5,166.3 849.8,168.1 850.1,169.9 850.4,161.7 850.7,153.6 851,166.1 851.3,178.6 851.6,173.9 851.9,169.1 852.2,168.6 852.5,168 852.8,177.1 853.1,186.2 853.4,176.4 853.7,166.5 854,171.6 854.3,176.6 854.6,171.7 854.9,166.8 855.2,167.8 855.5,168.8 855.8,174.7 856.1,180.5 856.4,173.2 856.7,165.8 857,165.1 857.3,164.5 857.6,176.5 857.9,188.4 858.2,173.1 858.5,157.8 858.8,161.8 859.1,165.8 859.4,170.8 859.7,175.8 860,172.2 860.3,168.6 860.6,169.3 860.9,170.1 861.2,175.7 861.5,181.2 861.8,170.1 862.1,158.9 862.4,164.7 862.7,170.4 863,168.9 863.3,167.3 863.6,168.4 863.9,169.5 864.2,166.6 864.5,163.8 864.8,165.8 865.1,167.9 865.4,160.5 865.7,153.2 866,159.8 866.3,166.4 866.6,166.2 866.9,166 867.2,168.4 867.5,170.9 867.8,164 868.1,157.1 868.4,161.3 868.7,165.4 869,172.4 869.3,179.5 869.6,165.5 869.9,151.5 870.2,161.9 870.5,172.3 870.8,167.8 871.1,163.3 871.4,162.3 871.7,161.3 872,171.6 872.3,182 872.6,178.1 872.9,174.3 873.2,164.2 873.5,154.1 873.8,157.3 874.1,160.6 874.4,158.7 874.7,156.9 875,160.2 875.3,163.6 875.6,161.7 875.9,159.8 876.2,164.1 876.5,168.5 876.8,166.9 877.1,165.3 877.4,158.3 877.7,151.4 878,158.4 878.3,165.5 878.6,166.1 878.9,166.7 879.2,162.9 879.5,159.1 879.8,162.7 880.1,166.4 880.4,169.7 880.7,173.1 881,170.4 881.3,167.8 881.6,165.1 881.9,162.4 882.2,162.4 882.5,162.4 882.8,169.9 883.1,177.4 883.4,185.3 883.7,193.1 884,185.7 884.3,178.2 884.6,174.8 884.9,171.4 885.2,170.4 885.5,169.4 885.8,169.2 886.1,169 886.4,163.4 886.7,157.9 887,159.7 887.3,161.4 887.6,163.5 887.9,165.6 888.2,165.6 888.5,165.5 888.8,163 889.1,160.5 889.4,158.7 889.7,155.4 890,156.5 890.3,154.2 890.6,144.9 890.9,137.7 891.2,139.6 891.5,145.1 891.8,151 892.1,156.9 892.4,164.4 892.7,166.1 893,161.5 893.3,156.9 893.6,159 893.9,161.1 894.2,163.5 894.5,166 894.8,166.2 895.1,166.5 895.4,169.4 895.7,172.4 896,162 896.3,151.7 896.6,152.6 896.9,153.5 897.2,158 897.5,162.6 897.8,160.7 898.1,158.7 898.4,156.8 898.7,155 899,157 899.3,159 899.6,159 899.9,158.9 900.2,159.9 900.5,160.9 900.8,161 901.1,161.1 901.4,152.4 901.7,143.6 902,154.8 902.3,166 902.6,161.5 902.9,157 903.2,158.8 903.5,160.5 903.8,164 904.1,167.4 904.4,166 904.7,164.6 905,162.2 905.3,159.8 905.6,159.5 905.9,159.3 906.2,158.8 906.5,158.3 906.8,161.6 907.1,164.9 907.4,166.5 907.7,168.1 908,163.2 908.3,158.4 908.6,158.8 908.9,159.3 909.2,156.9 909.5,154.6 909.8,163.8 910.1,173.1 910.4,168.7 910.7,164.2 911,164.9 911.3,165.5 911.6,158.1 911.9,150.7 912.2,155.5 912.5,160.4 912.8,159.8 913.1,159.1 913.4,166.8 913.7,174.5 914,168 914.3,161.5 914.6,164.7 914.9,167.9 915.2,162.7 915.5,157.6 915.8,157 916.1,156.5 916.4,163.4 916.7,170.4 917,164.6 917.3,158.7 917.6,160.1 917.9,161.4 918.2,166.1 918.5,170.8 918.8,169.4 919.1,168 919.4,162 919.7,156 920,158.2 920.3,160.4 920.6,159.8 920.9,159.3 921.2,164.2 921.5,169.1 921.8,164.2 922.1,159.3 922.4,167.4 922.7,175.5 923,170.6 923.3,165.7 923.6,161.7 923.9,157.6 924.2,155.3 924.5,153 924.8,159.7 925.1,166.4 925.4,163.2 925.7,160 926,164.1 926.3,168.2 926.6,170.7 926.9,173.2 927.2,165.8 927.5,158.5 927.8,171.4 928.1,184.2 928.4,170.6 928.7,157 929,156.8 929.3,156.5 929.6,164.4 929.9,172.2 930.2,164.2 930.5,156.2 930.8,157.4 931.1,158.6 931.4,160.4 931.7,162.3 932,167.2 932.3,172.1 932.6,165.7 932.9,159.3 933.2,162.7 933.5,166 933.8,165.7 934.1,165.4 934.4,161.2 934.7,157 935,159.4 935.3,161.8 935.6,165.2 935.9,168.5 936.2,165.2 936.5,161.8 936.8,157.4 937.1,153.1 937.4,168.9 937.7,184.6 938,168.8 938.3,153 938.6,158.7 938.9,164.4 939.2,166.5 939.5,168.5 939.8,164.1 940.1,159.7 940.4,163.5 940.7,167.2 941,168.6 941.3,169.9 941.6,168.6 941.9,167.3 942.2,161.7 942.5,156.1 942.8,160.6 943.1,165.1 943.4,167"/><polyline stroke="#00f" points="542.9,159 543.2,159.1 543.5,159.3 543.8,159.3 544.1,159.4 544.4,158.9 544.7,158.7 545,158.8 545.3,159.1 545.6,158.9 545.9,158.8 546.2,159.3 546.5,159.8 546.8,159.5 547.1,159.3 547.4,159.4 547.7,159.5 548,159.7 548.3,159.8 548.6,159.8 548.9,159.8 549.2,159.7 549.5,159.6 549.8,159.8 550.1,160 550.4,160 550.7,160.1 551,159.9 551.3,159.6 551.6,159.8 551.9,159.9 552.2,159.8 552.5,159.7 552.8,159.8 553.1,159.9 553.4,160 553.7,160.1 554,160.3 554.3,160.6 554.6,160.4 554.9,160.2 555.2,160.4 555.5,160.6 555.8,160.6 556.1,160.6 556.4,160.6 556.7,160.7 557,160.7 557.3,160.7 557.6,160.8 557.9,160.9 558.2,160.9 558.5,160.9 558.8,161 559.1,161 559.4,161.1 559.7,161.2 560,161.4 560.3,161.5 560.6,161.2 560.9,160.8 561.2,160.7 561.5,160.6 561.8,160.8 562.1,161 562.4,161.5 562.7,161.7 563,161.7 563.3,161.6 563.6,161.1 563.9,160.6 564.2,160.7 564.5,160.9 564.8,161.1 565.1,161.3 565.4,161.3 565.7,161.2 566,160.9 566.3,160.6 566.6,161.1 566.9,161.7 567.2,161.2 567.5,160.6 567.8,161.1 568.1,161.5 568.4,161.5 568.7,161.6 569,161.8 569.3,162 569.6,161.9 569.9,161.7 570.2,161.6 570.5,161.5 570.8,161.7 571.1,161.8 571.4,162 571.7,162.2 572,162 572.3,161.9 572.6,162.3 572.9,162.7 573.2,162.8 573.5,162.9 573.8,162.7 574.1,162.6 574.4,162.9 574.7,163.4 575,163.5 575.3,163.7 575.6,164 575.9,164.3 576.2,164.6 576.5,164.8 576.8,165.2 577.1,165.6 577.4,165.7 577.7,165.8 578,166.1 578.3,166.4 578.6,166.7 578.9,166.9 579.2,167.2 579.5,167.6 579.8,167.9 580.1,168.2 580.4,168.5 580.7,168.8 581,169.2 581.3,169.5 581.6,169.8 581.9,170.1 582.2,170.8 582.5,171 582.8,171.2 583.1,170.9 583.4,170.8 583.7,170.7 584,170.7 584.3,170.6 584.6,170.7 584.9,170.8 585.2,170.8 585.5,171.1 585.8,171.4 586.1,171.6 586.4,171.1 586.7,170.7 587,170.6 587.3,170.5 587.6,170.5 587.9,170.7 588.2,171.2 588.5,171.2 588.8,170.9 589.1,170.1 589.4,170 589.7,169.9 590,169.6 590.3,169.4 590.6,169.2 590.9,169.1 591.2,169 591.5,168.9 591.8,169 592.1,169.1 592.4,169 592.7,169.1 593,169.2 593.3,169.4 593.6,169.1 593.9,168.8 594.2,169.4 594.5,170 594.8,170.2 595.1,170.5 595.4,170.5 595.7,170.6 596,170.7 596.3,170.8 596.6,171.4 596.9,172 597.2,172.2 597.5,172.5 597.8,172.9 598.1,173.2 598.4,173.7 598.7,174.1 599,174.6 599.3,175.1 599.6,175.2 599.9,175.3 600.2,175.9 600.5,176.5 600.8,176.5 601.1,176.5 601.4,176.7 601.7,176.8 602,177 602.3,177.1 602.6,176.9 602.9,176.5 603.2,176.4 603.5,176.2 603.8,176.6 604.1,177 604.4,176.3 604.7,175.6 605,175.6 605.3,175.7 605.6,175.2 605.9,174.8 606.2,174.4 606.5,174.1 606.8,174 607.1,174 607.4,174 607.7,174.1 608,174.1 608.3,174.1 608.6,174.1 608.9,174.1 609.2,174.7 609.5,175.3 609.8,176 610.1,176.7 610.4,177.5 610.7,178.3 611,178.5 611.3,178.8 611.6,179.8 611.9,180.8 612.2,181.3 612.5,181.7 612.8,182 613.1,182.3 613.4,182.3 613.7,182.3 614,182.6 614.3,182.8 614.6,183 614.9,183.2 615.2,182.9 615.5,182.6 615.8,182.1 616.1,181.5 616.4,180.9 616.7,180.3 617,180.3 617.3,180.2 617.6,179.6 617.9,179 618.2,178.9 618.5,178.9 618.8,178.7 619.1,178.5 619.4,178.8 619.7,179.1 620,179.9 620.3,180.8 620.6,181.1 620.9,181.5 621.2,182.3 621.5,183.2 621.8,183.8 622.1,184.3 622.4,184.9 622.7,185.4 623,185.7 623.3,185.9 623.6,186.5 623.9,186.9 624.2,186.6 624.5,186.2 624.8,185.7 625.1,185.1 625.4,184.3 625.7,183.5 626,183.2 626.3,182.9 626.6,182.3 626.9,181.7 627.2,181.5 627.5,181.5 627.8,181.3 628.1,181.3 628.4,181.8 628.7,182.5 629,183.8 629.3,184.8 629.6,185.5 629.9,185.6 630.2,187 630.5,188.1 630.8,188.8 631.1,189.1 631.4,188.9 631.7,188.4 632,188.5 632.3,188.5 632.6,187.8 632.9,187 633.2,186.3 633.5,185.6 633.8,185 634.1,184.5 634.4,184 634.7,183.6 635,183 635.3,183 635.6,183.6 635.9,184.7 636.2,185.7 636.5,186.8 636.8,187.6 637.1,188.3 637.4,189.5 637.7,190.5 638,190.5 638.3,190.3 638.6,190.5 638.9,190.3 639.2,189.7 639.5,188.9 639.8,188.2 640.1,187.4 640.4,186.3 640.7,185.4 641,185.2 641.3,185.3 641.6,185.7 641.9,186.5 642.2,187 642.5,187.6 642.8,188.9 643.1,190.2 643.4,191 643.7,191.5 644,191.8 644.3,191.7 644.6,191.7 644.9,191.5 645.2,190.8 645.5,190 645.8,188.3 646.1,186.8 646.4,186.7 646.7,187 647,187.4 647.3,188.1 647.6,189.2 647.9,190.5 648.2,191.8 648.5,193 648.8,193.1 649.1,192.9 649.4,193.4 649.7,193.5 650,192.4 650.3,191.1 650.6,190.6 650.9,190.1 651.2,189.1 651.5,188.5 651.8,188.7 652.1,189.3 652.4,190.5 652.7,192 653,193 653.3,193.8 653.6,194.6 653.9,194.9 654.2,194.8 654.5,194.3 654.8,192.6 655.1,190.8 655.4,190 655.7,189.7 656,189 656.3,189.5 656.6,190.6 656.9,192.5 657.2,194.2 657.5,195.7 657.8,196.1 658.1,195.8 658.4,196.2 658.7,195.3 659,194 659.3,192.7 659.6,191.3 659.9,190.4 660.2,191.9 660.5,193.4 660.8,194.9 661.1,196.3 661.4,196.6 661.7,196.4 662,196.4 662.3,195.6 662.6,193.8 662.9,192.3 663.2,191.7 663.5,192 663.8,192.3 664.1,193.3 664.4,195.4 664.7,197.4 665,197.8 665.3,197.4 665.6,197.1 665.9,196.2 666.2,194.7 666.5,193.5 666.8,192.5 667.1,192.4 667.4,193.9 667.7,195.8 668,197.2 668.3,198 668.6,198.4 668.9,197.8 669.2,196.3 669.5,194.8 669.8,193.8 670.1,193.7 670.4,194.4 670.7,195.7 671,198 671.3,199.6 671.6,199.2 671.9,197.8 672.2,196.1 672.5,194.6 672.8,194.8 673.1,195.8 673.4,196.8 673.7,197.9 674,199.8 674.3,200.7 674.6,199.7 674.9,197.8 675.2,196.3 675.5,195.7 675.8,196.1 676.1,197.7 676.4,199.4 676.7,200.5 677,201.1 677.3,200.3 677.6,197.8 677.9,195.8 678.2,195.9 678.5,197.5 678.8,199.5 679.1,201.2 679.4,201.7 679.7,200.7 680,198.3 680.3,196.1 680.6,196.9 680.9,198.7 681.2,200.9 681.5,202.5 681.8,202.9 682.1,201.7 682.4,199.4 682.7,197.7 683,197.4 683.3,198.8 683.6,200.9 683.9,201.9 684.2,201.5 684.5,199.8 684.8,197.9 685.1,197.5 685.4,199.1 685.7,201.5 686,203.1 686.3,202.8 686.6,200.6 686.9,198.6 687.2,198.3 687.5,200 687.8,202.8 688.1,204.3 688.4,202.9 688.7,200.3 689,198.6 689.3,199.2 689.6,202 689.9,204.3 690.2,204.7 690.5,202.9 690.8,200.4 691.1,199.7 691.4,202 691.7,204.5 692,204.4 692.3,202.1 692.6,200.5 692.9,201 693.2,203.1 693.5,205.2 693.8,205.7 694.1,203.9 694.4,200.7 694.7,200.1 695,203 695.3,205 695.6,204.7 695.9,202.7 696.2,200.8 696.5,201.7 696.8,204.4 697.1,204.8 697.4,202.9 697.7,201 698,201.3 698.3,203.6 698.6,205 698.9,203.2 699.2,200.7 699.5,201.4 699.8,204.4 700.1,206.2 700.4,204.8 700.7,202.4 701,202.8 701.3,205.8 701.6,207.3 701.9,205.3 702.2,202.1 702.5,202.2 702.8,206.1 703.1,207.6 703.4,205.4 703.7,204.1 704,205.3 704.3,207.2 704.6,206.9 704.9,204.7 705.2,204.9 705.5,208.1 705.8,209.4 706.1,207.1 706.4,204.4 706.7,205.8 707,208.5 707.3,207.1 707.6,204.9 707.9,206.8 708.2,208.6 708.5,206.5 708.8,204.2 709.1,205.7 709.4,209.8 709.7,210.2 710,206.4 710.3,206.5 710.6,210.5 710.9,210.4 711.2,207.1 711.5,207.7 711.8,210.7 712.1,209.3 712.4,206.7 712.7,208.8 713,210.8 713.3,208.1 713.6,206 713.9,208.4 714.2,209.1 714.5,206.1 714.8,206.9 715.1,210.2 715.4,209.2 715.7,207.7 716,210.9 716.3,212.5 716.6,207.9 716.9,207 717.2,210.5 717.5,208.9 717.8,207.7 718.1,211.2 718.4,210.9 718.7,208 719,210.2 719.3,211 719.6,208.4 719.9,210.3 720.2,213.3 720.5,211 720.8,211.5 721.1,214.4 721.4,210.4 721.7,209.2 722,212.8 722.3,210.8 722.6,211.3 722.9,215 723.2,211.2 723.5,210 723.8,212.3 724.1,208.7 724.4,211.2 724.7,215.3 725,211.9 725.3,213.5 725.6,213.5 725.9,209.3 726.2,213.4 726.5,213.9 726.8,212 727.1,215.2 727.4,212.8 727.7,213.2 728,215 728.3,211.6 728.6,214.2 728.9,213.2 729.2,211.4 729.5,213.9 729.8,211 730.1,213.2 730.4,212.9 730.7,211.1 731,213.5 731.3,210 731.6,213.5 731.9,214 732.2,212.7 732.5,214.3 732.8,212.6 733.1,216.9 733.4,214.1 733.7,215.2 734,214.4 734.3,212.9 734.6,215 734.9,212.5 735.2,216.4 735.5,214.5 735.8,216.1 736.1,213.1 736.4,215.2 736.7,215 737,214.8 737.3,214.7 737.6,214 737.9,215.5 738.2,214.9 738.5,217.8 738.8,214.7 739.1,215.7 739.4,214.4 739.7,217.5 740,214.9 740.3,216.8 740.6,215.4 740.9,218.4 741.2,217.6 741.5,219.6 741.8,216.3 742.1,214.8 742.4,213.8 742.7,214.2 743,215.9 743.3,217.1 743.6,216.7 743.9,213.7 744.2,216.6 744.5,215.4 744.8,217.7 745.1,216 745.4,216.4 745.7,214.9 746,215.1 746.3,217 746.6,214.6 746.9,216 747.2,215.1 747.5,216.5 747.8,217.2 748.1,216 748.4,219.2 748.7,219.1 749,219.2 749.3,219.7 749.6,217.2 749.9,218 750.2,219.1 750.5,219.9 750.8,219.3 751.1,215.7 751.4,216.2 751.7,218.4 752,216.2 752.3,215.9 752.6,217.4 752.9,216.1 753.2,217.7 753.5,220.6 753.8,220 754.1,220.4 754.4,222.1 754.7,221.4 755,219.5 755.3,220.1 755.6,220.2 755.9,218.3 756.2,218.5 756.5,220 756.8,219.4 757.1,218.1 757.4,221.9 757.7,226.3 758,223.7 758.3,220.7 758.6,221.3 758.9,222.6 759.2,221.1 759.5,218.5 759.8,220.2 760.1,223.4 760.4,222.1 760.7,219.3 761,217.4 761.3,216.4 761.6,218.6 761.9,221.1 762.2,221.1 762.5,220.2 762.8,220.4 763.1,221.2 763.4,224.7 763.7,228.6 764,225.4 764.3,221.3 764.6,217.7 764.9,213.9 765.2,215.1 765.5,216.7 765.8,216.9 766.1,217.4 766.4,219.4 766.7,221.2 767,219.4 767.3,217.4 767.6,218.1 767.9,218.6 768.2,222.8 768.5,227 768.8,227.8 769.1,228.6 769.4,223.4 769.7,218.1 770,220.5 770.3,223 770.6,219.2 770.9,215.4 771.2,216.6 771.5,217.9 771.8,222.9 772.1,227.9 772.4,222.1 772.7,216 773,218 773.3,219.7 773.6,220.9 773.9,221.9 774.2,221.3 774.5,220.9 774.8,223.1 775.1,225.8 775.4,221.4 775.7,216.8 776,218 776.3,218.5 776.6,222.1 776.9,226.3 777.2,222.5 777.5,218.9 777.8,220.5 778.1,220.9 778.4,225.1 778.7,230.9 779,229.2 779.3,225.9 779.6,228.1 779.9,232 780.2,228.9 780.5,223.8 780.8,218.7 781.1,215.7 781.4,222 781.7,226.2 782,217.3 782.3,209.6 782.6,220.5 782.9,232.7 783.2,235.7 783.5,235.6 783.8,223 784.1,211 784.4,218.6 784.7,229.6 785,223.3 785.3,217.1 785.6,219.8 785.9,219.2 786.2,215.7 786.5,208.5 786.8,216.7 787.1,222 787.4,230.8 787.7,237.3 788,224.3 788.3,209.1 788.6,219.6 788.9,227.3 789.2,226.7 789.5,222.4 789.8,215.8 790.1,205.9 790.4,218.9 790.7,232 791,229 791.3,229.3 791.6,225.3 791.9,222 792.2,230.7 792.5,236.4 792.8,223.2 793.1,212 793.4,226.8 793.7,241.3 794,233.7 794.3,225.4 794.6,220.2 794.9,215.7 795.2,222.9 795.5,229.9 795.8,226.9 796.1,223.4 796.4,222.1 796.7,221.8 797,222.4 797.3,222.6 797.6,223.3 797.9,223.5 798.2,224.2 798.5,225.2 798.8,230.3 799.1,235.7 799.4,237.1 799.7,238.4 800,232.2 800.3,225.9 800.6,232.3 800.9,238.5 801.2,226.9 801.5,215.4 801.8,222.3 802.1,229.5 802.4,227.5 802.7,225.7 803,229.1 803.3,231.9 803.6,223.6 803.9,215.3 804.2,226 804.5,237.7 804.8,230.3 805.1,226.6 805.4,238.2 805.7,245.6 806,247.7 806.3,242.6 806.6,239 806.9,238.1 807.2,227.7 807.5,214.1 807.8,222.8 808.1,227.9 808.4,215.3 808.7,201.8 809,204.5 809.3,209.3 809.6,212.8 809.9,219.6 810.2,212.4 810.5,208.9 810.8,209.3 811.1,212 811.4,208.9 811.7,205.2 812,212.4 812.3,216.2 812.6,212.3 812.9,208.6 813.2,207.2 813.5,207.8 813.8,216.1 814.1,222.1 814.4,220.2 814.7,220.1 815,214 815.3,207.1 815.6,208.9 815.9,210.8 816.2,212.5 816.5,214.7 816.8,210.3 817.1,206 817.4,207.1 817.7,208.2 818,207.7 818.3,207.1 818.6,206.5 818.9,205.8 819.2,201.5 819.5,197.4 819.8,198.4 820.1,199.9 820.4,205.5 820.7,210.1 821,211.9 821.3,214.4 821.6,213.5 821.9,211.6 822.2,208.8 822.5,208.3 822.8,210.1 823.1,209.2 823.4,207.7 823.7,204.2 824,210.7 824.3,218.3 824.6,214.3 824.9,212.4 825.2,208.7 825.5,205.9 825.8,203.1 826.1,197.9 826.4,196 826.7,191.6 827,205.9 827.3,222.7 827.6,212 827.9,199.5 828.2,201.2 828.5,204.1 828.8,204.7 829.1,204.7 829.4,209.9 829.7,214.9 830,204.6 830.3,194.5 830.6,200.5 830.9,206.7 831.2,208.2 831.5,209.6 831.8,211 832.1,211.7 832.4,204.6 832.7,198.4 833,199.7 833.3,200.4 833.6,195.1 833.9,191.7 834.2,202.7 834.5,210.4 834.8,209 835.1,205.7 835.4,216.4 835.7,227.1 836,216.1 836.3,204.3 836.6,205 836.9,202.5 837.2,207.8 837.5,213.1 837.8,212.7 838.1,213.5 838.4,213.5 838.7,213.1 839,208.3 839.3,203 839.6,201 839.9,199.2 840.2,201.8 840.5,204.5 840.8,203.3 841.1,202.3 841.4,202.5 841.7,201.9 842,206.3 842.3,211.8 842.6,208.3 842.9,202.8 843.2,200.4 843.5,201.1 843.8,195.7 844.1,193.2 844.4,197.8 844.7,204.7 845,207.8 845.3,214.4 845.6,206.7 845.9,199.3 846.2,193.6 846.5,186.8 846.8,199.1 847.1,211.5 847.4,202.1 847.7,193 848,195.6 848.3,198 848.6,198.2 848.9,198.7 849.2,194.6 849.5,190.8 849.8,192.1 850.1,191.9 850.4,195 850.7,198.4 851,191.7 851.3,188.9 851.6,191.5 851.9,197.8 852.2,195.2 852.5,196.1 852.8,195.8 853.1,194.1 853.4,194.5 853.7,195.6 854,197.4 854.3,198.6 854.6,203.4 854.9,208.3 855.2,206.8 855.5,205.1 855.8,200.6 856.1,195.5 856.4,198.4 856.7,203 857,195.2 857.3,188 857.6,196.4 857.9,202.1 858.2,198.7 858.5,193.8 858.8,196.2 859.1,201.3 859.4,199.3 859.7,196.1 860,196.4 860.3,197.2 860.6,194.6 860.9,192 861.2,196.3 861.5,201.2 861.8,203.2 862.1,203.3 862.4,202.4 862.7,203.7 863,207.1 863.3,214.2 863.6,203.5 863.9,196.5 864.2,191.8 864.5,186.8 864.8,193 865.1,199.4 865.4,194.7 865.7,189.7 866,192.8 866.3,195.5 866.6,193.7 866.9,192.6 867.2,195.3 867.5,195.9 867.8,193.1 868.1,192.4 868.4,193.4 868.7,195.7 869,194.1 869.3,190.1 869.6,190.3 869.9,191.3 870.2,191.7 870.5,191.8 870.8,194.8 871.1,198.5 871.4,198.5 871.7,196.5 872,200.7 872.3,207.7 872.6,202.8 872.9,201.3 873.2,195 873.5,187.4 873.8,186.5 874.1,186 874.4,193.8 874.7,201.1 875,201.2 875.3,201.9 875.6,202.9 875.9,202.1 876.2,201.7 876.5,203.5 876.8,194.1 877.1,184.6 877.4,192.6 877.7,199.7 878,198.5 878.3,197.5 878.6,201.9 878.9,205.7 879.2,193.3 879.5,182.6 879.8,188.6 880.1,192 880.4,194.6 880.7,196.5 881,196.3 881.3,197.3 881.6,194.7 881.9,191.9 882.2,193.1 882.5,195.4 882.8,192.8 883.1,187.8 883.4,192.2 883.7,192.7 884,195 884.3,196.9 884.6,193.5 884.9,190.2 885.2,188.4 885.5,186.7 885.8,188.5 886.1,190.6 886.4,195.4 886.7,200.6 887,206.7 887.3,212.5 887.6,217.3 887.9,219 888.2,216.4 888.5,217.9 888.8,206.5 889.1,190.1 889.4,187.3 889.7,187.5 890,195.3 890.3,204.9 890.6,200.4 890.9,195.2 891.2,186.5 891.5,178.3 891.8,178.9 892.1,176.1 892.4,184.1 892.7,188.9 893,192.5 893.3,196.7 893.6,192.6 893.9,188.9 894.2,189.6 894.5,187.4 894.8,190.5 895.1,190.7 895.4,191.9 895.7,193.2 896,193.3 896.3,192.7 896.6,189.4 896.9,188 897.2,183.9 897.5,183.3 897.8,185 898.1,185.8 898.4,190.3 898.7,194.7 899,191.1 899.3,190.4 899.6,185.7 899.9,183.8 900.2,193.6 900.5,203.1 900.8,197.1 901.1,189.7 901.4,192.7 901.7,196 902,188.6 902.3,179.5 902.6,182.5 902.9,186.5 903.2,181.9 903.5,175.3 903.8,183.5 904.1,188.9 904.4,189.2 904.7,190.4 905,186.2 905.3,181.7 905.6,182.7 905.9,186.7 906.2,188.9 906.5,190.3 906.8,191.2 907.1,190.8 907.4,195.5 907.7,201 908,195.7 908.3,189.2 908.6,188.5 908.9,187 909.2,182.6 909.5,180.4 909.8,184.3 910.1,187.3 910.4,186.9 910.7,185.5 911,185.7 911.3,187.5 911.6,194.2 911.9,199.9 912.2,189.7 912.5,178.4 912.8,180.8 913.1,179.9 913.4,182.1 913.7,185.1 914,189.8 914.3,194.8 914.6,202.9 914.9,209.1 915.2,207.3 915.5,202.5 915.8,193.2 916.1,184.3 916.4,188.4 916.7,195.4 917,196.2 917.3,194.6 917.6,192.2 917.9,187.5 918.2,185.1 918.5,182.9 918.8,183.3 919.1,187.1 919.4,188.6 919.7,189.6 920,186.5 920.3,186.3 920.6,184.6 920.9,184.3 921.2,185.1 921.5,186.6 921.8,186.4 922.1,187 922.4,194.1 922.7,202.7 923,192.2 923.3,184.4 923.6,188.3 923.9,190.8 924.2,186.1 924.5,179.6 924.8,184.3 925.1,188.8 925.4,191.2 925.7,190.4 926,190.7 926.3,192.3 926.6,196.1 926.9,199.3 927.2,193.3 927.5,188.9 927.8,184.6 928.1,183.2 928.4,184.1 928.7,184.4 929,185.4 929.3,187 929.6,182.4 929.9,178.5 930.2,186.2 930.5,194.5 930.8,189.4 931.1,183.5 931.4,188 931.7,191.8 932,184.3 932.3,179.7 932.6,187.9 932.9,198.8 933.2,200.3 933.5,203 933.8,207.2 934.1,208.9 934.4,202.7 934.7,197.6 935,196.9 935.3,200.9 935.6,191.5 935.9,182.1 936.2,182.8 936.5,186.9 936.8,184.2 937.1,180.1 937.4,191.2 937.7,201 938,196.7 938.3,195.4 938.6,195 938.9,192.9 939.2,191.2 939.5,187.8 939.8,185.3 940.1,186.1 940.4,182.1 940.7,176.3 941,179.2 941.3,180.3 941.6,181.4 941.9,184.4 942.2,181.6 942.5,181.2 942.8,186.6 943.1,193.7 943.4,188.1"/></g></g><text x="711.8" y="109.6" class="lb lbb">LISA</text><text x="853.2" y="118.3" class="lb lbb">aLIGO</text><text x="644.5" y="245.1" class="lb lbb">DECIGO / BBO</text><text x="911" y="231.4" class="lb lbb">ET</text><text x="554.1" y="289.2" class="lb lbb">ultimate-DECIGO</text><text x="570.6" y="44.6" class="lb lbb">(b) M=40M<tspan class="sun" dx="1.3" dy="3.8">⊙</tspan><tspan dx="1.1" dy="-3.8">,</tspan></text><text x="589.9" y="65.8" class="lb lbb">E=2B</text><path d="M573 306.5v-2.4M573 13v2.4M590.7 306.5v-2.4M590.7 13v2.4M603.2 306.5v-2.4M603.2 13v2.4M612.9 306.5v-2.4M612.9 13v2.4M620.8 306.5v-2.4M620.8 13v2.4M627.5 306.5v-2.4M627.5 13v2.4M633.3 306.5v-2.4M633.3 13v2.4M638.5 306.5v-2.4M638.5 13v2.4M673.2 306.5v-2.4M673.2 13v2.4M690.8 306.5v-2.4M690.8 13v2.4M703.3 306.5v-2.4M703.3 13v2.4M713.1 306.5v-2.4M713.1 13v2.4M721 306.5v-2.4M721 13v2.4M727.7 306.5v-2.4M727.7 13v2.4M733.5 306.5v-2.4M733.5 13v2.4M738.6 306.5v-2.4M738.6 13v2.4M773.3 306.5v-2.4M773.3 13v2.4M791 306.5v-2.4M791 13v2.4M803.5 306.5v-2.4M803.5 13v2.4M813.2 306.5v-2.4M813.2 13v2.4M821.1 306.5v-2.4M821.1 13v2.4M827.8 306.5v-2.4M827.8 13v2.4M833.6 306.5v-2.4M833.6 13v2.4M838.8 306.5v-2.4M838.8 13v2.4M873.5 306.5v-2.4M873.5 13v2.4M891.1 306.5v-2.4M891.1 13v2.4M903.6 306.5v-2.4M903.6 13v2.4M913.4 306.5v-2.4M913.4 13v2.4M921.3 306.5v-2.4M921.3 13v2.4M928 306.5v-2.4M928 13v2.4M933.8 306.5v-2.4M933.8 13v2.4M938.9 306.5v-2.4M938.9 13v2.4M542.9 31.6h2.4M943.5 31.6h-2.4M542.9 27h2.4M943.5 27h-2.4M542.9 23.6h2.4M943.5 23.6h-2.4M542.9 21h2.4M943.5 21h-2.4M542.9 18.9h2.4M943.5 18.9h-2.4M542.9 17.1h2.4M943.5 17.1h-2.4M542.9 15.6h2.4M943.5 15.6h-2.4M542.9 14.2h2.4M943.5 14.2h-2.4M542.9 58.3h2.4M943.5 58.3h-2.4M542.9 53.6h2.4M943.5 53.6h-2.4M542.9 50.3h2.4M943.5 50.3h-2.4M542.9 47.7h2.4M943.5 47.7h-2.4M542.9 45.6h2.4M943.5 45.6h-2.4M542.9 43.8h2.4M943.5 43.8h-2.4M542.9 42.3h2.4M943.5 42.3h-2.4M542.9 40.9h2.4M943.5 40.9h-2.4M542.9 85h2.4M943.5 85h-2.4M542.9 80.3h2.4M943.5 80.3h-2.4M542.9 77h2.4M943.5 77h-2.4M542.9 74.4h2.4M943.5 74.4h-2.4M542.9 72.3h2.4M943.5 72.3h-2.4M542.9 70.5h2.4M943.5 70.5h-2.4M542.9 68.9h2.4M943.5 68.9h-2.4M542.9 67.6h2.4M943.5 67.6h-2.4M542.9 111.7h2.4M943.5 111.7h-2.4M542.9 107h2.4M943.5 107h-2.4M542.9 103.7h2.4M943.5 103.7h-2.4M542.9 101.1h2.4M943.5 101.1h-2.4M542.9 99h2.4M943.5 99h-2.4M542.9 97.2h2.4M943.5 97.2h-2.4M542.9 95.6h2.4M943.5 95.6h-2.4M542.9 94.3h2.4M943.5 94.3h-2.4M542.9 138.4h2.4M943.5 138.4h-2.4M542.9 133.7h2.4M943.5 133.7h-2.4M542.9 130.3h2.4M943.5 130.3h-2.4M542.9 127.8h2.4M943.5 127.8h-2.4M542.9 125.6h2.4M943.5 125.6h-2.4M542.9 123.9h2.4M943.5 123.9h-2.4M542.9 122.3h2.4M943.5 122.3h-2.4M542.9 120.9h2.4M943.5 120.9h-2.4M542.9 165.1h2.4M943.5 165.1h-2.4M542.9 160.4h2.4M943.5 160.4h-2.4M542.9 157h2.4M943.5 157h-2.4M542.9 154.4h2.4M943.5 154.4h-2.4M542.9 152.3h2.4M943.5 152.3h-2.4M542.9 150.5h2.4M943.5 150.5h-2.4M542.9 149h2.4M943.5 149h-2.4M542.9 147.6h2.4M943.5 147.6h-2.4M542.9 191.7h2.4M943.5 191.7h-2.4M542.9 187h2.4M943.5 187h-2.4M542.9 183.7h2.4M943.5 183.7h-2.4M542.9 181.1h2.4M943.5 181.1h-2.4M542.9 179h2.4M943.5 179h-2.4M542.9 177.2h2.4M943.5 177.2h-2.4M542.9 175.7h2.4M943.5 175.7h-2.4M542.9 174.3h2.4M943.5 174.3h-2.4M542.9 218.4h2.4M943.5 218.4h-2.4M542.9 213.7h2.4M943.5 213.7h-2.4M542.9 210.4h2.4M943.5 210.4h-2.4M542.9 207.8h2.4M943.5 207.8h-2.4M542.9 205.7h2.4M943.5 205.7h-2.4M542.9 203.9h2.4M943.5 203.9h-2.4M542.9 202.4h2.4M943.5 202.4h-2.4M542.9 201h2.4M943.5 201h-2.4M542.9 245.1h2.4M943.5 245.1h-2.4M542.9 240.4h2.4M943.5 240.4h-2.4M542.9 237.1h2.4M943.5 237.1h-2.4M542.9 234.5h2.4M943.5 234.5h-2.4M542.9 232.4h2.4M943.5 232.4h-2.4M542.9 230.6h2.4M943.5 230.6h-2.4M542.9 229h2.4M943.5 229h-2.4M542.9 227.7h2.4M943.5 227.7h-2.4M542.9 271.8h2.4M943.5 271.8h-2.4M542.9 267.1h2.4M943.5 267.1h-2.4M542.9 263.8h2.4M943.5 263.8h-2.4M542.9 261.2h2.4M943.5 261.2h-2.4M542.9 259.1h2.4M943.5 259.1h-2.4M542.9 257.3h2.4M943.5 257.3h-2.4M542.9 255.7h2.4M943.5 255.7h-2.4M542.9 254.4h2.4M943.5 254.4h-2.4M542.9 298.5h2.4M943.5 298.5h-2.4M542.9 293.8h2.4M943.5 293.8h-2.4M542.9 290.4h2.4M943.5 290.4h-2.4M542.9 287.9h2.4M943.5 287.9h-2.4M542.9 285.7h2.4M943.5 285.7h-2.4M542.9 284h2.4M943.5 284h-2.4M542.9 282.4h2.4M943.5 282.4h-2.4M542.9 281h2.4M943.5 281h-2.4" stroke="#000" stroke-width="1.5" fill="none"/><path d="M542.9 306.5v-5.2M542.9 13v5.2M643 306.5v-5.2M643 13v5.2M743.2 306.5v-5.2M743.2 13v5.2M843.4 306.5v-5.2M843.4 13v5.2M943.5 306.5v-5.2M943.5 13v5.2M542.9 13h5.2M943.5 13h-5.2M542.9 39.7h5.2M943.5 39.7h-5.2M542.9 66.4h5.2M943.5 66.4h-5.2M542.9 93h5.2M943.5 93h-5.2M542.9 119.7h5.2M943.5 119.7h-5.2M542.9 146.4h5.2M943.5 146.4h-5.2M542.9 173.1h5.2M943.5 173.1h-5.2M542.9 199.8h5.2M943.5 199.8h-5.2M542.9 226.5h5.2M943.5 226.5h-5.2M542.9 253.1h5.2M943.5 253.1h-5.2M542.9 279.8h5.2M943.5 279.8h-5.2M542.9 306.5h5.2M943.5 306.5h-5.2" stroke="#000" stroke-width="2" fill="none"/><text x="536.3" y="19" text-anchor="end" class="tk">10<tspan class="sup" dy="-6">-16</tspan></text><text x="536.3" y="45.7" text-anchor="end" class="tk">10<tspan class="sup" dy="-6">-17</tspan></text><text x="536.3" y="72.4" text-anchor="end" class="tk">10<tspan class="sup" dy="-6">-18</tspan></text><text x="536.3" y="99" text-anchor="end" class="tk">10<tspan class="sup" dy="-6">-19</tspan></text><text x="536.3" y="125.7" text-anchor="end" class="tk">10<tspan class="sup" dy="-6">-20</tspan></text><text x="536.3" y="152.4" text-anchor="end" class="tk">10<tspan class="sup" dy="-6">-21</tspan></text><text x="536.3" y="179.1" text-anchor="end" class="tk">10<tspan class="sup" dy="-6">-22</tspan></text><text x="536.3" y="205.8" text-anchor="end" class="tk">10<tspan class="sup" dy="-6">-23</tspan></text><text x="536.3" y="232.5" text-anchor="end" class="tk">10<tspan class="sup" dy="-6">-24</tspan></text><text x="536.3" y="259.1" text-anchor="end" class="tk">10<tspan class="sup" dy="-6">-25</tspan></text><text x="536.3" y="285.8" text-anchor="end" class="tk">10<tspan class="sup" dy="-6">-26</tspan></text><text x="536.3" y="312.5" text-anchor="end" class="tk">10<tspan class="sup" dy="-6">-27</tspan></text><text x="543.4" y="326.9" text-anchor="middle" class="tk">10<tspan class="sup" dy="-5.8">-2</tspan></text><text x="643.5" y="326.9" text-anchor="middle" class="tk">10<tspan class="sup" dy="-5.8">-1</tspan></text><text x="743.7" y="326.9" text-anchor="middle" class="tk">10<tspan class="sup" dy="-5.8">0</tspan></text><text x="843.9" y="326.9" text-anchor="middle" class="tk">10<tspan class="sup" dy="-5.8">1</tspan></text><text x="944" y="326.9" text-anchor="middle" class="tk">10<tspan class="sup" dy="-5.8">2</tspan></text><text x="745" y="352.8" text-anchor="middle" class="ax">f [Hz]</text><text transform="translate(497.1 162.2) rotate(-90)" text-anchor="middle" class="ax">h<tspan class="sub" dy="3.5">c</tspan><tspan dy="-3.5">(f), h</tspan><tspan class="sub" dy="3.5">n</tspan><tspan dy="-3.5">(f)</tspan></text><rect x="835.3" y="23.4" width="96.9" height="57.9" fill="#fff" stroke="#000" stroke-width="2"/><path d="M836.3 32.2H866.3" stroke="#000" stroke-width="2.5" fill="none"/><text x="869.6" y="36.4" class="lg2">Z/Z<tspan class="sun2" dx="1" dy="3.8">⊙</tspan><tspan dx="0.9" dy="-3.8">=0</tspan></text><path d="M836.3 51H866.3" stroke="#f00" stroke-width="2.5" fill="none"/><text x="869.6" y="55.3" class="lg2">Z/Z<tspan class="sun2" dx="1" dy="3.8">⊙</tspan><tspan dx="0.9" dy="-3.8">=0.01</tspan></text><path d="M836.3 69.9H866.3" stroke="#00f" stroke-width="2.5" fill="none"/><text x="869.6" y="74.3" class="lg2">Z/Z<tspan class="sun2" dx="1" dy="3.8">⊙</tspan><tspan dx="0.9" dy="-3.8">=0.1</tspan></text></g>
<g id="panel-c"><clipPath id="cpc"><rect x="327.4" y="370.9" width="397.6" height="290"/></clipPath><rect x="328.8" y="369.5" width="397.6" height="292.8" fill="none" stroke="#000" stroke-width="2.6"/><g clip-path="url(#cpc)"><g fill="none" stroke="#808080" stroke-width="2.1" stroke-linejoin="round" stroke-linecap="round"><polyline points="328.8,490.7 329.8,490.6 330.8,490.5 331.8,490.4 332.8,490.3 333.8,490.1 334.8,490 335.8,489.9 336.8,489.7 337.8,489.6 338.8,489.5 339.8,489.3 340.8,489.2 341.8,489.1 342.8,488.9 343.8,488.8 344.8,488.7 345.7,488.5 346.7,488.4 347.7,488.2 348.7,488.1 349.7,487.9 350.7,487.8 351.7,487.6 352.7,487.5 353.7,487.3 354.7,487.1 355.7,487 356.7,486.8 357.7,486.7 358.7,486.5 359.6,486.3 360.6,486.2 361.6,486 362.6,485.8 363.6,485.7 364.6,485.5 365.6,485.3 366.6,485.2 367.6,485 368.6,484.8 369.6,484.6 370.5,484.4 371.5,484.3 372.5,484.1 373.5,483.9 374.5,483.7 375.5,483.5 376.5,483.3 377.5,483.1 378.4,482.9 379.4,482.7 380.4,482.5 381.4,482.3 382.4,482.1 383.4,481.9 384.4,481.7 385.3,481.5 386.3,481.3 387.3,481.1 388.3,480.9 389.3,480.7 390.2,480.4 391.2,480.2 392.2,480 393.2,479.7 394.2,479.5 395.1,479.3 396.1,479 397.1,478.8 398.1,478.5 399,478.3 400,478 401,477.8 402,477.5 402.9,477.3 403.9,477 404.9,476.8 405.8,476.5 406.8,476.2 407.8,476 408.7,475.7 409.7,475.4 410.7,475.2 411.7,474.9 412.6,474.6 413.6,474.4 414.6,474.1 415.5,473.8 416.5,473.5 417.5,473.3 418.4,473 419.4,472.7 420.4,472.4 421.3,472.1 422.3,471.8 423.2,471.6 424.2,471.3 425.2,471 426.1,470.7 427.1,470.4 428,470.1 429,469.8 430,469.5 430.9,469.2 431.9,468.8 432.8,468.5 433.8,468.2 434.7,467.9 435.7,467.6 436.6,467.2 437.6,466.9 438.5,466.6 439.5,466.2 440.4,465.9 441.4,465.6 442.3,465.2 443.3,464.9 444.2,464.5 445.2,464.2 446.1,463.9 447,463.5 448,463.2 448.9,462.8 449.9,462.5 450.8,462.1 451.8,461.8 452.7,461.4 453.6,461.1 454.6,460.7 455.5,460.3 456.4,460 457.4,459.6 458.3,459.2 459.3,458.9 460.2,458.5 461.1,458.1 462.1,457.8 463,457.4 463.9,457 464.8,456.6 465.8,456.2 466.7,455.9 467.6,455.5 468.6,455.1 469.5,454.7 470.4,454.4 471.4,454 472.3,453.6 473.2,453.2 474.2,452.9 475.1,452.5 476,452.1 477,451.7 477.9,451.4 478.8,451 479.8,450.6 480.7,450.3 481.6,449.9 482.6,449.5 483.5,449.1 484.4,448.8 485.4,448.4 486.3,448 487.2,447.6 488.2,447.3 489.1,446.9 490,446.5 491,446.1 491.9,445.8 492.8,445.4 493.8,445 494.7,444.6 495.6,444.3 496.6,443.9 497.5,443.5 498.4,443.2 499.4,442.8 500.3,442.4 501.2,442.1 502.2,441.7 503.1,441.3 504,441 505,440.6 505.9,440.2 506.8,439.9 507.8,439.5 508.7,439.1 509.7,438.8 510.6,438.4 511.5,438 512.5,437.7 513.4,437.3 514.3,436.9 515.3,436.6 516.2,436.2 517.1,435.9 518.1,435.5 519,435.1 520,434.8 520.9,434.4 521.8,434.1 522.8,433.7 523.7,433.3 524.7,433 525.5,432.6"/><polyline points="328.8,531.3 329.7,531.7 330.7,532 331.6,532.4 332.6,532.8 333.5,533.1 334.4,533.5 335.4,533.8 336.3,534.2 337.3,534.6 338.2,534.9 339.1,535.3 340.1,535.6 341,536 341.9,536.4 342.9,536.7 343.8,537.1 344.8,537.5 345.7,537.8 346.6,538.2 347.6,538.6 348.5,538.9 349.4,539.3 350.4,539.7 351.3,540 352.2,540.4 353.2,540.8 354.1,541.1 355,541.5 356,541.9 356.9,542.2 357.8,542.6 358.8,543 359.7,543.3 360.7,543.7 361.6,544.1 362.5,544.4 363.5,544.8 364.4,545.2 365.3,545.6 366.3,545.9 367.2,546.3 368.1,546.7 369.1,547.1 370,547.4 370.9,547.8 371.8,548.2 372.8,548.6 373.7,548.9 374.6,549.3 375.6,549.7 376.5,550.1 377.4,550.4 378.4,550.8 379.3,551.2 380.2,551.6 381.2,552 382.1,552.3 383,552.7 384,553.1 384.9,553.5 385.8,553.8 386.7,554.2 387.7,554.6 388.6,555 389.5,555.4 390.5,555.8 391.4,556.1 392.3,556.5 393.2,556.9 394.2,557.3 395.1,557.7 396,558.1 396.9,558.5 397.9,558.9 398.8,559.3 399.7,559.7 400.6,560.1 401.6,560.5 402.5,560.8 403.4,561.2 404.3,561.6 405.3,562 406.2,562.4 407.1,562.8 408,563.2 409,563.6 409.9,564 410.8,564.4 411.7,564.8 412.6,565.2 413.6,565.6 414.5,566 415.4,566.4 416.3,566.8 417.3,567.2 418.2,567.6 419.1,568 420,568.4 421,568.8 421.9,569.2 422.8,569.5 423.7,569.9 424.7,570.3 425.6,570.7 426.5,571.1 427.4,571.5 428.4,571.9 429.3,572.3 430.2,572.6 431.2,573 432.1,573.4 433,573.8 433.9,574.2 434.9,574.6 435.8,575 436.7,575.4 437.6,575.8 438.6,576.2 439.5,576.6 440.4,577 441.3,577.4 442.3,577.8 443.2,578.2 444.1,578.6 445.1,579 446,579.3 446.9,579.7 447.9,580 448.8,580.4 449.8,580.7 450.7,581 451.7,581.3 452.6,581.5 453.6,581.8 454.6,582.1 455.5,582.4 456.5,582.6 457.5,582.9 458.5,583.2 459.4,583.4 460.4,583.7 461.4,583.9 462.4,584.1 463.4,584.3 464.4,584.5 465.4,584.7 466.4,584.9 467.3,585 468.3,585.1 469.3,585.2 470.3,585.3 471.3,585.4 472.3,585.5 473.3,585.6 474.3,585.7 475.3,585.8 476.3,585.8 477.3,585.9 478.3,586 479.3,586 480.3,586.1 481.4,586.1 482.4,586.2 483.4,586.2 484.4,586.2 485.4,586.2 486.4,586.2 487.4,586.2 488.4,586.2 489.4,586.2 490.4,586.2 491.4,586.1 492.4,586.1 493.4,586.1 494.4,586 495.4,586 496.4,585.9 497.4,585.8 498.4,585.8 499.4,585.7 500.4,585.6 501.5,585.6 502.5,585.5 503.5,585.4 504.5,585.4 505.5,585.3 506.5,585.2 507.5,585.2 508.5,585.1 509.5,585 510.5,584.9 511.5,584.9 512.5,584.8 513.5,584.7 514.5,584.7 515.5,584.6 516.5,584.5 517.5,584.4 518.5,584.3 519.5,584.2 520.5,584.2 521.5,584.1 522.5,584 523.5,583.9 524.5,583.8 525.5,583.7 526.5,583.6 527.5,583.5 528.5,583.4 529.5,583.3 530.5,583.2 531.5,583.1 532.5,582.9 533.5,582.8 534.5,582.7 535.5,582.6 536.5,582.4 537.5,582.3 538.5,582.1 539.5,582 540.5,581.8 541.5,581.7 542.4,581.5 543.4,581.3 544.4,581.2 545.4,581 546.4,580.8 547.4,580.6 548.4,580.4 548.5,580.4"/><polyline points="328.8,586.7 329.7,587.1 330.7,587.5 331.6,587.9 332.5,588.3 333.4,588.7 334.4,589.1 335.3,589.4 336.2,589.8 337.2,590.2 338.1,590.6 339,591 339.9,591.4 340.9,591.7 341.8,592.1 342.7,592.5 343.7,592.9 344.6,593.3 345.5,593.6 346.5,594 347.4,594.4 348.3,594.8 349.2,595.2 350.2,595.5 351.1,595.9 352,596.3 353,596.7 353.9,597.1 354.8,597.4 355.8,597.8 356.7,598.2 357.6,598.6 358.5,599 359.5,599.3 360.4,599.7 361.3,600.1 362.3,600.5 363.2,600.8 364.1,601.2 365.1,601.6 366,602 366.9,602.4 367.9,602.7 368.8,603.1 369.7,603.5 370.7,603.9 371.6,604.2 372.5,604.6 373.4,605 374.4,605.4 375.3,605.8 376.2,606.1 377.2,606.5 378.1,606.9 379,607.3 380,607.6 380.9,608 381.8,608.4 382.8,608.8 383.7,609.2 384.6,609.5 385.6,609.9 386.5,610.3 387.4,610.7 388.4,611 389.3,611.4 390.2,611.8 391.2,612.1 392.1,612.5 393,612.9 394,613.3 394.9,613.6 395.8,614 396.8,614.4 397.7,614.7 398.6,615.1 399.6,615.5 400.5,615.8 401.4,616.2 402.4,616.6 403.3,616.9 404.2,617.3 405.2,617.7 406.1,618 407.1,618.4 408,618.7 408.9,619.1 409.9,619.4 410.8,619.8 411.8,620.2 412.7,620.5 413.6,620.9 414.6,621.2 415.5,621.6 416.5,621.9 417.4,622.3 418.3,622.6 419.3,623 420.2,623.3 421.2,623.7 422.1,624 423,624.4 424,624.7 424.9,625.1 425.9,625.4 426.8,625.8 427.8,626.1 428.7,626.5 429.7,626.8 430.6,627.2 431.5,627.5 432.5,627.8 433.4,628.2 434.4,628.5 435.3,628.9 436.3,629.2 437.2,629.5 438.2,629.9 439.1,630.2 440.1,630.5 441,630.8 442,631.2 442.9,631.5 443.9,631.8 444.8,632.1 445.8,632.5 446.7,632.8 447.7,633.2 448.6,633.6 449.6,634 450.5,634.4 451.5,634.8 452.4,635.2 453.4,635.5 454.3,635.8 455.3,636.1 456.3,636.4 457.2,636.5 458.2,636.6 459.2,636.6 460.2,636.6 461.2,636.6 462.2,636.6 463.2,636.6 464.2,636.5 465.2,636.5 466.2,636.4 467.2,636.4 468.2,636.3 469.2,636.3 470.2,636.2 471.2,636.2 472.2,636.1 473.3,636.1 474.3,636 475.3,635.9 476.3,635.9 477.3,635.8 478.3,635.8 479.3,635.7 480.3,635.6 481.3,635.6 482.3,635.5 483.3,635.5 484.3,635.4 485.3,635.3 486.3,635.3 487.3,635.2 488.3,635.1 489.4,635 490.4,634.9 491.4,634.9 492.4,634.8 493.4,634.7 494.4,634.6 495.4,634.5 496.4,634.4 497.4,634.3 498.4,634.2 499.3,634.1 500.3,633.9 501.3,633.8 502.3,633.7 503.3,633.5 504.3,633.3 505.3,633.1 506.2,632.9 507.2,632.7 508.2,632.4 509.1,632.1 510.1,631.8 511.1,631.6 512.1,631.3 513,631 514,630.7 515,630.4 515.9,630.1 516.9,629.8 517.9,629.6 518.8,629.3 519.8,629 520.8,628.7 521.7,628.5 522.7,628.2 523.7,627.9 524.6,627.6 525.6,627.3 526.5,627 527.5,626.7 528.5,626.4 529.4,626.1 530.4,625.8 531.4,625.6 532.3,625.3 533.3,625 534.2,624.7 535.2,624.4 536.2,624.1 537.1,623.8 538.1,623.5 539,623.2 540,622.9 541,622.6 541.9,622.3 542.9,622 543.8,621.6 544.8,621.3 545.7,621 546.7,620.6 547.6,620.3 548.5,619.9 549.4,619.5 550.4,619.1 551.3,618.7 552.2,618.3 553.1,617.8 554,617.4 554.9,616.9 555.8,616.5 556.7,616 557.6,615.6 558.5,615.1 559.5,614.7 560.4,614.3 561.3,613.8 562.2,613.4 563.1,613 564,612.6 564.9,612.2 565.9,611.8 566.8,611.5 567.7,611.1 568.7,610.8 569.6,610.5 570.6,610.2 571.5,609.9 572.5,609.6 573.4,609.3 574.4,609 575.4,608.8 576.3,608.5 577.3,608.3 578.3,608 579.3,607.8 580.2,607.5 581.2,607.3 582.2,607 583.2,606.8 584.2,606.6 585.1,606.3 586.1,606.1 587.1,605.9 588.1,605.6 589.1,605.4 590.1,605.2 591,605 592,604.7 593,604.5 594,604.3 595,604 595.9,603.8 596.9,603.5 597.9,603.3 598.9,603 599.8,602.7 600.8,602.5 601.8,602.2 602.7,601.9 603.7,601.6 604.6,601.3 605.6,601 606.5,600.7 607.5,600.4 608.4,600 609.4,599.7 610.3,599.4 611.3,599 612.2,598.7 613.1,598.3 614.1,598 615,597.6 615.9,597.2 616.9,596.9 617.8,596.5 618.7,596.1 619.7,595.7 620.6,595.3 621.5,595 622.5,594.6 623.4,594.2 624.3,593.8 625.3,593.4 626.2,593 627.1,592.6 628,592.2 629,591.8 629.9,591.4 630.8,591 631.7,590.6 632.7,590.3 633.6,589.9 634.5,589.5 635.5,589.1 636.4,588.7 637.3,588.3 638.2,587.9 639.2,587.5 640.1,587.2 641,586.8 642,586.4 642.9,586 643.8,585.6 644.7,585.2 645.7,584.8 646.6,584.4 647.5,584 648.4,583.6 649.4,583.2 650.3,582.9 651.2,582.5 652.1,582.1 653,581.7 654,581.2 654.9,580.8 655.8,580.4 656.7,580 657.6,579.5 658.5,579.1 659.4,578.7 660.4,578.2 661.3,577.8 662.2,577.4 663.1,576.9 664,576.5 664.9,576.1 665.9,575.7 666.8,575.4 667.7,575 668.7,574.7 669.6,574.4 670.5,574.1 671.5,573.8 672.5,573.5 673.4,573.3 674.4,573 675.4,572.8 676.4,572.6 677.4,572.4 678.4,572.2 679.4,571.9 680.3,571.7 681.3,571.5 682.3,571.3 683.3,571 684.3,570.8 685.2,570.5 686.2,570.3 687.1,570 688.1,569.6 689,569.3 690,568.9 690.9,568.5 691.8,568.1 692.7,567.7 693.6,567.3 694.6,566.9 695.5,566.5 696.4,566 697.3,565.6 698.2,565.2 699.1,564.8 700.1,564.4 701,564 701.9,563.7 702.9,563.3 703.8,563 704.8,562.7 705.7,562.3 706.7,562 707.7,561.7 708.6,561.4 709.6,561.1 710.6,560.9 711.5,560.6 712.5,560.4 713.5,560.2 714.5,560 715.4,559.8 716.4,559.6 717.4,559.4 718.4,559.2 719.4,559.1 720.4,558.9 721.4,558.8 722.4,558.6 723.4,558.5 724.4,558.4 725.4,558.3 726.4,558.2 726.4,558.2"/><polyline points="545.6,507.9 545.7,508.9 545.9,509.9 546.1,510.9 546.3,511.9 546.5,512.9 546.8,513.8 547.1,514.8 547.4,515.7 547.7,516.6 548.1,517.5 548.6,518.5 549.1,519.4 549.6,520.3 550.2,521.1 550.7,522 551.3,522.8 551.9,523.5 552.6,524.3 553.2,524.9 554,525.6 554.7,526.2 555.5,526.8 556.3,527.4 557.2,528 558,528.6 558.9,529.2 559.7,529.8 560.6,530.4 561.4,531 562.1,531.7 562.9,532.3 563.6,533 564.3,533.7 565,534.5 565.7,535.2 566.4,535.9 567.1,536.7 567.8,537.4 568.5,538.1 569.2,538.7 570,539.4 570.7,540.1 571.5,540.7 572.2,541.4 573,542 573.8,542.7 574.5,543.3 575.3,544 576.1,544.6 576.9,545.3 577.6,545.9 578.4,546.5 579.2,547.2 579.9,547.8 580.7,548.5 581.5,549.2 582.2,549.8 583,550.5 583.7,551.2 584.4,551.9 585.1,552.6 585.9,553.3 586.6,554 587.3,554.7 588,555.4 588.7,556.2 589.4,556.9 590.1,557.6 590.8,558.3 591.5,559 592.3,559.6 593,560.3 593.8,561 594.5,561.7 595.3,562.4 596.1,563.2 596.9,563.9 597.6,564.7 598.5,565.4 599.3,565.9 600.1,566.4 601,566.8 601.8,566.9 602.7,567 603.7,567.1 604.6,567.1 605.6,567.2 606.6,567.3 607.6,567.3 608.7,567.4 609.7,567.4 610.8,567.4 611.8,567.5 612.8,567.5 613.9,567.5 614.9,567.5 615.9,567.5 616.9,567.5 617.9,567.5 618.9,567.5 619.9,567.4 620.9,567.4 621.9,567.3 622.9,567.3 623.9,567.2 624.9,567.2 625.9,567.1 627,567 628,566.9 629,566.9 630,566.8 631,566.7 632,566.6 633,566.5 634,566.4 635,566.3 636,566.2 637,566.2 638,566.1 639,566 640,565.9 641,565.8 642,565.7 643,565.6 644,565.5 645,565.3 646,565.2 647,565 648,564.9 649,564.8 650,564.6 651,564.5 652,564.3 653,564.2 654,564.1 655,563.9 656,563.8 657,563.7 658,563.7 659,563.6 660,563.5 661,563.5 662,563.5 663,563.5 664,563.5 665,563.6 666,563.6 667,563.7 668,563.8 669,563.9 670,563.9 671,564 672,564.2 673,564.3 674,564.4 675,564.5 676,564.6 677,564.7 678,564.8 679,564.9 680,565 681,565.1 682,565.2 683,565.3 684,565.5 685,565.6 686,565.7 687,565.9 688,566 689,566.1 690,566.2 691,566.3 692,566.4 693,566.5 694,566.5 695,566.5 696,566.5 697,566.6 698,566.6 699,566.6 700,566.6 701,566.6 702,566.6 703,566.6 704,566.7 705,566.7 706,566.7 707,566.7 708,566.7 709,566.7 710.1,566.7 711.1,566.7 712.1,566.7 713.1,566.8 714.1,566.8 715.1,566.8 716.1,566.8 717.1,566.8 718.1,566.8 719.1,566.8 720.1,566.8 721.1,566.8 722.1,566.8 723.1,566.8 724.1,566.8 725.2,566.8 726.2,566.8 726.4,566.8"/><polyline points="592.7,459.6 593.2,460.5 593.6,461.4 594,462.3 594.5,463.2 594.9,464.1 595.3,465 595.7,465.9 596.1,466.8 596.5,467.8 596.9,468.7 597.3,469.6 597.6,470.6 597.9,471.5 598.3,472.4 598.6,473.4 598.9,474.4 599.2,475.3 599.5,476.3 599.8,477.2 600.1,478.2 600.4,479.1 600.7,480.1 601,481 601.4,482 601.7,482.9 602,483.9 602.4,484.8 602.7,485.8 603,486.7 603.4,487.7 603.7,488.6 604.1,489.5 604.4,490.5 604.8,491.4 605.2,492.3 605.6,493.3 606,494.2 606.4,495.1 606.8,496 607.2,496.9 607.7,497.9 608.1,498.8 608.6,499.6 609.1,500.5 609.6,501.4 610.1,502.2 610.7,503.1 611.2,504.1 611.9,505.1 612.5,506 613.2,506.9 613.9,507.7 614.6,508.3 615.3,508.6 616.1,508.7 617,508.5 618,508.1 619,507.5 619.2,507.4 620.7,486.3 621.9,450.3 623.2,486.3 624.5,509.4 625,510.2 625.6,511.1 626.2,511.9 626.8,512.7 627.5,513.5 628.1,514.3 628.8,515 629.4,515.8 630.1,516.5 630.8,517.2 631.5,517.9 632.3,518.5 633,519.2 633.8,519.8 634.6,520.4 635.4,521 636.3,521.6 637.1,522.1 637.9,522.7 638.8,523.3 639.6,523.8 640.4,524.4 641.3,525 642.1,525.5 643,526.1 643.8,526.6 644.7,527.2 645.5,527.7 646.4,528.2 647.3,528.7 648.2,529.1 649.1,529.6 650,530 650.9,530.4 651.8,530.8 652.7,531.1 653.7,531.5 654.6,531.9 655.6,532.2 656.5,532.5 657.5,532.9 658.4,533.2 659.4,533.5 660.4,533.8 661.3,534.1 662.3,534.4 663.3,534.6 664.2,534.9 665.2,535.1 666.2,535.4 667.1,535.6 668.1,535.8 669.1,536 670.1,536.2 671.1,536.5 672.1,536.7 673,536.9 674,537 675,537.2 676,537.4 677,537.6 678,537.8 679,538 680,538.1 681,538.3 682,538.5 683,538.6 683.9,538.8 684.9,539 685.9,539.1 686.9,539.3 687.9,539.5 688.9,539.6 689.9,539.8 690.9,540 691.9,540.1 692.9,540.3 693.9,540.4 694.8,540.6 695.8,540.8 696.8,540.9 697.8,541.1 698.8,541.2 699.8,541.4 700.8,541.5 701.8,541.7 702.8,541.8 703.8,542 704.8,542.1 705.8,542.3 706.8,542.4 707.8,542.6 708.8,542.7 709.8,542.8 710.8,543 711.8,543.1 712.8,543.2 713.7,543.4 714.7,543.5 715.7,543.6 716.7,543.7 717.7,543.9 718.7,544 719.7,544.1 720.7,544.2 721.7,544.3 722.7,544.5 723.7,544.6 724.7,544.7 725.7,544.8 726.4,544.9"/></g><g fill="none" stroke-width="2.5" stroke-linejoin="round" stroke-linecap="butt"><polyline stroke="#000" points="328.8,497.9 329.1,498.1 329.4,498.4 329.7,498.3 330,498.3 330.3,498.3 330.6,498.3 330.9,498.6 331.2,498.8 331.5,498.7 331.8,498.6 332.1,498.7 332.4,498.8 332.7,498.9 333,498.9 333.3,499.1 333.6,499.3 333.9,499.1 334.2,499 334.5,499.3 334.8,499.6 335.1,499.6 335.4,499.5 335.7,499.4 336,499.4 336.3,499.6 336.6,499.7 336.9,499.9 337.2,500 337.5,499.8 337.8,499.7 338.1,499.9 338.4,500.1 338.7,500 339,499.8 339.3,499.9 339.6,500 339.9,500.2 340.2,500.4 340.5,500.4 340.8,500.4 341.1,500.5 341.4,500.7 341.7,500.7 342,500.7 342.3,500.5 342.6,500.4 342.9,500.7 343.2,500.9 343.5,500.9 343.8,500.8 344.1,500.8 344.4,500.8 344.7,501 345,501.3 345.3,501.5 345.6,501.6 345.9,501.8 346.2,501.9 346.5,501.9 346.8,501.8 347.1,501.7 347.4,501.6 347.7,501.8 348,501.9 348.3,502.1 348.6,502.2 348.9,502.3 349.2,502.4 349.5,502.5 349.8,502.6 350.1,502.5 350.4,502.4 350.7,502.7 351,503.1 351.3,503.1 351.6,503.1 351.9,502.6 352.2,502.4 352.5,502.4 352.8,502.5 353.1,502.8 353.4,503.1 353.7,503.3 354,503.5 354.3,503.2 354.6,503 354.9,503.1 355.2,503.3 355.5,503.2 355.8,503.1 356.1,503.2 356.4,503.2 356.7,503.5 357,503.7 357.3,503.9 357.6,504.1 357.9,504.1 358.2,504.1 358.5,504.1 358.8,504.2 359.1,504.1 359.4,504 359.7,504.1 360,504.2 360.3,504.2 360.6,504.2 360.9,504.2 361.2,504.2 361.5,504.5 361.8,504.8 362.1,504.8 362.4,504.8 362.7,504.9 363,504.9 363.3,505 363.6,505.1 363.9,504.9 364.2,504.8 364.5,505 364.8,505.2 365.1,505.2 365.4,505.2 365.7,505.4 366,505.7 366.3,505.7 366.6,505.8 366.9,505.8 367.2,505.8 367.5,505.8 367.8,505.8 368.1,506 368.4,506.2 368.7,506.4 369,506.6 369.3,506.5 369.6,506.3 369.9,506.5 370.2,506.7 370.5,506.8 370.8,506.9 371.1,506.9 371.4,506.9 371.7,506.6 372,506.3 372.3,506.4 372.6,506.4 372.9,506.6 373.2,506.9 373.5,507.1 373.8,507.3 374.1,507.3 374.4,507.4 374.7,507.3 375,507.3 375.3,507.5 375.6,507.6 375.9,507.4 376.2,507.3 376.5,507.7 376.8,508.1 377.1,508 377.4,507.9 377.7,507.9 378,507.9 378.3,508.1 378.6,508.3 378.9,508.4 379.2,508.4 379.5,508.5 379.8,508.5 380.1,508.5 380.4,508.6 380.7,509.2 381,509.6 381.3,509.5 381.6,509.2 381.9,509.1 382.2,509 382.5,509.3 382.8,509.6 383.1,509.7 383.4,509.8 383.7,510 384,510.2 384.3,510.4 384.6,510.7 384.9,510.8 385.2,510.9 385.5,510.8 385.8,510.7 386.1,510.9 386.4,511.1 386.7,511.2 387,511.2 387.3,511.3 387.6,511.3 387.9,511.5 388.2,511.6 388.5,511.7 388.8,511.8 389.1,512 389.4,512.3 389.7,512.2 390,512.1 390.3,512.1 390.6,512.1 390.9,512.1 391.2,512.1 391.5,512.2 391.8,512.3 392.1,512.6 392.4,512.9 392.7,513.1 393,513.3 393.3,513.3 393.6,513.3 393.9,513.2 394.2,513 394.5,513 394.8,513.1 395.1,513 395.4,512.9 395.7,513.2 396,513.5 396.3,513.3 396.6,513 396.9,513.3 397.2,513.5 397.5,513.5 397.8,513.5 398.1,513.7 398.4,513.8 398.7,513.5 399,513.2 399.3,513.6 399.6,514 399.9,514 400.2,513.9 400.5,513.7 400.8,513.5 401.1,513.7 401.4,513.9 401.7,514 402,514.1 402.3,514 402.6,513.9 402.9,513.8 403.2,513.7 403.5,513.8 403.8,513.8 404.1,513.9 404.4,514 404.7,514.1 405,514.2 405.3,514.2 405.6,514.1 405.9,514 406.2,513.8 406.5,514 406.8,514.3 407.1,514.1 407.4,514 407.7,514.1 408,514.2 408.3,514.1 408.6,514.1 408.9,514.1 409.2,514.1 409.5,514.2 409.8,514.3 410.1,514.1 410.4,513.9 410.7,514 411,514.1 411.3,514.2 411.6,514.3 411.9,514.3 412.2,514.2 412.5,514.6 412.8,514.9 413.1,514.7 413.4,514.4 413.7,514.4 414,514.5 414.3,514.9 414.6,515 414.9,514.8 415.2,514.2 415.5,514.7 415.8,515 416.1,514.8 416.4,514.4 416.7,514.8 417,515.1 417.3,515 417.6,515 417.9,514.7 418.2,514.5 418.5,514.5 418.8,514.5 419.1,514.6 419.4,514.8 419.7,514.9 420,514.9 420.3,514.6 420.6,514.3 420.9,514.8 421.2,515.3 421.5,515.3 421.8,515.3 422.1,515.1 422.4,514.7 422.7,514.9 423,515 423.3,515 423.6,515 423.9,515 424.2,515 424.5,515 424.8,515.1 425.1,515.2 425.4,515.4 425.7,515.2 426,515.1 426.3,515.2 426.6,515.3 426.9,515.4 427.2,515.4 427.5,515.3 427.8,515.2 428.1,515.4 428.4,515.6 428.7,515.3 429,514.9 429.3,515.2 429.6,515.4 429.9,515.1 430.2,514.8 430.5,514.9 430.8,515 431.1,515.2 431.4,515.3 431.7,515 432,514.9 432.3,515.2 432.6,515.7 432.9,515.4 433.2,515.2 433.5,515.1 433.8,515.1 434.1,515.1 434.4,515.1 434.7,515.3 435,515.6 435.3,515.5 435.6,515.3 435.9,515.6 436.2,515.8 436.5,516 436.8,516.1 437.1,515.8 437.4,515.5 437.7,515.7 438,515.9 438.3,515.7 438.6,515.6 438.9,515.9 439.2,516.2 439.5,516.1 439.8,515.9 440.1,515.6 440.4,515.4 440.7,515.9 441,516.5 441.3,516.1 441.6,515.7 441.9,515.7 442.2,515.7 442.5,515.7 442.8,515.7 443.1,516 443.4,516.3 443.7,516 444,515.7 444.3,515.9 444.6,516.2 444.9,516.2 445.2,516.3 445.5,516.6 445.8,516.9 446.1,516.6 446.4,516.3 446.7,516.3 447,516.2 447.3,516.4 447.6,516.6 447.9,516.7 448.2,516.8 448.5,516.8 448.8,516.8 449.1,516.8 449.4,516.8 449.7,516.8 450,516.7 450.3,516.5 450.6,516.4 450.9,516.6 451.2,516.8 451.5,516.8 451.8,516.8 452.1,517.2 452.4,517.5 452.7,517.3 453,517 453.3,516.9 453.6,516.8 453.9,517.2 454.2,517.6 454.5,517.2 454.8,516.8 455.1,517 455.4,517.3 455.7,517.6 456,517.9 456.3,517.6 456.6,517.2 456.9,517.4 457.2,517.5 457.5,517.5 457.8,517.5 458.1,517.6 458.4,517.7 458.7,517.7 459,517.7 459.3,517.8 459.6,518 459.9,518 460.2,518.1 460.5,518.2 460.8,518.3 461.1,518.3 461.4,518.2 461.7,518.6 462,518.9 462.3,519.1 462.6,519.3 462.9,519.2 463.2,519.1 463.5,519.1 463.8,519 464.1,519.3 464.4,519.7 464.7,519.4 465,519.1 465.3,519.5 465.6,519.9 465.9,519.9 466.2,520 466.5,520.1 466.8,520.3 467.1,520.5 467.4,520.7 467.7,521 468,521.1 468.3,521.2 468.6,521 468.9,520.8 469.2,520.6 469.5,520.8 469.8,521 470.1,521.3 470.4,521.6 470.7,521.3 471,521.1 471.3,521.8 471.6,522.5 471.9,522.3 472.2,522.1 472.5,522.2 472.8,522.3 473.1,522.4 473.4,522.5 473.7,522.9 474,523.4 474.3,523.5 474.6,523.7 474.9,523.6 475.2,523.5 475.5,523.8 475.8,524.2 476.1,524 476.4,523.9 476.7,524.1 477,524.2 477.3,524.6 477.6,525 477.9,525 478.2,525.1 478.5,526.1 478.8,526.4 479.1,526.7 479.4,526.2 479.7,526.5 480,526.8 480.3,527 480.6,527.3 480.9,527.4 481.2,527.6 481.5,527.9 481.8,528.2 482.1,528.2 482.4,528.3 482.7,528.8 483,529.2 483.3,529.6 483.6,529.9 483.9,530.2 484.2,530.4 484.5,530.4 484.8,530.3 485.1,531.1 485.4,531.8 485.7,532 486,532.1 486.3,532.2 486.6,532.3 486.9,532.8 487.2,533.3 487.5,533.6 487.8,534 488.1,534.2 488.4,534.4 488.7,534.9 489,535.5 489.3,535.8 489.6,536.1 489.9,536.3 490.2,536.5 490.5,536.9 490.8,537.4 491.1,537.8 491.4,538.3 491.7,538.5 492,538.6 492.3,539.3 492.6,540 492.9,540.9 493.2,541.3 493.5,541.7 493.8,542.1 494.1,542.4 494.4,542.3 494.7,542.7 495,543.1 495.3,543.6 495.6,544.1 495.9,544.5 496.2,545 496.5,545.4 496.8,545.7 497.1,546.4 497.4,547.1 497.7,547.5 498,548 498.3,548.5 498.6,549 498.9,549.6 499.2,550.3 499.5,550.5 499.8,550.7 500.1,551.1 500.4,551.5 500.7,551.5 501,551.4 501.3,551.9 501.6,552.4 501.9,552.2 502.2,551.9 502.5,552.1 502.8,552.3 503.1,552.1 503.4,551.9 503.7,552 504,552.1 504.3,551.8 504.6,551.5 504.9,552.2 505.2,553 505.5,552.6 505.8,552.1 506.1,552.6 506.4,553.1 506.7,552.5 507,551.9 507.3,552.2 507.6,552.5 507.9,553 508.2,553.6 508.5,552.5 508.8,551.4 509.1,552 509.4,552.6 509.7,551.8 510,551.2 510.3,551.6 510.6,552.4 510.9,552.5 511.2,552.7 511.5,552.9 511.8,553.1 512.1,553 512.4,552.9 512.7,553.5 513,554 513.3,553.2 513.6,552.3 513.9,552.3 514.2,552.4 514.5,552 514.8,551.6 515.1,552 515.4,552.4 515.7,552.5 516,552.5 516.3,552 516.6,551.6 516.9,551.6 517.2,551.7 517.5,552.4 517.8,553.1 518.1,554.2 518.4,554.7 518.7,553.9 519,552.5 519.3,553.1 519.6,553.7 519.9,552.5 520.2,551.2 520.5,551.8 520.8,552.5 521.1,553.3 521.4,554.1 521.7,553.4 522,552.7 522.3,553.1 522.6,553.5 522.9,553.9 523.2,554.4 523.5,553.2 523.8,552 524.1,552.4 524.4,552.8 524.7,553.1 525,553.4 525.3,551.8 525.6,551.1 525.9,551.1 526.2,551.5 526.5,552.2 526.8,552.8 527.1,553.2 527.4,553.6 527.7,553.5 528,553.5 528.3,552.8 528.6,552.1 528.9,553 529.2,553.9 529.5,553.3 529.8,552.8 530.1,553.2 530.4,553.6 530.7,553.6 531,553.6 531.3,555 531.6,555.2 531.9,555.4 532.2,554.9 532.5,554.9 532.8,554.9 533.1,555.2 533.4,555.5 533.7,555.8 534,556.1 534.3,557 534.6,557.9 534.9,558.7 535.2,559.5 535.5,560.3 535.8,561.1 536.1,561.5 536.4,561.9 536.7,561.2 537,560.5 537.3,560 537.6,559.4 537.9,560.8 538.2,562.1 538.5,560.7 538.8,559.3 539.1,561.9 539.4,563.4 539.7,562.4 540,560.4 540.3,560.2 540.6,560 540.9,560.8 541.2,561.6 541.5,561.3 541.8,561 542.1,561.3 542.4,561.5 542.7,560.8 543,560 543.3,559.9 543.6,559.8 543.9,559.2 544.2,558.6 544.5,558.4 544.8,558.1 545.1,557.7 545.4,557.2 545.7,556.5 546,555.9 546.3,556.3 546.6,556.8 546.9,555.7 547.2,554.5 547.5,554.5 547.8,554.4 548.1,554.8 548.4,555.2 548.7,555 549,554.8 549.3,554.3 549.6,553.7 549.9,554.1 550.2,554.6 550.5,554 550.8,553.5 551.1,553.8 551.4,554.2 551.7,554.7 552,555.2 552.3,555.6 552.6,556 552.9,557.2 553.2,558.4 553.5,557.9 553.8,557.4 554.1,557.5 554.4,557.6 554.7,558.7 555,559.7 555.3,560.3 555.6,560.9 555.9,561.3 556.2,561.6 556.5,562.3 556.8,563 557.1,563.7 557.4,564.4 557.7,564.3 558,564.1 558.3,562.3 558.6,560.4 558.9,561.6 559.2,562.9 559.5,559.4 559.8,555.7 560.1,557.8 560.4,560.1 560.7,560.7 561,561.4 561.3,561.4 561.6,561.4 561.9,560.9 562.2,560.3 562.5,563.8 562.8,567.4 563.1,567.4 563.4,567.4 563.7,565.5 564,563.4 564.3,561.3 564.6,559.2 564.9,557.4 565.2,555.5 565.5,556.8 565.8,558.2 566.1,557.8 566.4,557.4 566.7,558.3 567,559.3 567.3,560.4 567.6,561.6 567.9,561.5 568.2,561.4 568.5,560.7 568.8,559.9 569.1,556.7 569.4,553.5 569.7,556 570,558.6 570.3,557.2 570.6,555.8 570.9,556.5 571.2,557.3 571.5,555.4 571.8,553.5 572.1,555.7 572.4,557.8 572.7,556.4 573,554.9 573.3,553.5 573.6,552.1 573.9,560.1 574.2,568.1 574.5,562 574.8,555.8 575.1,561.6 575.4,567.4 575.7,558.5 576,549.5 576.3,550 576.6,550.5 576.9,549.8 577.2,549 577.5,551.4 577.8,553.9 578.1,553.2 578.4,552.4 578.7,551.9 579,551.3 579.3,554.4 579.6,557.6 579.9,560.3 580.2,563.1 580.5,557.7 580.8,552.2 581.1,550.7 581.4,549.2 581.7,545.8 582,542.3 582.3,538 582.6,533.8 582.9,543.5 583.2,553.3 583.5,553.7 583.8,554.1 584.1,552.4 584.4,550.8 584.7,551 585,551.3 585.3,548.6 585.6,545.9 585.9,552.8 586.2,559.8 586.5,554.3 586.8,548.8 587.1,544.3 587.4,539.8 587.7,543.9 588,548.1 588.3,551.6 588.6,555 588.9,550 589.2,544.9 589.5,545.5 589.8,546.1 590.1,544.3 590.4,542.4 590.7,545.3 591,548.2 591.3,546 591.6,543.7 591.9,541.5 592.2,539.2 592.5,540.1 592.8,541 593.1,547.9 593.4,554.7 593.7,547.4 594,540 594.3,540.1 594.6,540.3 594.9,543.1 595.2,546 595.5,543.3 595.8,540.6 596.1,541.9 596.4,543.3 596.7,541 597,538.6 597.3,540.1 597.6,541.5 597.9,544.5 598.2,547.4 598.5,550.8 598.8,554.2 599.1,551 599.4,547.7 599.7,548.1 600,548.5 600.3,549.5 600.6,550.5 600.9,546.2 601.2,541.9 601.5,539.7 601.8,537.5 602.1,538.1 602.4,538.7 602.7,538.7 603,538.6 603.3,547.8 603.6,557 603.9,553.5 604.2,550 604.5,543.4 604.8,536.8 605.1,536.2 605.4,535.6 605.7,537.2 606,538.8 606.3,538.6 606.6,538.4 606.9,542 607.2,545.6 607.5,547.5 607.8,549.3 608.1,542.4 608.4,535.5 608.7,538.4 609,541.2 609.3,538.1 609.6,535 609.9,540.3 610.2,545.7 610.5,545.5 610.8,545.4 611.1,541.3 611.4,537.3 611.7,541.2 612,545.2 612.3,536.6 612.6,528.1 612.9,531.5 613.2,534.8 613.5,537.5 613.8,540.2 614.1,537.7 614.4,535.1 614.7,541.4 615,547.6 615.3,542 615.6,536.4 615.9,541.6 616.2,546.9 616.5,541.9 616.8,536.9 617.1,539.1 617.4,541.4 617.7,540 618,538.7 618.3,538 618.6,537.3 618.9,539.8 619.2,542.3 619.5,540.6 619.8,539 620.1,540.8 620.4,542.6 620.7,547.4 621,552.3 621.3,543 621.6,533.7 621.9,535.1 622.2,536.4 622.5,539.5 622.8,542.7 623.1,543.3 623.4,543.9 623.7,546.3 624,548.7 624.3,547.4 624.6,546.1 624.9,538.5 625.2,530.9 625.5,530.9 625.8,528.6 626.1,527.6 626.4,525 626.7,520.4 627,515.2 627.3,519.7 627.6,522.3 627.9,525.9 628.2,529.4 628.5,535.6 628.8,539.8 629.1,538.7 629.4,537.5 629.7,532.2 630,526.8 630.3,532.9 630.6,539 630.9,542.1 631.2,545.1 631.5,541 631.8,536.8 632.1,535.6 632.4,534.5 632.7,536.3 633,538 633.3,531.2 633.6,524.4 633.9,528.8 634.2,533.1 634.5,532.6 634.8,532.1 635.1,535.2 635.4,538.4 635.7,536.4 636,534.4 636.3,540 636.6,545.5 636.9,543.1 637.2,540.7 637.5,536.8 637.8,533 638.1,535.8 638.4,538.6 638.7,536.2 639,533.9 639.3,534.7 639.6,535.5 639.9,535.1 640.2,534.8 640.5,531.9 640.8,529 641.1,535.1 641.4,541.2 641.7,540.2 642,539.3 642.3,544 642.6,548.7 642.9,542.8 643.2,536.9 643.5,533.4 643.8,529.9 644.1,531.6 644.4,533.4 644.7,537.4 645,541.4 645.3,538.3 645.6,535.2 645.9,530.6 646.2,525.9 646.5,532.1 646.8,538.2 647.1,533.7 647.4,529.1 647.7,531 648,532.8 648.3,530 648.6,527.1 648.9,530.1 649.2,533.1 649.5,530.6 649.8,528 650.1,531 650.4,534 650.7,535.5 651,537 651.3,537.7 651.6,538.4 651.9,535.2 652.2,532 652.5,526 652.8,520 653.1,535.5 653.4,550.9 653.7,542.7 654,534.6 654.3,534.9 654.6,535.2 654.9,534.2 655.2,533.2 655.5,535.6 655.8,538 656.1,533.1 656.4,528.1 656.7,528 657,527.9 657.3,529.8 657.6,531.7 657.9,533.9 658.2,536.2 658.5,530.8 658.8,525.4 659.1,529.4 659.4,533.3 659.7,541.6 660,549.9 660.3,543 660.6,536 660.9,533.7 661.2,531.3 661.5,534.7 661.8,538 662.1,539.3 662.4,540.6 662.7,540.9 663,541.1 663.3,537.8 663.6,534.5 663.9,533.7 664.2,533 664.5,528.6 664.8,524.2 665.1,532.5 665.4,540.7 665.7,537.3 666,533.8 666.3,529.8 666.6,525.7 666.9,534 667.2,542.3 667.5,536.4 667.8,530.6 668.1,533.4 668.4,536.3 668.7,539.1 669,542 669.3,533.8 669.6,525.6 669.9,525.5 670.2,525.3 670.5,530.9 670.8,536.5 671.1,532.7 671.4,536.5 671.7,546.6 672,556.3 672.3,560 672.6,554.8 672.9,544.3 673.2,530.3 673.5,515.9 673.8,510.2 674.1,508.8 674.4,512.4 674.7,518.2 675,525.8 675.3,535.4 675.6,542 675.9,540 676.2,538.1 676.5,534.9 676.8,531.6 677.1,531.3 677.4,531 677.7,533.2 678,535.4 678.3,533.3 678.6,531.3 678.9,531.2 679.2,531.2 679.5,530.9 679.8,530.6 680.1,528.5 680.4,526.3 680.7,530.2 681,534 681.3,532.1 681.6,530.1 681.9,531.7 682.2,533.3 682.5,534 682.8,534.7 683.1,531.9 683.4,529.2 683.7,522.7 684,516.3 684.3,523 684.6,529.7 684.9,529.5 685.2,529.3 685.5,530.5 685.8,531.6 686.1,532 686.4,532.4 686.7,535.8 687,539.1 687.3,538.5 687.6,537.9 687.9,539.6 688.2,541.4 688.5,536.1 688.8,530.9 689.1,529.5 689.4,528 689.7,529.1 690,530.1 690.3,527.2 690.6,524.4 690.9,523.6 691.2,522.8 691.5,529 691.8,535.3 692.1,528.4 692.4,521.4 692.7,530.2 693,539 693.3,532.4 693.6,525.9 693.9,526.7 694.2,527.4 694.5,527.7 694.8,528 695.1,531.1 695.4,534.1 695.7,529 696,523.8 696.3,527.8 696.6,531.8 696.9,529.8 697.2,527.9 697.5,525.2 697.8,522.4 698.1,525.3 698.4,528.2 698.7,526.4 699,524.7 699.3,528.4 699.6,532.1 699.9,526 700.2,519.9 700.5,523.2 700.8,526.6 701.1,525.7 701.4,524.8 701.7,523.7 702,522.6 702.3,523.6 702.6,524.6 702.9,530.9 703.2,537.1 703.5,537.4 703.8,537.7 704.1,533.4 704.4,529.1 704.7,529.8 705,530.4 705.3,529.1 705.6,527.7 705.9,526 706.2,524.3 706.5,525.6 706.8,526.9 707.1,531.5 707.4,536 707.7,526.6 708,517.2 708.3,524.7 708.6,532.1 708.9,536 709.2,539.9 709.5,534.9 709.8,529.9 710.1,530.2 710.4,530.5 710.7,530.7 711,530.9 711.3,533.3 711.6,535.6 711.9,533 712.2,530.4 712.5,531 712.8,531.5 713.1,528.5 713.4,525.4 713.7,529.5 714,533.6 714.3,531.3 714.6,529 714.9,525.8 715.2,522.7 715.5,521.3 715.8,519.9 716.1,525.7 716.4,531.6 716.7,532.6 717,533.6 717.3,531.3 717.6,529 717.9,538.3 718.2,547.5 718.5,536.5 718.8,525.4 719.1,531 719.4,536.5 719.7,532.2 720,527.9 720.3,529 720.6,530.2 720.9,526.7 721.2,523.3 721.5,526.2 721.8,529.2 722.1,536.2 722.4,543.2 722.7,535.9 723,528.5 723.3,532.4 723.6,536.4 723.9,536.3 724.2,536.2 724.5,536.9 724.8,537.6 725.1,531.2 725.4,524.8 725.7,531.2 726,537.5 726.3,534.4"/><polyline stroke="#f00" points="328.8,502.7 329.1,502.9 329.4,503.2 329.7,503.1 330,503 330.3,503.1 330.6,503.2 330.9,503.1 331.2,502.9 331.5,502.8 331.8,502.6 332.1,503.3 332.4,503.9 332.7,503.7 333,503.3 333.3,503 333.6,502.8 333.9,502.9 334.2,503.1 334.5,503.4 334.8,503.6 335.1,503.7 335.4,503.8 335.7,503.9 336,504 336.3,504.1 336.6,504.3 336.9,504 337.2,503.7 337.5,504.1 337.8,504.6 338.1,504.4 338.4,504.1 338.7,504.1 339,504.1 339.3,504.3 339.6,504.4 339.9,504.5 340.2,504.5 340.5,504.7 340.8,504.9 341.1,504.8 341.4,504.6 341.7,505 342,505.4 342.3,505 342.6,504.7 342.9,504.9 343.2,505.1 343.5,505.2 343.8,505.3 344.1,505.3 344.4,505.2 344.7,505.4 345,505.6 345.3,505.7 345.6,505.9 345.9,505.7 346.2,505.4 346.5,506 346.8,506.5 347.1,506.6 347.4,506.7 347.7,506.5 348,506.4 348.3,506.2 348.6,506 348.9,506.3 349.2,506.6 349.5,506.8 349.8,507 350.1,506.8 350.4,506.5 350.7,506.5 351,506.6 351.3,506.9 351.6,507.1 351.9,507.4 352.2,507.7 352.5,507.6 352.8,507.4 353.1,507.1 353.4,506.8 353.7,506.8 354,506.8 354.3,507.5 354.6,508.3 354.9,507.9 355.2,507.6 355.5,507.8 355.8,507.9 356.1,508.4 356.4,508.8 356.7,508.4 357,507.9 357.3,508.4 357.6,508.9 357.9,509 358.2,509.2 358.5,508.9 358.8,508.6 359.1,509.1 359.4,509.5 359.7,509 360,508.5 360.3,508.5 360.6,508.6 360.9,508.7 361.2,508.9 361.5,509.6 361.8,510.2 362.1,510.1 362.4,510 362.7,509.6 363,509.2 363.3,509.7 363.6,510.3 363.9,510.4 364.2,510.6 364.5,510.5 364.8,510.4 365.1,510.7 365.4,511 365.7,511.1 366,511.2 366.3,511.1 366.6,511 366.9,511.2 367.2,511.4 367.5,511.2 367.8,511 368.1,510.9 368.4,510.9 368.7,511.1 369,511.3 369.3,511.6 369.6,511.9 369.9,512.1 370.2,512.4 370.5,512.4 370.8,512.5 371.1,512.4 371.4,512.3 371.7,512.7 372,513 372.3,513 372.6,513.1 372.9,513.2 373.2,513.3 373.5,513.1 373.8,512.8 374.1,513.3 374.4,513.8 374.7,513.2 375,512.9 375.3,513.1 375.6,513.4 375.9,513.6 376.2,513.9 376.5,513.9 376.8,513.9 377.1,514.1 377.4,514.3 377.7,514.1 378,513.9 378.3,514.1 378.6,514.2 378.9,514.9 379.2,515.5 379.5,514.8 379.8,514.1 380.1,514.7 380.4,515.3 380.7,515.2 381,515.1 381.3,515.2 381.6,515.4 381.9,515.3 382.2,515.2 382.5,515.1 382.8,515.1 383.1,515.2 383.4,515.3 383.7,515.2 384,515 384.3,515.2 384.6,515.4 384.9,515.4 385.2,515.3 385.5,515.7 385.8,516.1 386.1,515.8 386.4,515.4 386.7,515.4 387,515.3 387.3,515.3 387.6,515.3 387.9,515.8 388.2,516.4 388.5,515.8 388.8,515.2 389.1,515.1 389.4,515 389.7,515.5 390,516 390.3,515.9 390.6,515.8 390.9,515.8 391.2,515.9 391.5,515.9 391.8,516 392.1,515.7 392.4,515.4 392.7,516 393,516.6 393.3,516.2 393.6,515.8 393.9,516.3 394.2,516.7 394.5,516 394.8,515.3 395.1,515.6 395.4,516 395.7,516.1 396,516.2 396.3,516.3 396.6,516.4 396.9,516.1 397.2,515.8 397.5,516.1 397.8,516.5 398.1,516.1 398.4,515.8 398.7,516.1 399,516.4 399.3,516.4 399.6,516.4 399.9,516.2 400.2,516 400.5,516 400.8,516 401.1,516 401.4,516.1 401.7,516.3 402,516.5 402.3,516.3 402.6,516.1 402.9,516.4 403.2,516.7 403.5,516.9 403.8,517.1 404.1,517.2 404.4,517.2 404.7,517.4 405,517.5 405.3,517.3 405.6,517.1 405.9,517 406.2,517 406.5,516.4 406.8,515.9 407.1,516.2 407.4,516.5 407.7,516.9 408,517.2 408.3,517.4 408.6,517.5 408.9,517.7 409.2,517.8 409.5,517.3 409.8,516.9 410.1,517.2 410.4,517.5 410.7,517.7 411,517.9 411.3,517.6 411.6,517.3 411.9,517.2 412.2,517.1 412.5,517.3 412.8,517.5 413.1,517.4 413.4,517.2 413.7,517.6 414,517.9 414.3,518.1 414.6,518.4 414.9,518.4 415.2,518.3 415.5,518.8 415.8,518.8 416.1,518.9 416.4,518.4 416.7,518 417,517.5 417.3,517.7 417.6,518 417.9,518.1 418.2,518.3 418.5,518.7 418.8,519.2 419.1,518.7 419.4,518.2 419.7,518.9 420,519.6 420.3,519.3 420.6,518.9 420.9,519.1 421.2,519.2 421.5,519.5 421.8,519.8 422.1,519.5 422.4,519.1 422.7,519.3 423,519.5 423.3,519.4 423.6,519.3 423.9,519.9 424.2,520.4 424.5,520.2 424.8,519.9 425.1,519.6 425.4,519.2 425.7,519.5 426,519.8 426.3,520.4 426.6,521 426.9,520.8 427.2,520.5 427.5,521.4 427.8,521.5 428.1,521.6 428.4,521.3 428.7,521.1 429,520.8 429.3,520.7 429.6,520.5 429.9,520.7 430.2,521 430.5,521.1 430.8,521.3 431.1,521.4 431.4,521.6 431.7,521.4 432,521.2 432.3,521.6 432.6,521.9 432.9,522.2 433.2,522.5 433.5,522.2 433.8,521.9 434.1,522.3 434.4,522.7 434.7,522.8 435,522.9 435.3,522.8 435.6,522.6 435.9,522.9 436.2,523.2 436.5,523 436.8,522.9 437.1,523.1 437.4,523.3 437.7,523.6 438,523.9 438.3,523.8 438.6,523.7 438.9,523.9 439.2,524.1 439.5,524.1 439.8,524.2 440.1,524.6 440.4,524.9 440.7,524.6 441,524.4 441.3,525.2 441.6,526.1 441.9,525.8 442.2,525.5 442.5,525.4 442.8,525.3 443.1,525.6 443.4,526 443.7,526.3 444,526.7 444.3,527.2 444.6,527.6 444.9,527.7 445.2,527.8 445.5,527.1 445.8,526.5 446.1,527.3 446.4,528.1 446.7,528.2 447,528.4 447.3,528.2 447.6,528 447.9,528.1 448.2,528.2 448.5,528.7 448.8,529.2 449.1,529.8 449.4,530.3 449.7,529.7 450,529.1 450.3,529.4 450.6,529.8 450.9,530.2 451.2,530.7 451.5,530.7 451.8,530.8 452.1,531.3 452.4,531.9 452.7,531.7 453,531.5 453.3,531.9 453.6,532.4 453.9,532.3 454.2,532.3 454.5,532.8 454.8,533.3 455.1,533.6 455.4,533.9 455.7,534.3 456,534.7 456.3,535.1 456.6,535.5 456.9,535.5 457.2,535.4 457.5,535.3 457.8,535.2 458.1,535.6 458.4,536.1 458.7,537 459,538 459.3,537.7 459.6,537.3 459.9,537.8 460.2,538.3 460.5,538.2 460.8,538 461.1,538.2 461.4,538.5 461.7,538.8 462,539.1 462.3,539 462.6,538.9 462.9,539.2 463.2,539.4 463.5,539.8 463.8,540.1 464.1,540.4 464.4,540.6 464.7,541.1 465,541.7 465.3,542 465.6,542.4 465.9,541.9 466.2,541.3 466.5,542.3 466.8,543.2 467.1,542.7 467.4,542.1 467.7,542.4 468,542.7 468.3,543.4 468.6,544.1 468.9,544.2 469.2,544.3 469.5,544.2 469.8,544 470.1,545.3 470.4,546.5 470.7,546.2 471,545.8 471.3,544.9 471.6,544 471.9,544.7 472.2,545.3 472.5,546 472.8,546.8 473.1,547 473.4,547.2 473.7,547.2 474,547.2 474.3,546.3 474.6,545.4 474.9,546 475.2,546.6 475.5,546.5 475.8,546.3 476.1,546.8 476.4,547.2 476.7,546.9 477,546.7 477.3,547 477.6,547.3 477.9,547.2 478.2,547.2 478.5,547.1 478.8,547 479.1,547.5 479.4,548.1 479.7,547.7 480,547.3 480.3,548.2 480.6,549.1 480.9,549.6 481.2,550.1 481.5,549.4 481.8,548.8 482.1,548.8 482.4,548.8 482.7,548.2 483,547.7 483.3,548.6 483.6,549.4 483.9,548.8 484.2,548.1 484.5,549 484.8,549.8 485.1,549.9 485.4,550 485.7,550.5 486,551.1 486.3,550.7 486.6,550.2 486.9,550.2 487.2,550.3 487.5,549.6 487.8,548.9 488.1,549 488.4,549.1 488.7,549.9 489,550.7 489.3,550.2 489.6,549.8 489.9,549.7 490.2,549.7 490.5,550.4 490.8,551.1 491.1,550.5 491.4,549.8 491.7,549.9 492,549.9 492.3,550.4 492.6,551 492.9,551.1 493.2,551.3 493.5,551.1 493.8,550.8 494.1,551.2 494.4,551.6 494.7,552.7 495,553.7 495.3,552.8 495.6,551.9 495.9,551.3 496.2,550.6 496.5,550.9 496.8,551.2 497.1,552.5 497.4,553.8 497.7,552.5 498,551.3 498.3,552 498.6,552.6 498.9,553.3 499.2,554 499.5,553.3 499.8,552.5 500.1,552.8 500.4,553.1 500.7,553 501,552.9 501.3,552.5 501.6,552.2 501.9,554.8 502.2,555.8 502.5,555.5 502.8,553.6 503.1,553.6 503.4,553.5 503.7,554.4 504,555.4 504.3,554.6 504.6,553.7 504.9,553.8 505.2,553.9 505.5,554.1 505.8,554.3 506.1,555.1 506.4,556 506.7,555.2 507,554.5 507.3,554.5 507.6,554.6 507.9,555.7 508.2,556.8 508.5,556.3 508.8,555.8 509.1,555.5 509.4,555.2 509.7,556 510,556.8 510.3,556.3 510.6,555.7 510.9,555.2 511.2,554.8 511.5,555 511.8,555.3 512.1,555.7 512.4,556.2 512.7,556.2 513,556.2 513.3,557.1 513.6,558 513.9,557.3 514.2,556.7 514.5,557.1 514.8,557.6 515.1,556.5 515.4,555.3 515.7,555.6 516,555.9 516.3,556.7 516.6,557.5 516.9,558.1 517.2,558.6 517.5,557.9 517.8,557.2 518.1,556.7 518.4,556.2 518.7,557 519,557.8 519.3,558.7 519.6,559.5 519.9,558.8 520.2,558 520.5,558 520.8,557.9 521.1,557.4 521.4,556.9 521.7,556.5 522,556.1 522.3,557.3 522.6,558.5 522.9,557.5 523.2,556.6 523.5,558.2 523.8,559.6 524.1,558.9 524.4,558.1 524.7,557.3 525,556.6 525.3,558.2 525.6,559.7 525.9,558.8 526.2,557.7 526.5,557.2 526.8,556.7 527.1,556.4 527.4,556.1 527.7,557.5 528,558.9 528.3,558.1 528.6,557.4 528.9,558.3 529.2,559.2 529.5,557.6 529.8,556.1 530.1,556.5 530.4,556.8 530.7,558.5 531,560.2 531.3,559.9 531.6,559.7 531.9,558.6 532.2,557.6 532.5,559.1 532.8,560.7 533.1,561.4 533.4,562.1 533.7,563.2 534,564.4 534.3,564.6 534.6,564.8 534.9,566.8 535.2,568.9 535.5,569.9 535.8,570.7 536.1,571 536.4,571 536.7,570.9 537,570.7 537.3,571.7 537.6,572.3 537.9,571.2 538.2,569.5 538.5,569 538.8,568.4 539.1,569.1 539.4,569.9 539.7,569.4 540,568.8 540.3,567.9 540.6,566.9 540.9,565.8 541.2,564.6 541.5,564.2 541.8,563.8 542.1,563.1 542.4,562.5 542.7,561.1 543,559.7 543.3,560.9 543.6,562.1 543.9,562.2 544.2,562.3 544.5,561.1 544.8,559.9 545.1,560.5 545.4,561.1 545.7,560.4 546,559.8 546.3,560.7 546.6,561.6 546.9,563.8 547.2,566 547.5,566 547.8,565.9 548.1,564.4 548.4,562.9 548.7,565.1 549,567.4 549.3,566.5 549.6,565.7 549.9,569 550.2,572.3 550.5,572.2 550.8,572.1 551.1,571.6 551.4,571.1 551.7,570.8 552,570.4 552.3,572.6 552.6,574.8 552.9,573 553.2,571.2 553.5,571.2 553.8,571.2 554.1,572.1 554.4,573 554.7,570.9 555,568.7 555.3,567.3 555.6,565.9 555.9,565.6 556.2,565.2 556.5,567.5 556.8,569.9 557.1,568.2 557.4,566.4 557.7,563.5 558,560.6 558.3,561.3 558.6,562.1 558.9,558.1 559.2,554.1 559.5,556.8 559.8,559.5 560.1,560.6 560.4,561.8 560.7,563 561,564.3 561.3,557.6 561.6,550.8 561.9,552.3 562.2,554 562.5,553.9 562.8,553.8 563.1,554.5 563.4,555.4 563.7,555.3 564,555.3 564.3,556.4 564.6,557.5 564.9,558.4 565.2,559.2 565.5,560.4 565.8,561.5 566.1,559.4 566.4,557.3 566.7,558.1 567,558.8 567.3,558.6 567.6,558.3 567.9,560.9 568.2,563.4 568.5,565.4 568.8,567.5 569.1,567.6 569.4,567.8 569.7,565.1 570,562.4 570.3,562.6 570.6,562.7 570.9,562.1 571.2,561.6 571.5,558.9 571.8,556.1 572.1,558.3 572.4,560.5 572.7,559.1 573,557.6 573.3,562.9 573.6,568.2 573.9,565.1 574.2,562 574.5,560 574.8,558 575.1,561.2 575.4,564.5 575.7,563.4 576,562.3 576.3,560.7 576.6,559 576.9,556.6 577.2,554.2 577.5,556.3 577.8,558.5 578.1,562.1 578.4,565.8 578.7,561.7 579,557.6 579.3,560.3 579.6,563 579.9,565.1 580.2,567.2 580.5,567.1 580.8,566.9 581.1,564.3 581.4,561.6 581.7,562.5 582,563.4 582.3,566.9 582.6,570.4 582.9,565.7 583.2,560.9 583.5,568.7 583.8,576.5 584.1,570.6 584.4,564.6 584.7,568.7 585,572.5 585.3,576.1 585.6,579.2 585.9,580.1 586.2,577.4 586.5,572.5 586.8,565.8 587.1,563.7 587.4,565.2 587.7,562.6 588,559.9 588.3,559.9 588.6,559.9 588.9,557.8 589.2,555.6 589.5,555.4 589.8,555.2 590.1,553.9 590.4,552.6 590.7,555.3 591,558.1 591.3,568.8 591.6,579.6 591.9,574.3 592.2,569 592.5,564.3 592.8,559.5 593.1,560.3 593.4,561.1 593.7,561.6 594,562 594.3,561.4 594.6,560.8 594.9,559.3 595.2,557.7 595.5,554.9 595.8,552.2 596.1,557.7 596.4,563.2 596.7,556.9 597,550.6 597.3,555.6 597.6,560.6 597.9,555.9 598.2,551.2 598.5,554.6 598.8,558 599.1,560.3 599.4,562.6 599.7,560 600,557.3 600.3,557.5 600.6,557.8 600.9,557.2 601.2,556.6 601.5,556.3 601.8,556.1 602.1,549.6 602.4,543.2 602.7,550.4 603,557.6 603.3,554.8 603.6,552 603.9,551.4 604.2,550.8 604.5,545.7 604.8,540.6 605.1,543.5 605.4,546.5 605.7,553.1 606,559.7 606.3,554.2 606.6,548.7 606.9,544.3 607.2,539.9 607.5,541.8 607.8,543.8 608.1,542.2 608.4,540.6 608.7,541.6 609,542.6 609.3,545.4 609.6,548.2 609.9,544.9 610.2,541.7 610.5,541.8 610.8,541.9 611.1,543.5 611.4,545.1 611.7,541.3 612,537.5 612.3,545.4 612.6,553.3 612.9,546.8 613.2,540.4 613.5,537.9 613.8,535.3 614.1,539.2 614.4,543.1 614.7,543 615,542.8 615.3,541.8 615.6,540.7 615.9,541 616.2,541.3 616.5,540.1 616.8,538.9 617.1,541.7 617.4,544.5 617.7,548.1 618,551.6 618.3,549.3 618.6,547 618.9,548.8 619.2,550.6 619.5,549.8 619.8,549 620.1,549.7 620.4,550.4 620.7,548.3 621,546.3 621.3,544.2 621.6,542.1 621.9,541.1 622.2,540.1 622.5,540.9 622.8,541.6 623.1,544.3 623.4,546.9 623.7,543.3 624,539.7 624.3,536.8 624.6,533.8 624.9,539 625.2,544.3 625.5,542.2 625.8,535.8 626.1,532.4 626.4,528.4 626.7,522.8 627,518.4 627.3,522.6 627.6,527.8 627.9,531.8 628.2,535.3 628.5,541.2 628.8,542.9 629.1,541 629.4,539.1 629.7,536.1 630,533.1 630.3,536.2 630.6,539.4 630.9,540.1 631.2,540.9 631.5,540.3 631.8,539.8 632.1,539.5 632.4,539.3 632.7,538.7 633,538.1 633.3,541.5 633.6,545 633.9,543.5 634.2,542 634.5,540.3 634.8,538.6 635.1,537.4 635.4,536.2 635.7,534.8 636,533.3 636.3,533.4 636.6,533.5 636.9,532.5 637.2,531.5 637.5,533.3 637.8,535.1 638.1,536 638.4,536.9 638.7,539.8 639,542.7 639.3,544.1 639.6,545.4 639.9,539.5 640.2,533.6 640.5,532.8 640.8,532.1 641.1,536.7 641.4,541.3 641.7,539.3 642,537.3 642.3,544.5 642.6,551.7 642.9,544.5 643.2,537.3 643.5,540.1 643.8,542.8 644.1,540.8 644.4,538.9 644.7,533.6 645,528.2 645.3,534.2 645.6,540.2 645.9,541.4 646.2,542.7 646.5,543.8 646.8,545 647.1,542.9 647.4,540.8 647.7,538.4 648,536 648.3,534.5 648.6,533 648.9,531.4 649.2,529.7 649.5,532.3 649.8,534.9 650.1,535.6 650.4,536.3 650.7,536.2 651,536.1 651.3,537.9 651.6,539.7 651.9,536.9 652.2,534.1 652.5,535 652.8,535.9 653.1,534 653.4,532.2 653.7,532.8 654,533.3 654.3,534.3 654.6,535.3 654.9,537.9 655.2,540.5 655.5,540.8 655.8,541.2 656.1,541.6 656.4,542 656.7,534.4 657,526.7 657.3,534.9 657.6,543.1 657.9,537.4 658.2,531.7 658.5,531.7 658.8,531.7 659.1,534.2 659.4,536.7 659.7,537.5 660,538.4 660.3,542.3 660.6,546.3 660.9,542.1 661.2,537.9 661.5,538.6 661.8,539.4 662.1,541 662.4,542.6 662.7,538.7 663,534.7 663.3,533.1 663.6,531.4 663.9,540.4 664.2,549.5 664.5,541.7 664.8,533.8 665.1,537.6 665.4,541.4 665.7,544.6 666,547.9 666.3,544.9 666.6,541.9 666.9,539.8 667.2,537.7 667.5,547 667.8,556.2 668.1,542.2 668.4,528.3 668.7,531.4 669,534.5 669.3,538.6 669.6,542.7 669.9,542 670.2,541.4 670.5,537.9 670.8,534.4 671.1,530.5 671.4,526.7 671.7,530 672,533.3 672.3,531.8 672.6,530.3 672.9,526 673.2,521.3 673.5,519.5 673.8,516.2 674.1,514.7 674.4,520.1 674.7,526 675,532.4 675.3,534.5 675.6,530.7 675.9,536.2 676.2,541.7 676.5,541.3 676.8,540.9 677.1,542.5 677.4,544 677.7,540.4 678,536.7 678.3,540.6 678.6,544.5 678.9,537.6 679.2,530.8 679.5,534.8 679.8,538.9 680.1,539 680.4,539.2 680.7,536.1 681,532.9 681.3,533.7 681.6,534.4 681.9,533.6 682.2,532.9 682.5,528.5 682.8,524.1 683.1,530.5 683.4,536.8 683.7,534.7 684,532.6 684.3,532.1 684.6,531.5 684.9,532.3 685.2,533.1 685.5,534.4 685.8,535.8 686.1,530.7 686.4,525.7 686.7,527.1 687,528.6 687.3,534.3 687.6,539.9 687.9,541.1 688.2,542.3 688.5,536.6 688.8,530.8 689.1,535.4 689.4,539.9 689.7,535.8 690,531.6 690.3,536.2 690.6,540.8 690.9,540.1 691.2,539.4 691.5,538.3 691.8,537.2 692.1,534.8 692.4,532.4 692.7,541.6 693,550.9 693.3,544.5 693.6,538.1 693.9,537.5 694.2,537 694.5,537.8 694.8,538.6 695.1,532.9 695.4,527.2 695.7,527.4 696,527.5 696.3,531.8 696.6,536.2 696.9,535.8 697.2,535.4 697.5,529.3 697.8,523.1 698.1,529.2 698.4,535.2 698.7,533 699,530.7 699.3,528.6 699.6,526.5 699.9,532 700.2,537.5 700.5,535.9 700.8,534.3 701.1,530.5 701.4,526.7 701.7,533.7 702,540.6 702.3,549.1 702.6,557.5 702.9,545.3 703.2,533.1 703.5,531 703.8,528.9 704.1,530.5 704.4,532.2 704.7,529.8 705,527.4 705.3,529.9 705.6,532.4 705.9,537.3 706.2,542.3 706.5,538.5 706.8,534.7 707.1,534.9 707.4,535 707.7,533 708,531 708.3,528 708.6,525 708.9,529.2 709.2,533.4 709.5,532.8 709.8,532.2 710.1,529.8 710.4,527.4 710.7,533.1 711,538.8 711.3,532.7 711.6,526.5 711.9,529.4 712.2,532.3 712.5,533.9 712.8,535.5 713.1,535.8 713.4,536.1 713.7,532.6 714,529.1 714.3,529.1 714.6,529.2 714.9,532 715.2,534.7 715.5,535.3 715.8,535.9 716.1,532.2 716.4,528.6 716.7,527 717,525.4 717.3,529.8 717.6,534.1 717.9,529.5 718.2,525 718.5,529.1 718.8,533.3 719.1,532.6 719.4,531.9 719.7,533.3 720,534.7 720.3,533.2 720.6,531.6 720.9,539.3 721.2,547 721.5,539.9 721.8,532.8 722.1,531.1 722.4,529.4 722.7,534.7 723,540 723.3,532.3 723.6,524.7 723.9,529.7 724.2,534.8 724.5,537.9 724.8,541 725.1,539.8 725.4,538.5 725.7,536.4 726,534.3 726.3,537"/><polyline stroke="#00f" points="328.8,515.5 329.1,515.2 329.4,515 329.7,515.2 330,515.5 330.3,515.3 330.6,515 330.9,514.9 331.2,514.8 331.5,515.3 331.8,515.8 332.1,515.6 332.4,515.3 332.7,515.5 333,515.7 333.3,515.7 333.6,515.6 333.9,515.4 334.2,515.3 334.5,515.3 334.8,515.3 335.1,515.4 335.4,515.5 335.7,515.5 336,515.5 336.3,515.2 336.6,515.1 336.9,515.2 337.2,515.5 337.5,515.5 337.8,515.5 338.1,515.4 338.4,515.3 338.7,515.4 339,515.5 339.3,515.9 339.6,516.2 339.9,515.8 340.2,515.4 340.5,515.6 340.8,515.8 341.1,515.8 341.4,515.9 341.7,515.7 342,515.5 342.3,515.6 342.6,515.7 342.9,516 343.2,516.3 343.5,516.1 343.8,515.9 344.1,515.8 344.4,515.7 344.7,516 345,516.4 345.3,516.5 345.6,516.6 345.9,516.3 346.2,516 346.5,516.4 346.8,516.8 347.1,516.7 347.4,516.6 347.7,516.5 348,516.4 348.3,516.7 348.6,516.9 348.9,516.9 349.2,516.9 349.5,517.1 349.8,517.4 350.1,517.4 350.4,517.4 350.7,517.2 351,516.8 351.3,517.3 351.6,517.6 351.9,517.7 352.2,517.6 352.5,517.2 352.8,516.9 353.1,517.3 353.4,517.7 353.7,517.4 354,517.1 354.3,517.3 354.6,517.6 354.9,517.6 355.2,517.7 355.5,517.9 355.8,518 356.1,518.2 356.4,518.5 356.7,518.5 357,518.5 357.3,518.7 357.6,518.8 357.9,518.8 358.2,518.9 358.5,519.3 358.8,519.7 359.1,519.6 359.4,519.4 359.7,519.7 360,520 360.3,519.9 360.6,519.7 360.9,519.9 361.2,520 361.5,520.2 361.8,520.3 362.1,520.5 362.4,520.7 362.7,520.9 363,521.1 363.3,521.1 363.6,521.1 363.9,521.4 364.2,521.7 364.5,521.5 364.8,521.4 365.1,521.6 365.4,521.8 365.7,522.4 366,522.9 366.3,522.7 366.6,522.5 366.9,522.7 367.2,522.9 367.5,523 367.8,523.2 368.1,523.2 368.4,523.3 368.7,523.5 369,523.8 369.3,523.9 369.6,524 369.9,524 370.2,524 370.5,524 370.8,524 371.1,524.3 371.4,524.6 371.7,524.6 372,524.6 372.3,524.7 372.6,524.9 372.9,525 373.2,525.1 373.5,525.2 373.8,525.4 374.1,525.5 374.4,525.5 374.7,525.5 375,525.5 375.3,526 375.6,526.5 375.9,526.6 376.2,526.7 376.5,526.4 376.8,526.3 377.1,526.7 377.4,527.2 377.7,527.5 378,527.8 378.3,528.1 378.6,528.2 378.9,528.4 379.2,527.8 379.5,528.2 379.8,528.6 380.1,528.6 380.4,528.7 380.7,528.8 381,528.9 381.3,529.1 381.6,529.3 381.9,529.6 382.2,529.9 382.5,530 382.8,530.1 383.1,530.4 383.4,530.7 383.7,531 384,531.3 384.3,531.5 384.6,531.7 384.9,531.8 385.2,532 385.5,532.2 385.8,532.4 386.1,532.6 386.4,532.8 386.7,533.1 387,533.3 387.3,533.8 387.6,534.2 387.9,534.1 388.2,534 388.5,533.8 388.8,533.5 389.1,533.8 389.4,534 389.7,534 390,534.1 390.3,533.9 390.6,533.7 390.9,533.9 391.2,534.1 391.5,534 391.8,533.9 392.1,533.8 392.4,533.6 392.7,533.7 393,533.7 393.3,533.8 393.6,533.9 393.9,533.8 394.2,533.8 394.5,533.3 394.8,532.8 395.1,532.8 395.4,532.9 395.7,532.9 396,532.8 396.3,533.3 396.6,533.4 396.9,533.3 397.2,533.1 397.5,532.6 397.8,532.1 398.1,532.1 398.4,532 398.7,532.5 399,532.9 399.3,532.6 399.6,532.2 399.9,532.2 400.2,532.2 400.5,532.3 400.8,532.5 401.1,532.2 401.4,532 401.7,532.1 402,532.3 402.3,532.2 402.6,532 402.9,532.2 403.2,532.4 403.5,532.1 403.8,532 404.1,532.1 404.4,532.3 404.7,532.7 405,533.1 405.3,533.3 405.6,533.5 405.9,533.2 406.2,532.8 406.5,533.1 406.8,533.4 407.1,533.7 407.4,534.1 407.7,534.4 408,534.7 408.3,534.4 408.6,534.2 408.9,534.6 409.2,535 409.5,535 409.8,535.1 410.1,535.5 410.4,536 410.7,536.4 411,536.8 411.3,537.1 411.6,537.3 411.9,537.9 412.2,538.4 412.5,539 412.8,539.6 413.1,539.9 413.4,540.2 413.7,541.4 414,542 414.3,542.4 414.6,542.2 414.9,542.9 415.2,543.6 415.5,544.4 415.8,545.2 416.1,545.6 416.4,546.1 416.7,546.6 417,547 417.3,547.5 417.6,547.9 417.9,547.8 418.2,547.6 418.5,547.2 418.8,546.7 419.1,546.5 419.4,546.2 419.7,545.7 420,545.2 420.3,544.7 420.6,544.3 420.9,543.8 421.2,543.3 421.5,543 421.8,542.7 422.1,542.2 422.4,541.7 422.7,541.2 423,540.8 423.3,540.8 423.6,540.8 423.9,540.6 424.2,540.4 424.5,540.3 424.8,540.2 425.1,540 425.4,539.9 425.7,539.5 426,539.4 426.3,539.5 426.6,539.6 426.9,540 427.2,540.4 427.5,540.2 427.8,540 428.1,540.1 428.4,540.4 428.7,540.9 429,541.6 429.3,542.1 429.6,542.7 429.9,543 430.2,543.3 430.5,543.8 430.8,544.3 431.1,544.9 431.4,545.7 431.7,546.9 432,548.2 432.3,548.8 432.6,549.5 432.9,550.9 433.2,552.3 433.5,553.3 433.8,554.3 434.1,555.5 434.4,556.7 434.7,557.7 435,558.3 435.3,557.9 435.6,557.1 435.9,556.2 436.2,555.3 436.5,554.5 436.8,553.8 437.1,552.5 437.4,551.2 437.7,550.6 438,550 438.3,549.1 438.6,548.3 438.9,547.6 439.2,547.1 439.5,546.4 439.8,545.9 440.1,545.5 440.4,545.2 440.7,545.1 441,545 441.3,545 441.6,545 441.9,545.1 442.2,545.2 442.5,545.9 442.8,546.7 443.1,546.7 443.4,546.8 443.7,547.9 444,549.1 444.3,549.7 444.6,550.4 444.9,552.1 445.2,553.9 445.5,555.4 445.8,557 446.1,558.4 446.4,559.8 446.7,561.7 447,563.4 447.3,564.2 447.6,563.9 447.9,562.6 448.2,560.9 448.5,559.2 448.8,557.6 449.1,556.4 449.4,555.4 449.7,554 450,552.8 450.3,551.5 450.6,550.3 450.9,550 451.2,549.8 451.5,549 451.8,548.2 452.1,548.4 452.4,548.6 452.7,548.8 453,549 453.3,549.3 453.6,549.7 453.9,550.3 454.2,551.2 454.5,552.2 454.8,553.3 455.1,554.9 455.4,556.7 455.7,558.4 456,560.3 456.3,562.4 456.6,564.5 456.9,565.9 457.2,565.8 457.5,564.4 457.8,562.5 458.1,560.3 458.4,558.2 458.7,556.5 459,554.9 459.3,553.7 459.6,552.8 459.9,552 460.2,551.4 460.5,550.7 460.8,550.3 461.1,550.4 461.4,550.6 461.7,551 462,551.7 462.3,552.8 462.6,554.1 462.9,555.2 463.2,556.5 463.5,558.7 463.8,561.1 464.1,563.4 464.4,565.8 464.7,567.8 465,568.2 465.3,566.5 465.6,564.1 465.9,561.4 466.2,559 466.5,557.1 466.8,555.7 467.1,554.4 467.4,553.5 467.7,553.2 468,553.2 468.3,552.8 468.6,552.7 468.9,553.3 469.2,554.2 469.5,554.8 469.8,555.9 470.1,557.9 470.4,560.4 470.7,563.3 471,566.4 471.3,569.3 471.6,570.6 471.9,568.6 472.2,565.7 472.5,562.9 472.8,560.4 473.1,558.1 473.4,556.3 473.7,555 474,554.2 474.3,554.2 474.6,554.4 474.9,554.3 475.2,554.6 475.5,555.9 475.8,557.7 476.1,559.9 476.4,562.5 476.7,565.9 477,569.4 477.3,571.1 477.6,569.3 477.9,566.3 478.2,563.4 478.5,560.7 478.8,558.4 479.1,556.6 479.4,555.4 479.7,555.4 480,555.8 480.3,555.7 480.6,556.1 480.9,557.7 481.2,560 481.5,562.9 481.8,566.3 482.1,569.9 482.4,572.1 482.7,569.9 483,566.4 483.3,564 483.6,561.3 483.9,559.2 484.2,557 484.5,556.6 484.8,556.7 485.1,556.7 485.4,557.3 485.7,559.3 486,562.2 486.3,565.8 486.6,569.9 486.9,573.6 487.2,572.2 487.5,567.9 487.8,563.6 488.1,560.9 488.4,559 488.7,558 489,557.9 489.3,557.8 489.6,558.4 489.9,560.6 490.2,563.7 490.5,567.4 490.8,571.6 491.1,573.8 491.4,570.4 491.7,566.4 492,563 492.3,560.6 492.6,559.2 492.9,558.7 493.2,558.7 493.5,559.8 493.8,562 494.1,565.8 494.4,570.7 494.7,574.6 495,573.5 495.3,569.1 495.6,565.1 495.9,562.3 496.2,560.8 496.5,560.4 496.8,560.6 497.1,561.5 497.4,563.6 497.7,567.3 498,571.9 498.3,575 498.6,571.2 498.9,566.3 499.2,562.7 499.5,560.7 499.8,560.4 500.1,560.7 500.4,562.2 500.7,564.8 501,569 501.3,574.3 501.6,575.4 501.9,570.3 502.2,565.6 502.5,562.3 502.8,561 503.1,561.6 503.4,563.6 503.7,566.3 504,570.7 504.3,575.3 504.6,574.8 504.9,570.1 505.2,566.3 505.5,563.8 505.8,563 506.1,563.5 506.4,565.6 506.7,568.8 507,573.5 507.3,577.1 507.6,572.5 507.9,567.8 508.2,564.9 508.5,563.7 508.8,563.8 509.1,566.4 509.4,571.3 509.7,576.3 510,576 510.3,571.1 510.6,567.5 510.9,565.1 511.2,564.4 511.5,566.6 511.8,571.2 512.1,576 512.4,578.1 512.7,572.8 513,568.5 513.3,566.4 513.6,566.3 513.9,568.2 514.2,572.7 514.5,578 514.8,577.9 515.1,571.7 515.4,567.5 515.7,566 516,566.3 516.3,569.2 516.6,574.8 516.9,579.3 517.2,573.8 517.5,570.9 517.8,570.6 518.1,568.9 518.4,569 518.7,574.6 519,579.8 519.3,573.7 519.6,568.4 519.9,569 520.2,571.8 520.5,573.7 520.8,578.5 521.1,581 521.4,575.7 521.7,570.2 522,567.6 522.3,569.9 522.6,575.5 522.9,581.8 523.2,577.1 523.5,573.7 523.8,573.7 524.1,573.8 524.4,577.2 524.7,582.9 525,577.8 525.3,570.4 525.6,566.3 525.9,568.8 526.2,574.9 526.5,581.6 526.8,576.9 527.1,574.7 527.4,576.2 527.7,579.1 528,585.8 528.3,586.3 528.6,578.4 528.9,575.6 529.2,576 529.5,574.2 529.8,574.5 530.1,573.1 530.4,572.7 530.7,573.1 531,576.4 531.3,580.2 531.6,575.9 531.9,577.6 532.2,583.5 532.5,587.5 532.8,595.2 533.1,583.8 533.4,569 533.7,567.9 534,569.7 534.3,581.2 534.6,584.7 534.9,583.2 535.2,585.1 535.5,582.5 535.8,581.5 536.1,576.2 536.4,573.2 536.7,577.2 537,584.4 537.3,586.7 537.6,584.5 537.9,593 538.2,604.2 538.5,600.9 538.8,595.2 539.1,598.8 539.4,603.2 539.7,601.6 540,594 540.3,591 540.6,592.9 540.9,587.5 541.2,580.4 541.5,569.6 541.8,561.7 542.1,568.8 542.4,572.8 542.7,578.9 543,587.8 543.3,581.1 543.6,571 543.9,570.3 544.2,572.4 544.5,573.7 544.8,570.2 545.1,579 545.4,590.4 545.7,586.3 546,575.9 546.3,586.8 546.6,600.5 546.9,598.1 547.2,591.9 547.5,584.9 547.8,580.9 548.1,585.2 548.4,590.4 548.7,583.2 549,575.7 549.3,578.1 549.6,583.8 549.9,582.8 550.2,575.2 550.5,576.7 550.8,581.4 551.1,580.5 551.4,579 551.7,584.2 552,588.6 552.3,579.6 552.6,574.1 552.9,580.5 553.2,581.7 553.5,586.6 553.8,593.6 554.1,583 554.4,576.1 554.7,579.1 555,575.8 555.3,578.3 555.6,583.1 555.9,581.9 556.2,584.6 556.5,588.9 556.8,588.2 557.1,589.8 557.4,591.2 557.7,579.8 558,572.7 558.3,573.9 558.6,574.6 558.9,590 559.2,599.6 559.5,592.4 559.8,587.8 560.1,577.4 560.4,571.5 560.7,574.5 561,576.3 561.3,581.9 561.6,581.4 561.9,585.6 562.2,589.9 562.5,586.5 562.8,587.9 563.1,577.8 563.4,571.2 563.7,584.3 564,596.6 564.3,596.4 564.6,595.6 564.9,605 565.2,611.3 565.5,607.8 565.8,596.1 566.1,586.1 566.4,580.1 566.7,574.7 567,582.9 567.3,583 567.6,585.2 567.9,577.6 568.2,569.1 568.5,568.7 568.8,565.2 569.1,569.9 569.4,569.9 569.7,571.4 570,567.5 570.3,577.1 570.6,581.9 570.9,578.1 571.2,570.4 571.5,573 571.8,572.3 572.1,572.8 572.4,570.2 572.7,572.8 573,572.2 573.3,574.7 573.6,573.6 573.9,577.9 574.2,578.1 574.5,582.3 574.8,582 575.1,573.1 575.4,560.2 575.7,574 576,585.3 576.3,578.2 576.6,570.7 576.9,572.6 577.2,576.4 577.5,571.1 577.8,569.3 578.1,566.1 578.4,565.8 578.7,574.7 579,583.5 579.3,579 579.6,571.2 579.9,567.8 580.2,562.2 580.5,572.7 580.8,584.7 581.1,580.3 581.4,578.6 581.7,572.2 582,565.4 582.3,567.7 582.6,566.6 582.9,567.8 583.2,570.4 583.5,567.7 583.8,567 584.1,577.3 584.4,585 584.7,579.1 585,573.7 585.3,572.8 585.6,573.7 585.9,569.6 586.2,562.5 586.5,578 586.8,595 587.1,578.2 587.4,562.1 587.7,562.9 588,563.3 588.3,564.4 588.6,566.8 588.9,577.8 589.2,586.7 589.5,576 589.8,566.4 590.1,568.1 590.4,567.9 590.7,575.1 591,583.2 591.3,579.8 591.6,575.9 591.9,569.5 592.2,563.9 592.5,565.4 592.8,567.6 593.1,572.3 593.4,575.7 593.7,572 594,568.9 594.3,569 594.6,569.5 594.9,569.9 595.2,569.8 595.5,564.6 595.8,559.8 596.1,564.7 596.4,570 596.7,569.8 597,569.3 597.3,573.1 597.6,577 597.9,569.3 598.2,561.8 598.5,560.6 598.8,559.4 599.1,569.3 599.4,579.3 599.7,572 600,564.7 600.3,568.1 600.6,571.5 600.9,572.8 601.2,574 601.5,569.7 601.8,565.3 602.1,562.8 602.4,560.3 602.7,560.9 603,561.4 603.3,569.6 603.6,577.6 603.9,568 604.2,558.3 604.5,559.6 604.8,561 605.1,560.9 605.4,560.8 605.7,559 606,557.3 606.3,558 606.6,558.9 606.9,562 607.2,564 607.5,569.5 607.8,575.2 608.1,571.2 608.4,567.6 608.7,563.9 609,560.6 609.3,564.5 609.6,568.5 609.9,562 610.2,556.1 610.5,561.4 610.8,564.5 611.1,560.2 611.4,556.9 611.7,559.6 612,560.8 612.3,559.6 612.6,559.7 612.9,559.4 613.2,556 613.5,560.3 613.8,566.2 614.1,560.1 614.4,553.4 614.7,558.1 615,561.6 615.3,560.2 615.6,561.2 615.9,572.6 616.2,584.8 616.5,575.4 616.8,562.6 617.1,568.1 617.4,571.5 617.7,563.7 618,556.7 618.3,558.4 618.6,562.7 618.9,561.5 619.2,564 619.5,557.5 619.8,554.9 620.1,557.6 620.4,564 620.7,563 621,564.8 621.3,560.9 621.6,558.1 621.9,560.4 622.2,561 622.5,565.4 622.8,566 623.1,564 623.4,562.6 623.7,558.9 624,557.4 624.3,555.5 624.6,552 624.9,549.8 625.2,548.3 625.5,552.9 625.8,555.2 626.1,553.4 626.4,548.4 626.7,539 627,532.4 627.3,537.7 627.6,543.1 627.9,551.3 628.2,561.9 628.5,565 628.8,563.5 629.1,566.6 629.4,569.8 629.7,566.2 630,561.7 630.3,556.6 630.6,551.8 630.9,556.4 631.2,561 631.5,560.3 631.8,559.7 632.1,556.8 632.4,554 632.7,552.7 633,551.5 633.3,553.8 633.6,556.3 633.9,562.7 634.2,569.3 634.5,559.9 634.8,549.8 635.1,551.8 635.4,554.3 635.7,555.9 636,558.1 636.3,559.9 636.6,559.5 636.9,554 637.2,549.5 637.5,552.4 637.8,552.3 638.1,548.3 638.4,546 638.7,551.7 639,557.6 639.3,562.9 639.6,565 639.9,560.8 640.2,557.4 640.5,554.3 640.8,554.5 641.1,551.8 641.4,552.8 641.7,559.2 642,568.9 642.3,557.3 642.6,549.5 642.9,544.9 643.2,543.2 643.5,553.8 643.8,564 644.1,556.9 644.4,546.4 644.7,551.7 645,558.7 645.3,564 645.6,569.6 645.9,564.6 646.2,560.5 646.5,559.5 646.8,558.7 647.1,554.8 647.4,551.3 647.7,554.2 648,561.1 648.3,566.1 648.6,571.3 648.9,577.6 649.2,584 649.5,577.2 649.8,569.6 650.1,562.1 650.4,554.5 650.7,552.7 651,555.1 651.3,557.3 651.6,559.7 651.9,557.3 652.2,555.3 652.5,553.6 652.8,550.7 653.1,555.2 653.4,560.9 653.7,556.2 654,548.8 654.3,546.7 654.6,546.8 654.9,546.6 655.2,548.5 655.5,554.5 655.8,559.7 656.1,561.1 656.4,560.5 656.7,556.6 657,551.5 657.3,548 657.6,546.1 657.9,546.3 658.2,548.8 658.5,556.5 658.8,561.9 659.1,559.7 659.4,558.7 659.7,549 660,538 660.3,546.7 660.6,555.7 660.9,556.1 661.2,556.6 661.5,553.8 661.8,550.8 662.1,549.8 662.4,548.7 662.7,553.7 663,558.6 663.3,560.2 663.6,561.9 663.9,557.5 664.2,553.7 664.5,551.6 664.8,550.2 665.1,548.6 665.4,547.1 665.7,547.3 666,549.8 666.3,549 666.6,548.3 666.9,547.8 667.2,545.8 667.5,552 667.8,557.6 668.1,551.8 668.4,548.5 668.7,550.8 669,554.6 669.3,556.1 669.6,556 669.9,550.3 670.2,545.4 670.5,548.8 670.8,552.5 671.1,550.6 671.4,548.5 671.7,548.7 672,548.8 672.3,547.8 672.6,546.9 672.9,541 673.2,535.6 673.5,549.6 673.8,562 674.1,558.3 674.4,556.4 674.7,559.6 675,560.9 675.3,557.2 675.6,549.8 675.9,544.6 676.2,535.8 676.5,540.2 676.8,542 677.1,543.6 677.4,547.1 677.7,551.3 678,555 678.3,547.4 678.6,540 678.9,545 679.2,549.9 679.5,549.5 679.8,548.8 680.1,548.4 680.4,548 680.7,560.2 681,572.9 681.3,564.3 681.6,552.6 681.9,555.7 682.2,560.9 682.5,556.9 682.8,556.4 683.1,551.5 683.4,550 683.7,552.4 684,557.3 684.3,550.6 684.6,541.3 684.9,542.4 685.2,544 685.5,547.4 685.8,550.8 686.1,545.6 686.4,540 686.7,543 687,545.9 687.3,547.7 687.6,550.2 687.9,551 688.2,548.5 688.5,545.9 688.8,543.7 689.1,551.5 689.4,561 689.7,549.7 690,538.1 690.3,540.6 690.6,541.6 690.9,541.5 691.2,542.2 691.5,551 691.8,559.9 692.1,548.4 692.4,537 692.7,550.7 693,565.2 693.3,554.6 693.6,541.8 693.9,545.4 694.2,549.2 694.5,549.6 694.8,551.7 695.1,547.2 695.4,542.2 695.7,544.2 696,545.9 696.3,543 696.6,540.8 696.9,543.9 697.2,547.1 697.5,546.6 697.8,546.7 698.1,556 698.4,564.7 698.7,560.3 699,555.4 699.3,554.5 699.6,554.6 699.9,558.2 700.2,560.5 700.5,551.2 700.8,542.4 701.1,552.4 701.4,561.9 701.7,553.9 702,546.1 702.3,553.1 702.6,560.2 702.9,551.8 703.2,544.4 703.5,548.2 703.8,555.3 704.1,559.4 704.4,565.2 704.7,559.9 705,552.5 705.3,545.6 705.6,539.1 705.9,537.2 706.2,535.8 706.5,539.1 706.8,540.8 707.1,549.2 707.4,557.8 707.7,555.3 708,553.8 708.3,552.1 708.6,547.6 708.9,547.4 709.2,547.5 709.5,547.3 709.8,547.2 710.1,542.4 710.4,538.9 710.7,538.5 711,540.3 711.3,541.2 711.6,543 711.9,547.7 712.2,553.8 712.5,549.7 712.8,545.4 713.1,540.4 713.4,535.2 713.7,541 714,548.4 714.3,551.7 714.6,557.3 714.9,551.1 715.2,547.1 715.5,545 715.8,541.4 716.1,541.3 716.4,541.9 716.7,541.3 717,539.3 717.3,544.2 717.6,548.7 717.9,555.1 718.2,560.2 718.5,551 718.8,542 719.1,547.8 719.4,553 719.7,546.3 720,540.6 720.3,543.5 720.6,546.2 720.9,547.2 721.2,549.8 721.5,552 721.8,553.5 722.1,549.8 722.4,544.6 722.7,548.5 723,554.7 723.3,548.2 723.6,544.8 723.9,541.6 724.2,538.4 724.5,543.7 724.8,549.5 725.1,551.7 725.4,551 725.7,547.6 726,542 726.3,547.9"/></g></g><text x="496.4" y="465.9" class="lb">LISA</text><text x="636.7" y="474.5" class="lb">aLIGO</text><text x="429.5" y="601.1" class="lb">DECIGO / BBO</text><text x="694.5" y="595.3" class="lb">ET</text><text x="339.9" y="645.1" class="lb">ultimate-DECIGO</text><text x="356.3" y="402.2" class="lb">(c) M=40M<tspan class="sun" dx="1.3" dy="3.8">⊙</tspan><tspan dx="1.1" dy="-3.8">,</tspan></text><text x="374.6" y="423.3" class="lb">Z/Z<tspan class="sun" dx="1.3" dy="3.8">⊙</tspan><tspan dx="1.1" dy="-3.8">=0.01</tspan></text><path d="M358.7 662.3v-2.4M358.7 369.5v2.4M376.2 662.3v-2.4M376.2 369.5v2.4M388.6 662.3v-2.4M388.6 369.5v2.4M398.3 662.3v-2.4M398.3 369.5v2.4M406.1 662.3v-2.4M406.1 369.5v2.4M412.8 662.3v-2.4M412.8 369.5v2.4M418.6 662.3v-2.4M418.6 369.5v2.4M423.7 662.3v-2.4M423.7 369.5v2.4M458.1 662.3v-2.4M458.1 369.5v2.4M475.6 662.3v-2.4M475.6 369.5v2.4M488 662.3v-2.4M488 369.5v2.4M497.7 662.3v-2.4M497.7 369.5v2.4M505.5 662.3v-2.4M505.5 369.5v2.4M512.2 662.3v-2.4M512.2 369.5v2.4M518 662.3v-2.4M518 369.5v2.4M523.1 662.3v-2.4M523.1 369.5v2.4M557.5 662.3v-2.4M557.5 369.5v2.4M575 662.3v-2.4M575 369.5v2.4M587.4 662.3v-2.4M587.4 369.5v2.4M597.1 662.3v-2.4M597.1 369.5v2.4M604.9 662.3v-2.4M604.9 369.5v2.4M611.6 662.3v-2.4M611.6 369.5v2.4M617.4 662.3v-2.4M617.4 369.5v2.4M622.5 662.3v-2.4M622.5 369.5v2.4M656.9 662.3v-2.4M656.9 369.5v2.4M674.4 662.3v-2.4M674.4 369.5v2.4M686.8 662.3v-2.4M686.8 369.5v2.4M696.5 662.3v-2.4M696.5 369.5v2.4M704.3 662.3v-2.4M704.3 369.5v2.4M711 662.3v-2.4M711 369.5v2.4M716.8 662.3v-2.4M716.8 369.5v2.4M721.9 662.3v-2.4M721.9 369.5v2.4M328.8 388.1h2.4M726.4 388.1h-2.4M328.8 383.4h2.4M726.4 383.4h-2.4M328.8 380.1h2.4M726.4 380.1h-2.4M328.8 377.5h2.4M726.4 377.5h-2.4M328.8 375.4h2.4M726.4 375.4h-2.4M328.8 373.6h2.4M726.4 373.6h-2.4M328.8 372.1h2.4M726.4 372.1h-2.4M328.8 370.7h2.4M726.4 370.7h-2.4M328.8 414.7h2.4M726.4 414.7h-2.4M328.8 410h2.4M726.4 410h-2.4M328.8 406.7h2.4M726.4 406.7h-2.4M328.8 404.1h2.4M726.4 404.1h-2.4M328.8 402h2.4M726.4 402h-2.4M328.8 400.2h2.4M726.4 400.2h-2.4M328.8 398.7h2.4M726.4 398.7h-2.4M328.8 397.3h2.4M726.4 397.3h-2.4M328.8 441.3h2.4M726.4 441.3h-2.4M328.8 436.7h2.4M726.4 436.7h-2.4M328.8 433.3h2.4M726.4 433.3h-2.4M328.8 430.7h2.4M726.4 430.7h-2.4M328.8 428.6h2.4M726.4 428.6h-2.4M328.8 426.9h2.4M726.4 426.9h-2.4M328.8 425.3h2.4M726.4 425.3h-2.4M328.8 424h2.4M726.4 424h-2.4M328.8 468h2.4M726.4 468h-2.4M328.8 463.3h2.4M726.4 463.3h-2.4M328.8 459.9h2.4M726.4 459.9h-2.4M328.8 457.4h2.4M726.4 457.4h-2.4M328.8 455.3h2.4M726.4 455.3h-2.4M328.8 453.5h2.4M726.4 453.5h-2.4M328.8 451.9h2.4M726.4 451.9h-2.4M328.8 450.6h2.4M726.4 450.6h-2.4M328.8 494.6h2.4M726.4 494.6h-2.4M328.8 489.9h2.4M726.4 489.9h-2.4M328.8 486.6h2.4M726.4 486.6h-2.4M328.8 484h2.4M726.4 484h-2.4M328.8 481.9h2.4M726.4 481.9h-2.4M328.8 480.1h2.4M726.4 480.1h-2.4M328.8 478.6h2.4M726.4 478.6h-2.4M328.8 477.2h2.4M726.4 477.2h-2.4M328.8 521.2h2.4M726.4 521.2h-2.4M328.8 516.5h2.4M726.4 516.5h-2.4M328.8 513.2h2.4M726.4 513.2h-2.4M328.8 510.6h2.4M726.4 510.6h-2.4M328.8 508.5h2.4M726.4 508.5h-2.4M328.8 506.7h2.4M726.4 506.7h-2.4M328.8 505.2h2.4M726.4 505.2h-2.4M328.8 503.8h2.4M726.4 503.8h-2.4M328.8 547.8h2.4M726.4 547.8h-2.4M328.8 543.1h2.4M726.4 543.1h-2.4M328.8 539.8h2.4M726.4 539.8h-2.4M328.8 537.2h2.4M726.4 537.2h-2.4M328.8 535.1h2.4M726.4 535.1h-2.4M328.8 533.3h2.4M726.4 533.3h-2.4M328.8 531.8h2.4M726.4 531.8h-2.4M328.8 530.4h2.4M726.4 530.4h-2.4M328.8 574.4h2.4M726.4 574.4h-2.4M328.8 569.7h2.4M726.4 569.7h-2.4M328.8 566.4h2.4M726.4 566.4h-2.4M328.8 563.8h2.4M726.4 563.8h-2.4M328.8 561.7h2.4M726.4 561.7h-2.4M328.8 560h2.4M726.4 560h-2.4M328.8 558.4h2.4M726.4 558.4h-2.4M328.8 557h2.4M726.4 557h-2.4M328.8 601.1h2.4M726.4 601.1h-2.4M328.8 596.4h2.4M726.4 596.4h-2.4M328.8 593h2.4M726.4 593h-2.4M328.8 590.5h2.4M726.4 590.5h-2.4M328.8 588.4h2.4M726.4 588.4h-2.4M328.8 586.6h2.4M726.4 586.6h-2.4M328.8 585h2.4M726.4 585h-2.4M328.8 583.7h2.4M726.4 583.7h-2.4M328.8 627.7h2.4M726.4 627.7h-2.4M328.8 623h2.4M726.4 623h-2.4M328.8 619.7h2.4M726.4 619.7h-2.4M328.8 617.1h2.4M726.4 617.1h-2.4M328.8 615h2.4M726.4 615h-2.4M328.8 613.2h2.4M726.4 613.2h-2.4M328.8 611.6h2.4M726.4 611.6h-2.4M328.8 610.3h2.4M726.4 610.3h-2.4M328.8 654.3h2.4M726.4 654.3h-2.4M328.8 649.6h2.4M726.4 649.6h-2.4M328.8 646.3h2.4M726.4 646.3h-2.4M328.8 643.7h2.4M726.4 643.7h-2.4M328.8 641.6h2.4M726.4 641.6h-2.4M328.8 639.8h2.4M726.4 639.8h-2.4M328.8 638.3h2.4M726.4 638.3h-2.4M328.8 636.9h2.4M726.4 636.9h-2.4" stroke="#000" stroke-width="1.5" fill="none"/><path d="M328.8 662.3v-5.2M328.8 369.5v5.2M428.2 662.3v-5.2M428.2 369.5v5.2M527.6 662.3v-5.2M527.6 369.5v5.2M627 662.3v-5.2M627 369.5v5.2M726.4 662.3v-5.2M726.4 369.5v5.2M328.8 369.5h5.2M726.4 369.5h-5.2M328.8 396.1h5.2M726.4 396.1h-5.2M328.8 422.7h5.2M726.4 422.7h-5.2M328.8 449.4h5.2M726.4 449.4h-5.2M328.8 476h5.2M726.4 476h-5.2M328.8 502.6h5.2M726.4 502.6h-5.2M328.8 529.2h5.2M726.4 529.2h-5.2M328.8 555.8h5.2M726.4 555.8h-5.2M328.8 582.4h5.2M726.4 582.4h-5.2M328.8 609.1h5.2M726.4 609.1h-5.2M328.8 635.7h5.2M726.4 635.7h-5.2M328.8 662.3h5.2M726.4 662.3h-5.2" stroke="#000" stroke-width="2" fill="none"/><text x="322.2" y="375.5" text-anchor="end" class="tk">10<tspan class="sup" dy="-6">-16</tspan></text><text x="322.2" y="402.1" text-anchor="end" class="tk">10<tspan class="sup" dy="-6">-17</tspan></text><text x="322.2" y="428.7" text-anchor="end" class="tk">10<tspan class="sup" dy="-6">-18</tspan></text><text x="322.2" y="455.4" text-anchor="end" class="tk">10<tspan class="sup" dy="-6">-19</tspan></text><text x="322.2" y="482" text-anchor="end" class="tk">10<tspan class="sup" dy="-6">-20</tspan></text><text x="322.2" y="508.6" text-anchor="end" class="tk">10<tspan class="sup" dy="-6">-21</tspan></text><text x="322.2" y="535.2" text-anchor="end" class="tk">10<tspan class="sup" dy="-6">-22</tspan></text><text x="322.2" y="561.8" text-anchor="end" class="tk">10<tspan class="sup" dy="-6">-23</tspan></text><text x="322.2" y="588.4" text-anchor="end" class="tk">10<tspan class="sup" dy="-6">-24</tspan></text><text x="322.2" y="615.1" text-anchor="end" class="tk">10<tspan class="sup" dy="-6">-25</tspan></text><text x="322.2" y="641.7" text-anchor="end" class="tk">10<tspan class="sup" dy="-6">-26</tspan></text><text x="322.2" y="668.3" text-anchor="end" class="tk">10<tspan class="sup" dy="-6">-27</tspan></text><text x="329.3" y="682.7" text-anchor="middle" class="tk">10<tspan class="sup" dy="-5.8">-2</tspan></text><text x="428.7" y="682.7" text-anchor="middle" class="tk">10<tspan class="sup" dy="-5.8">-1</tspan></text><text x="528.1" y="682.7" text-anchor="middle" class="tk">10<tspan class="sup" dy="-5.8">0</tspan></text><text x="627.5" y="682.7" text-anchor="middle" class="tk">10<tspan class="sup" dy="-5.8">1</tspan></text><text x="726.9" y="682.7" text-anchor="middle" class="tk">10<tspan class="sup" dy="-5.8">2</tspan></text><text x="529.4" y="708.6" text-anchor="middle" class="ax">f [Hz]</text><text transform="translate(283 518.4) rotate(-90)" text-anchor="middle" class="ax">h<tspan class="sub" dy="3.5">c</tspan><tspan dy="-3.5">(f), h</tspan><tspan class="sub" dy="3.5">n</tspan><tspan dy="-3.5">(f)</tspan></text><rect x="629.4" y="386.3" width="82.2" height="60.3" fill="#fff" stroke="#000" stroke-width="2"/><path d="M631 397.3H667.3" stroke="#000" stroke-width="2.5" fill="none"/><text x="670.3" y="402.9" class="lg3">E=2B</text><path d="M631 416.3H667.3" stroke="#f00" stroke-width="2.5" fill="none"/><text x="670.3" y="422" class="lg3">E=4B</text><path d="M631 435.4H667.3" stroke="#00f" stroke-width="2.5" fill="none"/><text x="670.3" y="441" class="lg3">E=8B</text></g>
</svg>
</body></html>
